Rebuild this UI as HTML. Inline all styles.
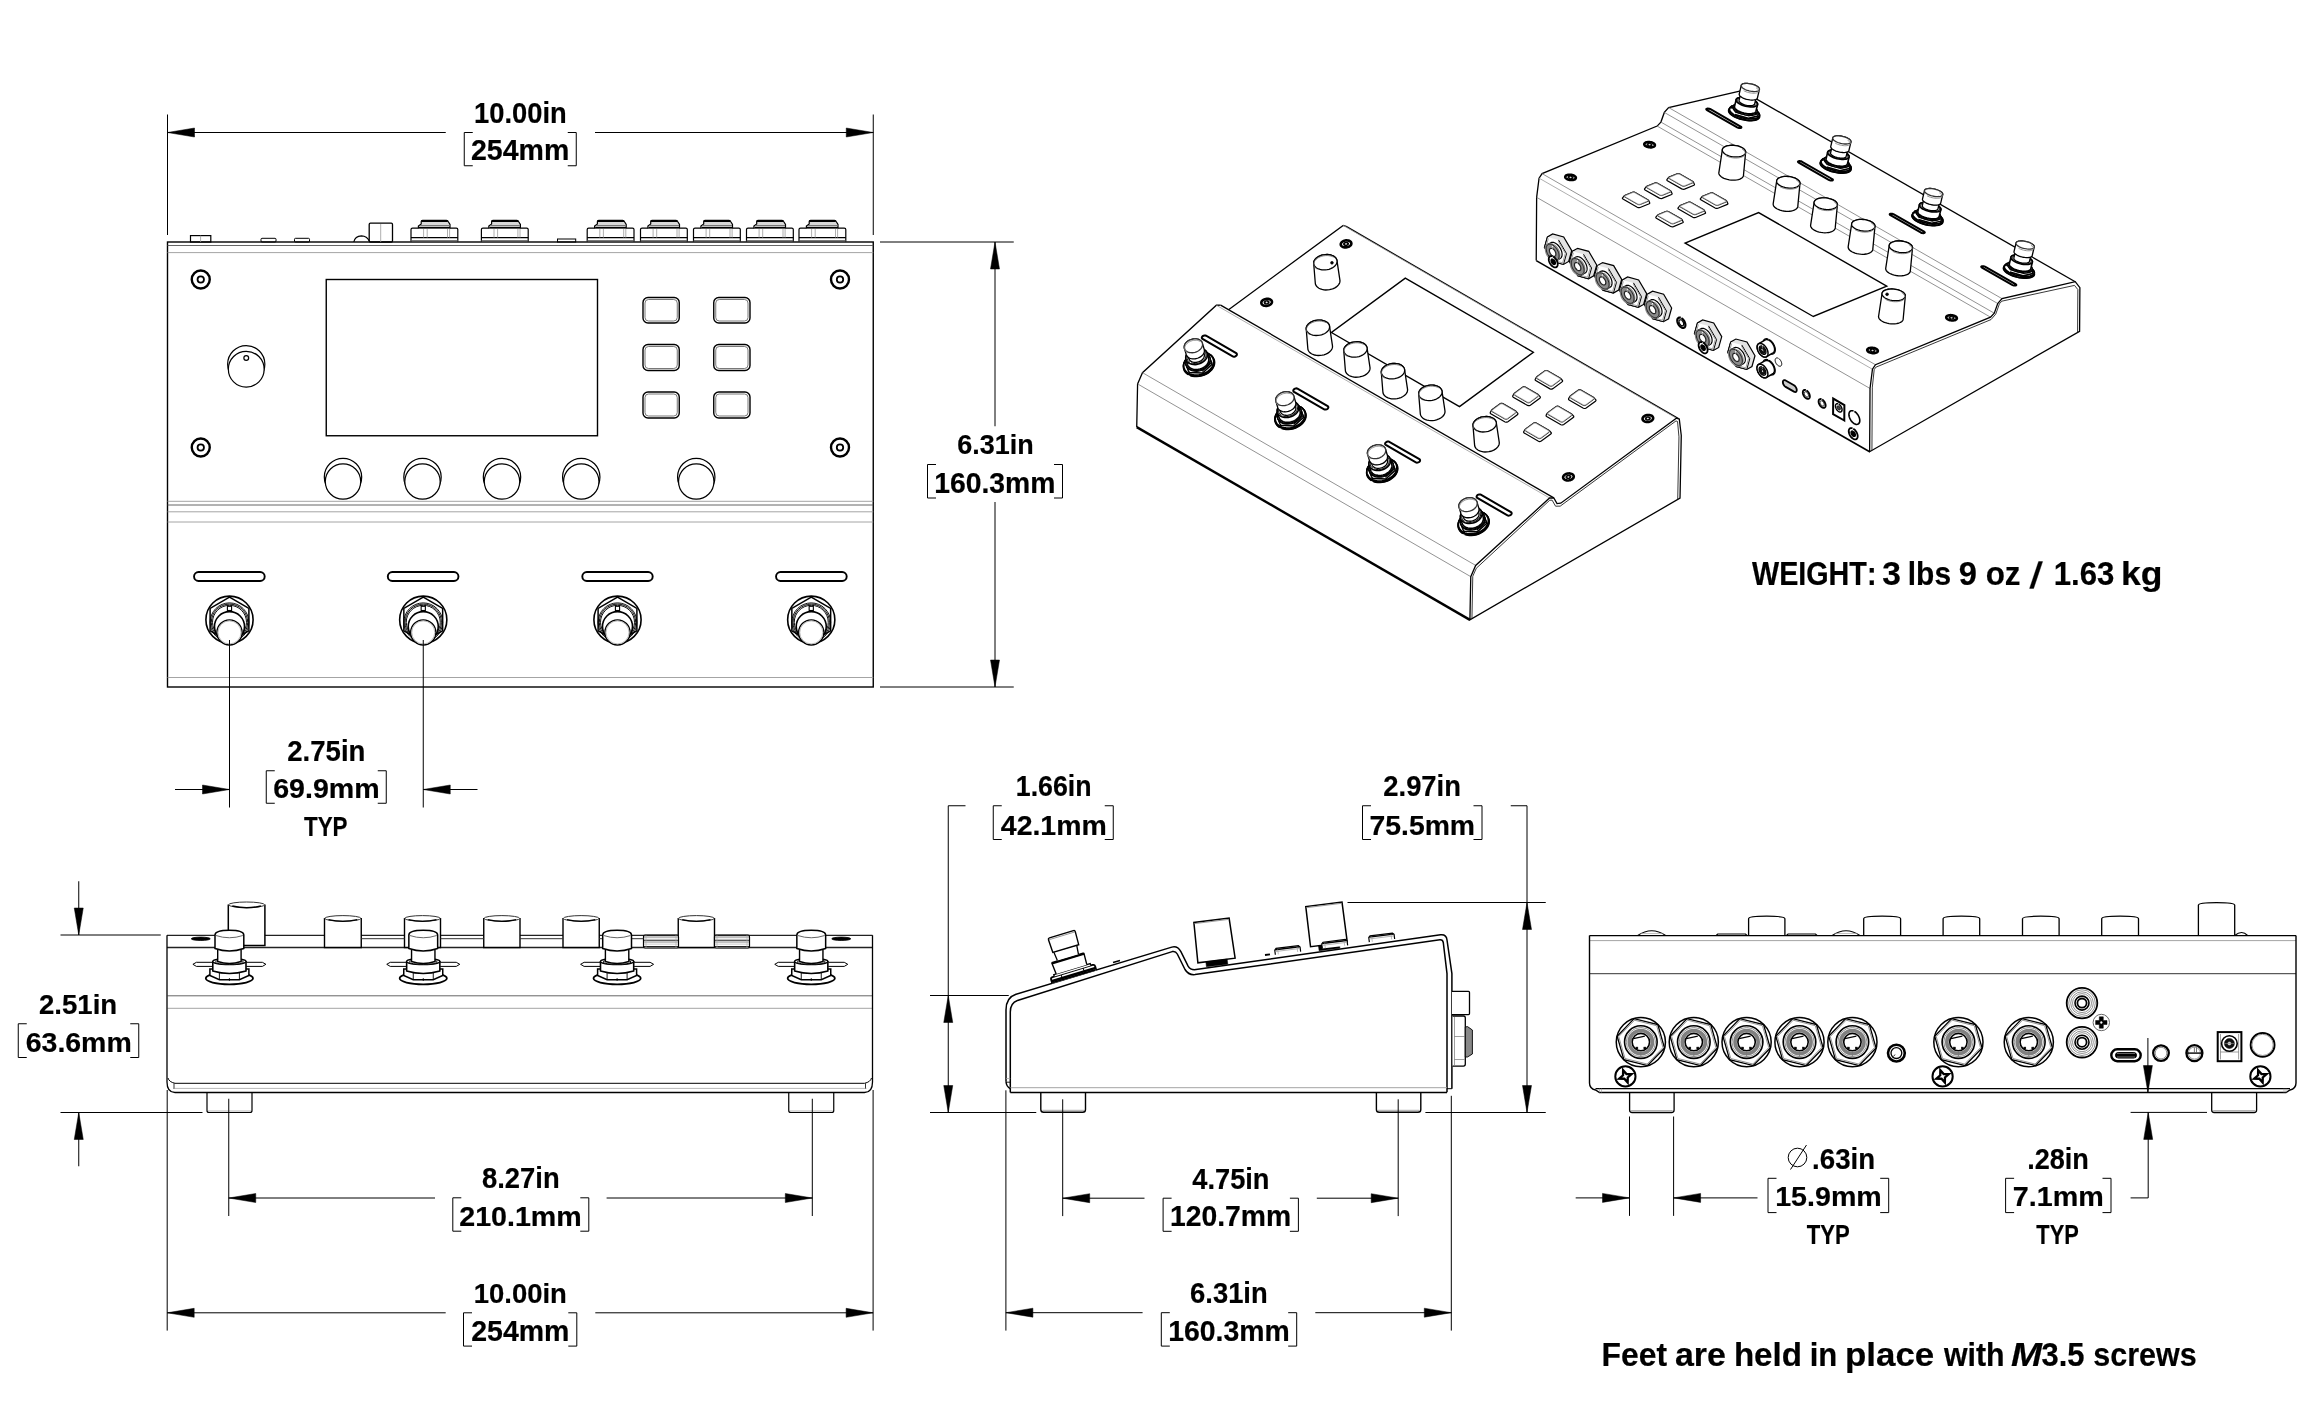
<!DOCTYPE html>
<html><head><meta charset="utf-8"><style>
html,body{margin:0;padding:0;background:#fff;}
svg{display:block;filter:grayscale(1);}
text{font-family:"Liberation Sans",sans-serif;font-kerning:none;}
</style></head><body>
<svg xmlns="http://www.w3.org/2000/svg" width="2316" height="1416" viewBox="0 0 2316 1416">
<rect width="2316" height="1416" fill="#fff"/>
<rect x="167.5" y="242" width="705.75" height="445" stroke="#000" stroke-width="1.4" fill="none"/>
<line x1="167.5" y1="245.5" x2="873.25" y2="245.5" stroke="#555" stroke-width="0.9"/>
<line x1="167.5" y1="252.6" x2="873.25" y2="252.6" stroke="#9a9a9a" stroke-width="0.9"/>
<line x1="167.5" y1="501.3" x2="873.25" y2="501.3" stroke="#9a9a9a" stroke-width="0.9"/>
<line x1="167.5" y1="505" x2="873.25" y2="505" stroke="#555" stroke-width="0.9"/>
<line x1="167.5" y1="511.8" x2="873.25" y2="511.8" stroke="#9a9a9a" stroke-width="0.9"/>
<line x1="167.5" y1="522" x2="873.25" y2="522" stroke="#9a9a9a" stroke-width="0.9"/>
<line x1="167.5" y1="677.5" x2="873.25" y2="677.5" stroke="#9a9a9a" stroke-width="0.9"/>
<circle cx="200.75" cy="279.5" r="9" stroke="#000" stroke-width="2.4" fill="none"/>
<circle cx="200.75" cy="279.5" r="3.2" stroke="#000" stroke-width="1.8" fill="none"/>
<circle cx="840" cy="279.5" r="9" stroke="#000" stroke-width="2.4" fill="none"/>
<circle cx="840" cy="279.5" r="3.2" stroke="#000" stroke-width="1.8" fill="none"/>
<circle cx="200.75" cy="447.5" r="9" stroke="#000" stroke-width="2.4" fill="none"/>
<circle cx="200.75" cy="447.5" r="3.2" stroke="#000" stroke-width="1.8" fill="none"/>
<circle cx="840" cy="447.5" r="9" stroke="#000" stroke-width="2.4" fill="none"/>
<circle cx="840" cy="447.5" r="3.2" stroke="#000" stroke-width="1.8" fill="none"/>
<circle cx="246.25" cy="364.2" r="18.6" stroke="#000" stroke-width="1.2" fill="none"/>
<circle cx="246.25" cy="369.2" r="17.9" stroke="#000" stroke-width="1.2" fill="#fff"/>
<circle cx="246.25" cy="358" r="2.4" stroke="#000" stroke-width="1.2" fill="none"/>
<rect x="326.25" y="279.5" width="271.25" height="156.25" stroke="#000" stroke-width="1.4" fill="none"/>
<rect x="643" y="297.5" width="36.25" height="25.5" rx="5" stroke="#000" stroke-width="1.4" fill="none"/>
<rect x="645" y="299.5" width="32.25" height="21.5" rx="3.5" stroke="#555" stroke-width="0.8" fill="none"/>
<rect x="643" y="344.5" width="36.25" height="26" rx="5" stroke="#000" stroke-width="1.4" fill="none"/>
<rect x="645" y="346.5" width="32.25" height="22" rx="3.5" stroke="#555" stroke-width="0.8" fill="none"/>
<rect x="643" y="392" width="36.25" height="26" rx="5" stroke="#000" stroke-width="1.4" fill="none"/>
<rect x="645" y="394" width="32.25" height="22" rx="3.5" stroke="#555" stroke-width="0.8" fill="none"/>
<rect x="713.75" y="297.5" width="36.25" height="25.5" rx="5" stroke="#000" stroke-width="1.4" fill="none"/>
<rect x="715.75" y="299.5" width="32.25" height="21.5" rx="3.5" stroke="#555" stroke-width="0.8" fill="none"/>
<rect x="713.75" y="344.5" width="36.25" height="26" rx="5" stroke="#000" stroke-width="1.4" fill="none"/>
<rect x="715.75" y="346.5" width="32.25" height="22" rx="3.5" stroke="#555" stroke-width="0.8" fill="none"/>
<rect x="713.75" y="392" width="36.25" height="26" rx="5" stroke="#000" stroke-width="1.4" fill="none"/>
<rect x="715.75" y="394" width="32.25" height="22" rx="3.5" stroke="#555" stroke-width="0.8" fill="none"/>
<circle cx="343" cy="477" r="18.7" stroke="#000" stroke-width="1.2" fill="none"/>
<circle cx="343" cy="481.5" r="17.7" stroke="#000" stroke-width="1.2" fill="#fff"/>
<circle cx="422.5" cy="477" r="18.7" stroke="#000" stroke-width="1.2" fill="none"/>
<circle cx="422.5" cy="481.5" r="17.7" stroke="#000" stroke-width="1.2" fill="#fff"/>
<circle cx="502" cy="477" r="18.7" stroke="#000" stroke-width="1.2" fill="none"/>
<circle cx="502" cy="481.5" r="17.7" stroke="#000" stroke-width="1.2" fill="#fff"/>
<circle cx="581.25" cy="477" r="18.7" stroke="#000" stroke-width="1.2" fill="none"/>
<circle cx="581.25" cy="481.5" r="17.7" stroke="#000" stroke-width="1.2" fill="#fff"/>
<circle cx="696.25" cy="477" r="18.7" stroke="#000" stroke-width="1.2" fill="none"/>
<circle cx="696.25" cy="481.5" r="17.7" stroke="#000" stroke-width="1.2" fill="#fff"/>
<rect x="194.05" y="572" width="70.65" height="9" rx="4.5" stroke="#000" stroke-width="1.9" fill="none"/>
<rect x="387.8" y="572" width="70.65" height="9" rx="4.5" stroke="#000" stroke-width="1.9" fill="none"/>
<rect x="582.3" y="572" width="70.4" height="9" rx="4.5" stroke="#000" stroke-width="1.9" fill="none"/>
<rect x="776.05" y="572" width="70.65" height="9" rx="4.5" stroke="#000" stroke-width="1.9" fill="none"/>
<circle cx="229.5" cy="619.7" r="23.6" stroke="#000" stroke-width="1.6" fill="none"/>
<polygon points="229.5,597.2 210.1,608.4 210.1,630.8 229.5,642 248.9,630.8 248.9,608.4" stroke="#000" stroke-width="1.5" fill="none"/>
<circle cx="229.5" cy="622.3" r="19.4" stroke="#000" stroke-width="0.95" fill="none"/>
<circle cx="229.5" cy="622.3" r="18.2" stroke="#000" stroke-width="0.95" fill="none"/>
<circle cx="229.5" cy="622.3" r="17" stroke="#000" stroke-width="0.95" fill="none"/>
<circle cx="229.5" cy="626.6" r="15" stroke="#000" stroke-width="1.6" fill="#fff"/>
<rect x="227.4" y="606.3" width="4.2" height="4.2" stroke="#000" stroke-width="1.1" fill="#fff"/>
<circle cx="229.5" cy="632.4" r="12.6" stroke="#000" stroke-width="1.3" fill="#fff"/>
<circle cx="229.5" cy="632.4" r="11.5" stroke="#aaa" stroke-width="0.8" fill="none"/>
<circle cx="423.25" cy="619.7" r="23.6" stroke="#000" stroke-width="1.6" fill="none"/>
<polygon points="423.25,597.2 403.85,608.4 403.85,630.8 423.25,642 442.65,630.8 442.65,608.4" stroke="#000" stroke-width="1.5" fill="none"/>
<circle cx="423.25" cy="622.3" r="19.4" stroke="#000" stroke-width="0.95" fill="none"/>
<circle cx="423.25" cy="622.3" r="18.2" stroke="#000" stroke-width="0.95" fill="none"/>
<circle cx="423.25" cy="622.3" r="17" stroke="#000" stroke-width="0.95" fill="none"/>
<circle cx="423.25" cy="626.6" r="15" stroke="#000" stroke-width="1.6" fill="#fff"/>
<rect x="421.15" y="606.3" width="4.2" height="4.2" stroke="#000" stroke-width="1.1" fill="#fff"/>
<circle cx="423.25" cy="632.4" r="12.6" stroke="#000" stroke-width="1.3" fill="#fff"/>
<circle cx="423.25" cy="632.4" r="11.5" stroke="#aaa" stroke-width="0.8" fill="none"/>
<circle cx="617.5" cy="619.7" r="23.6" stroke="#000" stroke-width="1.6" fill="none"/>
<polygon points="617.5,597.2 598.1,608.4 598.1,630.8 617.5,642 636.9,630.8 636.9,608.4" stroke="#000" stroke-width="1.5" fill="none"/>
<circle cx="617.5" cy="622.3" r="19.4" stroke="#000" stroke-width="0.95" fill="none"/>
<circle cx="617.5" cy="622.3" r="18.2" stroke="#000" stroke-width="0.95" fill="none"/>
<circle cx="617.5" cy="622.3" r="17" stroke="#000" stroke-width="0.95" fill="none"/>
<circle cx="617.5" cy="626.6" r="15" stroke="#000" stroke-width="1.6" fill="#fff"/>
<rect x="615.4" y="606.3" width="4.2" height="4.2" stroke="#000" stroke-width="1.1" fill="#fff"/>
<circle cx="617.5" cy="632.4" r="12.6" stroke="#000" stroke-width="1.3" fill="#fff"/>
<circle cx="617.5" cy="632.4" r="11.5" stroke="#aaa" stroke-width="0.8" fill="none"/>
<circle cx="811.25" cy="619.7" r="23.6" stroke="#000" stroke-width="1.6" fill="none"/>
<polygon points="811.25,597.2 791.85,608.4 791.85,630.8 811.25,642 830.65,630.8 830.65,608.4" stroke="#000" stroke-width="1.5" fill="none"/>
<circle cx="811.25" cy="622.3" r="19.4" stroke="#000" stroke-width="0.95" fill="none"/>
<circle cx="811.25" cy="622.3" r="18.2" stroke="#000" stroke-width="0.95" fill="none"/>
<circle cx="811.25" cy="622.3" r="17" stroke="#000" stroke-width="0.95" fill="none"/>
<circle cx="811.25" cy="626.6" r="15" stroke="#000" stroke-width="1.6" fill="#fff"/>
<rect x="809.15" y="606.3" width="4.2" height="4.2" stroke="#000" stroke-width="1.1" fill="#fff"/>
<circle cx="811.25" cy="632.4" r="12.6" stroke="#000" stroke-width="1.3" fill="#fff"/>
<circle cx="811.25" cy="632.4" r="11.5" stroke="#aaa" stroke-width="0.8" fill="none"/>
<rect x="190.5" y="235.6" width="20.3" height="6.4" stroke="#000" stroke-width="1.2" fill="none"/>
<line x1="200.6" y1="235.6" x2="200.6" y2="242" stroke="#9a9a9a" stroke-width="0.8"/>
<rect x="261" y="238.3" width="15" height="3.7" rx="1" stroke="#000" stroke-width="1" fill="none"/>
<rect x="294.5" y="238.3" width="15" height="3.7" rx="1" stroke="#000" stroke-width="1" fill="none"/>
<path d="M353.8,242 Q355,236 361.5,235.8 Q367,236 369.3,241" stroke="#000" stroke-width="1.2" fill="none"/>
<rect x="369.2" y="223.2" width="23.3" height="18.8" rx="1.2" stroke="#000" stroke-width="1.3" fill="none"/>
<line x1="380.7" y1="224" x2="380.7" y2="242" stroke="#9a9a9a" stroke-width="0.8"/>
<path d="M411,241.4 L411,229.5 Q411,228.2 412.5,228.2 L456.3,228.2 Q457.8,228.2 457.8,229.5 L457.8,241.4" stroke="#000" stroke-width="1.2" fill="none"/>
<line x1="411" y1="237.6" x2="457.8" y2="237.6" stroke="#000" stroke-width="1.4"/>
<line x1="411" y1="240.5" x2="457.8" y2="240.5" stroke="#555" stroke-width="0.8"/>
<line x1="423.6" y1="229" x2="423.6" y2="237.6" stroke="#9a9a9a" stroke-width="0.8"/>
<line x1="427.2" y1="229" x2="427.2" y2="237.6" stroke="#9a9a9a" stroke-width="0.8"/>
<line x1="447.5" y1="229" x2="447.5" y2="237.6" stroke="#9a9a9a" stroke-width="0.8"/>
<line x1="449.6" y1="229" x2="449.6" y2="237.6" stroke="#9a9a9a" stroke-width="0.8"/>
<path d="M418.4,228.2 L418.4,226 L421.2,224 L421.2,221.5 Q421.2,220.3 422.5,220.3 L446.5,220.3 Q447.8,220.3 448.5,222 L450,224.5 L450,228.2" stroke="#000" stroke-width="1.2" fill="#d8d8d8"/>
<line x1="421.2" y1="221.2" x2="447.8" y2="221.2" stroke="#000" stroke-width="1.6"/>
<line x1="420" y1="225.5" x2="449.5" y2="225.5" stroke="#777" stroke-width="1"/>
<line x1="419" y1="227.5" x2="450" y2="227.5" stroke="#000" stroke-width="1.2"/>
<path d="M481.4,241.4 L481.4,229.5 Q481.4,228.2 482.9,228.2 L526.7,228.2 Q528.2,228.2 528.2,229.5 L528.2,241.4" stroke="#000" stroke-width="1.2" fill="none"/>
<line x1="481.4" y1="237.6" x2="528.2" y2="237.6" stroke="#000" stroke-width="1.4"/>
<line x1="481.4" y1="240.5" x2="528.2" y2="240.5" stroke="#555" stroke-width="0.8"/>
<line x1="494" y1="229" x2="494" y2="237.6" stroke="#9a9a9a" stroke-width="0.8"/>
<line x1="497.6" y1="229" x2="497.6" y2="237.6" stroke="#9a9a9a" stroke-width="0.8"/>
<line x1="517.9" y1="229" x2="517.9" y2="237.6" stroke="#9a9a9a" stroke-width="0.8"/>
<line x1="520" y1="229" x2="520" y2="237.6" stroke="#9a9a9a" stroke-width="0.8"/>
<path d="M488.8,228.2 L488.8,226 L491.6,224 L491.6,221.5 Q491.6,220.3 492.9,220.3 L516.9,220.3 Q518.2,220.3 518.9,222 L520.4,224.5 L520.4,228.2" stroke="#000" stroke-width="1.2" fill="#d8d8d8"/>
<line x1="491.6" y1="221.2" x2="518.2" y2="221.2" stroke="#000" stroke-width="1.6"/>
<line x1="490.4" y1="225.5" x2="519.9" y2="225.5" stroke="#777" stroke-width="1"/>
<line x1="489.4" y1="227.5" x2="520.4" y2="227.5" stroke="#000" stroke-width="1.2"/>
<path d="M587.2,241.4 L587.2,229.5 Q587.2,228.2 588.7,228.2 L632.5,228.2 Q634,228.2 634,229.5 L634,241.4" stroke="#000" stroke-width="1.2" fill="none"/>
<line x1="587.2" y1="237.6" x2="634" y2="237.6" stroke="#000" stroke-width="1.4"/>
<line x1="587.2" y1="240.5" x2="634" y2="240.5" stroke="#555" stroke-width="0.8"/>
<line x1="599.8" y1="229" x2="599.8" y2="237.6" stroke="#9a9a9a" stroke-width="0.8"/>
<line x1="603.4" y1="229" x2="603.4" y2="237.6" stroke="#9a9a9a" stroke-width="0.8"/>
<line x1="623.7" y1="229" x2="623.7" y2="237.6" stroke="#9a9a9a" stroke-width="0.8"/>
<line x1="625.8" y1="229" x2="625.8" y2="237.6" stroke="#9a9a9a" stroke-width="0.8"/>
<path d="M594.6,228.2 L594.6,226 L597.4,224 L597.4,221.5 Q597.4,220.3 598.7,220.3 L622.7,220.3 Q624,220.3 624.7,222 L626.2,224.5 L626.2,228.2" stroke="#000" stroke-width="1.2" fill="#d8d8d8"/>
<line x1="597.4" y1="221.2" x2="624" y2="221.2" stroke="#000" stroke-width="1.6"/>
<line x1="596.2" y1="225.5" x2="625.7" y2="225.5" stroke="#777" stroke-width="1"/>
<line x1="595.2" y1="227.5" x2="626.2" y2="227.5" stroke="#000" stroke-width="1.2"/>
<path d="M640.5,241.4 L640.5,229.5 Q640.5,228.2 642,228.2 L685.8,228.2 Q687.3,228.2 687.3,229.5 L687.3,241.4" stroke="#000" stroke-width="1.2" fill="none"/>
<line x1="640.5" y1="237.6" x2="687.3" y2="237.6" stroke="#000" stroke-width="1.4"/>
<line x1="640.5" y1="240.5" x2="687.3" y2="240.5" stroke="#555" stroke-width="0.8"/>
<line x1="653.1" y1="229" x2="653.1" y2="237.6" stroke="#9a9a9a" stroke-width="0.8"/>
<line x1="656.7" y1="229" x2="656.7" y2="237.6" stroke="#9a9a9a" stroke-width="0.8"/>
<line x1="677" y1="229" x2="677" y2="237.6" stroke="#9a9a9a" stroke-width="0.8"/>
<line x1="679.1" y1="229" x2="679.1" y2="237.6" stroke="#9a9a9a" stroke-width="0.8"/>
<path d="M647.9,228.2 L647.9,226 L650.7,224 L650.7,221.5 Q650.7,220.3 652,220.3 L676,220.3 Q677.3,220.3 678,222 L679.5,224.5 L679.5,228.2" stroke="#000" stroke-width="1.2" fill="#d8d8d8"/>
<line x1="650.7" y1="221.2" x2="677.3" y2="221.2" stroke="#000" stroke-width="1.6"/>
<line x1="649.5" y1="225.5" x2="679" y2="225.5" stroke="#777" stroke-width="1"/>
<line x1="648.5" y1="227.5" x2="679.5" y2="227.5" stroke="#000" stroke-width="1.2"/>
<path d="M693.5,241.4 L693.5,229.5 Q693.5,228.2 695,228.2 L738.8,228.2 Q740.3,228.2 740.3,229.5 L740.3,241.4" stroke="#000" stroke-width="1.2" fill="none"/>
<line x1="693.5" y1="237.6" x2="740.3" y2="237.6" stroke="#000" stroke-width="1.4"/>
<line x1="693.5" y1="240.5" x2="740.3" y2="240.5" stroke="#555" stroke-width="0.8"/>
<line x1="706.1" y1="229" x2="706.1" y2="237.6" stroke="#9a9a9a" stroke-width="0.8"/>
<line x1="709.7" y1="229" x2="709.7" y2="237.6" stroke="#9a9a9a" stroke-width="0.8"/>
<line x1="730" y1="229" x2="730" y2="237.6" stroke="#9a9a9a" stroke-width="0.8"/>
<line x1="732.1" y1="229" x2="732.1" y2="237.6" stroke="#9a9a9a" stroke-width="0.8"/>
<path d="M700.9,228.2 L700.9,226 L703.7,224 L703.7,221.5 Q703.7,220.3 705,220.3 L729,220.3 Q730.3,220.3 731,222 L732.5,224.5 L732.5,228.2" stroke="#000" stroke-width="1.2" fill="#d8d8d8"/>
<line x1="703.7" y1="221.2" x2="730.3" y2="221.2" stroke="#000" stroke-width="1.6"/>
<line x1="702.5" y1="225.5" x2="732" y2="225.5" stroke="#777" stroke-width="1"/>
<line x1="701.5" y1="227.5" x2="732.5" y2="227.5" stroke="#000" stroke-width="1.2"/>
<path d="M746.5,241.4 L746.5,229.5 Q746.5,228.2 748,228.2 L791.8,228.2 Q793.3,228.2 793.3,229.5 L793.3,241.4" stroke="#000" stroke-width="1.2" fill="none"/>
<line x1="746.5" y1="237.6" x2="793.3" y2="237.6" stroke="#000" stroke-width="1.4"/>
<line x1="746.5" y1="240.5" x2="793.3" y2="240.5" stroke="#555" stroke-width="0.8"/>
<line x1="759.1" y1="229" x2="759.1" y2="237.6" stroke="#9a9a9a" stroke-width="0.8"/>
<line x1="762.7" y1="229" x2="762.7" y2="237.6" stroke="#9a9a9a" stroke-width="0.8"/>
<line x1="783" y1="229" x2="783" y2="237.6" stroke="#9a9a9a" stroke-width="0.8"/>
<line x1="785.1" y1="229" x2="785.1" y2="237.6" stroke="#9a9a9a" stroke-width="0.8"/>
<path d="M753.9,228.2 L753.9,226 L756.7,224 L756.7,221.5 Q756.7,220.3 758,220.3 L782,220.3 Q783.3,220.3 784,222 L785.5,224.5 L785.5,228.2" stroke="#000" stroke-width="1.2" fill="#d8d8d8"/>
<line x1="756.7" y1="221.2" x2="783.3" y2="221.2" stroke="#000" stroke-width="1.6"/>
<line x1="755.5" y1="225.5" x2="785" y2="225.5" stroke="#777" stroke-width="1"/>
<line x1="754.5" y1="227.5" x2="785.5" y2="227.5" stroke="#000" stroke-width="1.2"/>
<path d="M799,241.4 L799,229.5 Q799,228.2 800.5,228.2 L844.3,228.2 Q845.8,228.2 845.8,229.5 L845.8,241.4" stroke="#000" stroke-width="1.2" fill="none"/>
<line x1="799" y1="237.6" x2="845.8" y2="237.6" stroke="#000" stroke-width="1.4"/>
<line x1="799" y1="240.5" x2="845.8" y2="240.5" stroke="#555" stroke-width="0.8"/>
<line x1="811.6" y1="229" x2="811.6" y2="237.6" stroke="#9a9a9a" stroke-width="0.8"/>
<line x1="815.2" y1="229" x2="815.2" y2="237.6" stroke="#9a9a9a" stroke-width="0.8"/>
<line x1="835.5" y1="229" x2="835.5" y2="237.6" stroke="#9a9a9a" stroke-width="0.8"/>
<line x1="837.6" y1="229" x2="837.6" y2="237.6" stroke="#9a9a9a" stroke-width="0.8"/>
<path d="M806.4,228.2 L806.4,226 L809.2,224 L809.2,221.5 Q809.2,220.3 810.5,220.3 L834.5,220.3 Q835.8,220.3 836.5,222 L838,224.5 L838,228.2" stroke="#000" stroke-width="1.2" fill="#d8d8d8"/>
<line x1="809.2" y1="221.2" x2="835.8" y2="221.2" stroke="#000" stroke-width="1.6"/>
<line x1="808" y1="225.5" x2="837.5" y2="225.5" stroke="#777" stroke-width="1"/>
<line x1="807" y1="227.5" x2="838" y2="227.5" stroke="#000" stroke-width="1.2"/>
<rect x="557.5" y="239" width="18.2" height="3" stroke="#000" stroke-width="1" fill="none"/>
<line x1="167" y1="935.3" x2="872.5" y2="935.3" stroke="#222" stroke-width="1.3"/>
<line x1="167" y1="947.5" x2="872.5" y2="947.5" stroke="#222" stroke-width="1.3"/>
<line x1="167.5" y1="995.8" x2="872" y2="995.8" stroke="#555" stroke-width="0.9"/>
<line x1="167.5" y1="1008.3" x2="872" y2="1008.3" stroke="#9a9a9a" stroke-width="0.9"/>
<path d="M167,935.3 L167,1082 Q167,1092.5 175,1092.5 L864.5,1092.5 Q872.5,1092.5 872.5,1082 L872.5,935.3" stroke="#000" stroke-width="1.3" fill="none"/>
<path d="M168,1078 Q169,1082 175,1083.3 L864.5,1083.3 Q870.5,1082 871.5,1078" stroke="#000" stroke-width="1" fill="none"/>
<line x1="174" y1="1083.3" x2="174" y2="1089" stroke="#000" stroke-width="0.8"/>
<line x1="865.5" y1="1083.3" x2="865.5" y2="1089" stroke="#000" stroke-width="0.8"/>
<line x1="173" y1="1088.4" x2="866.5" y2="1088.4" stroke="#9a9a9a" stroke-width="0.7"/>
<path d="M207,1092.5 L207,1110.5 Q207,1112.5 209,1112.5 L250,1112.5 Q252,1112.5 252,1110.5 L252,1092.5" stroke="#000" stroke-width="1.2" fill="none"/>
<line x1="208" y1="1111" x2="251" y2="1111" stroke="#9a9a9a" stroke-width="0.7"/>
<path d="M788.75,1092.5 L788.75,1110.5 Q788.75,1112.5 790.75,1112.5 L831.75,1112.5 Q833.75,1112.5 833.75,1110.5 L833.75,1092.5" stroke="#000" stroke-width="1.2" fill="none"/>
<line x1="789.75" y1="1111" x2="832.75" y2="1111" stroke="#9a9a9a" stroke-width="0.7"/>
<ellipse cx="200.75" cy="938.8" rx="9.5" ry="1.7" stroke="#000" stroke-width="0.8" fill="#000"/>
<ellipse cx="841.25" cy="938.8" rx="9.5" ry="1.7" stroke="#000" stroke-width="0.8" fill="#000"/>
<path d="M228.3,904.5 L228.3,945.5 L264.9,945.5 L264.9,904.5" stroke="#000" stroke-width="1.5" fill="#fff"/>
<ellipse cx="246.6" cy="904.8" rx="18" ry="2.8" stroke="#333" stroke-width="1" fill="#fff"/>
<path d="M232.3,906 Q246.6,909.5 260.9,906" stroke="#000" stroke-width="1.3" fill="none"/>
<path d="M324.5,918.1 L324.5,947.5 L361.25,947.5 L361.25,918.1" stroke="#000" stroke-width="1.4" fill="#fff"/>
<ellipse cx="342.88" cy="918.4" rx="18.07" ry="2.8" stroke="#333" stroke-width="1" fill="#fff"/>
<path d="M328.5,919.6 Q342.88,923.1 357.25,919.6" stroke="#000" stroke-width="1.3" fill="none"/>
<path d="M404.5,918.1 L404.5,947.5 L440.5,947.5 L440.5,918.1" stroke="#000" stroke-width="1.4" fill="#fff"/>
<ellipse cx="422.5" cy="918.4" rx="17.7" ry="2.8" stroke="#333" stroke-width="1" fill="#fff"/>
<path d="M408.5,919.6 Q422.5,923.1 436.5,919.6" stroke="#000" stroke-width="1.3" fill="none"/>
<path d="M483.75,918.1 L483.75,947.5 L520,947.5 L520,918.1" stroke="#000" stroke-width="1.4" fill="#fff"/>
<ellipse cx="501.88" cy="918.4" rx="17.82" ry="2.8" stroke="#333" stroke-width="1" fill="#fff"/>
<path d="M487.75,919.6 Q501.88,923.1 516,919.6" stroke="#000" stroke-width="1.3" fill="none"/>
<path d="M563,918.1 L563,947.5 L599.25,947.5 L599.25,918.1" stroke="#000" stroke-width="1.4" fill="#fff"/>
<ellipse cx="581.12" cy="918.4" rx="17.82" ry="2.8" stroke="#333" stroke-width="1" fill="#fff"/>
<path d="M567,919.6 Q581.12,923.1 595.25,919.6" stroke="#000" stroke-width="1.3" fill="none"/>
<path d="M678.25,918.1 L678.25,947.5 L714.5,947.5 L714.5,918.1" stroke="#000" stroke-width="1.4" fill="#fff"/>
<ellipse cx="696.38" cy="918.4" rx="17.82" ry="2.8" stroke="#333" stroke-width="1" fill="#fff"/>
<path d="M682.25,919.6 Q696.38,923.1 710.5,919.6" stroke="#000" stroke-width="1.3" fill="none"/>
<rect x="643.5" y="935.2" width="35" height="12.8" rx="1.5" stroke="#000" stroke-width="1.2" fill="#fff"/>
<line x1="644" y1="935.6" x2="678" y2="935.6" stroke="#222" stroke-width="1.2"/>
<line x1="644" y1="937.6" x2="678" y2="937.6" stroke="#999" stroke-width="0.7"/>
<line x1="644" y1="939.4" x2="678" y2="939.4" stroke="#999" stroke-width="0.7"/>
<line x1="644" y1="940.8" x2="678" y2="940.8" stroke="#222" stroke-width="1.1"/>
<line x1="644" y1="942.6" x2="678" y2="942.6" stroke="#aaa" stroke-width="0.8"/>
<line x1="644" y1="944.2" x2="678" y2="944.2" stroke="#bbb" stroke-width="0.7"/>
<line x1="644" y1="946.6" x2="678" y2="946.6" stroke="#222" stroke-width="1.2"/>
<line x1="646" y1="935.2" x2="646" y2="948" stroke="#aaa" stroke-width="0.6"/>
<line x1="676" y1="935.2" x2="676" y2="948" stroke="#aaa" stroke-width="0.6"/>
<rect x="714.5" y="935.2" width="35" height="12.8" rx="1.5" stroke="#000" stroke-width="1.2" fill="#fff"/>
<line x1="715" y1="935.6" x2="749" y2="935.6" stroke="#222" stroke-width="1.2"/>
<line x1="715" y1="937.6" x2="749" y2="937.6" stroke="#999" stroke-width="0.7"/>
<line x1="715" y1="939.4" x2="749" y2="939.4" stroke="#999" stroke-width="0.7"/>
<line x1="715" y1="940.8" x2="749" y2="940.8" stroke="#222" stroke-width="1.1"/>
<line x1="715" y1="942.6" x2="749" y2="942.6" stroke="#aaa" stroke-width="0.8"/>
<line x1="715" y1="944.2" x2="749" y2="944.2" stroke="#bbb" stroke-width="0.7"/>
<line x1="715" y1="946.6" x2="749" y2="946.6" stroke="#222" stroke-width="1.2"/>
<line x1="717" y1="935.2" x2="717" y2="948" stroke="#aaa" stroke-width="0.6"/>
<line x1="747" y1="935.2" x2="747" y2="948" stroke="#aaa" stroke-width="0.6"/>
<line x1="361.25" y1="938.7" x2="404.5" y2="938.7" stroke="#333" stroke-width="1"/>
<line x1="440.5" y1="938.7" x2="483.75" y2="938.7" stroke="#333" stroke-width="1"/>
<line x1="520" y1="938.7" x2="563" y2="938.7" stroke="#333" stroke-width="1"/>
<line x1="599.25" y1="938.7" x2="643.5" y2="938.7" stroke="#333" stroke-width="1"/>
<ellipse cx="229.4" cy="978.3" rx="23.6" ry="6" stroke="#000" stroke-width="1.8" fill="none"/>
<path d="M209.9,969 L209.9,975.5 L219.4,979.8 L239.4,979.8 L248.9,975.5 L248.9,969 Z" stroke="#000" stroke-width="1.5" fill="#fff"/>
<line x1="219.4" y1="970.5" x2="219.4" y2="979.8" stroke="#000" stroke-width="0.9"/>
<line x1="239.4" y1="970.5" x2="239.4" y2="979.8" stroke="#000" stroke-width="0.9"/>
<line x1="229.4" y1="978" x2="229.4" y2="981" stroke="#000" stroke-width="0.8"/>
<path d="M212.8,961 L212.8,971 Q229.4,976 246,971 L246,961" stroke="#000" stroke-width="1.6" fill="#fff"/>
<ellipse cx="229.4" cy="961.5" rx="16.6" ry="3" stroke="#000" stroke-width="1.4" fill="#fff"/>
<ellipse cx="229.4" cy="962" rx="14" ry="2.4" stroke="#000" stroke-width="1" fill="#fff"/>
<polyline points="192.9,964.3 196.4,962.3 212.4,962.3" stroke="#000" stroke-width="1" fill="none"/>
<polyline points="192.9,964.3 196.4,966.4 212.4,966.4" stroke="#000" stroke-width="1" fill="none"/>
<polyline points="265.9,964.3 262.4,962.3 246.4,962.3" stroke="#000" stroke-width="1" fill="none"/>
<polyline points="265.9,964.3 262.4,966.4 246.4,966.4" stroke="#000" stroke-width="1" fill="none"/>
<path d="M217.7,950 L217.7,961.5 Q229.4,965.5 241.1,961.5 L241.1,950" stroke="#000" stroke-width="1.4" fill="#fff"/>
<path d="M215,935 Q215,930.2 229.4,930.2 Q243.8,930.2 243.8,935 L243.8,948.5 Q229.4,953.5 215,948.5 Z" stroke="#000" stroke-width="1.5" fill="#fff"/>
<path d="M215.9,935.5 Q229.4,940 242.9,935.5" stroke="#666" stroke-width="1" fill="none"/>
<ellipse cx="423.25" cy="978.3" rx="23.6" ry="6" stroke="#000" stroke-width="1.8" fill="none"/>
<path d="M403.75,969 L403.75,975.5 L413.25,979.8 L433.25,979.8 L442.75,975.5 L442.75,969 Z" stroke="#000" stroke-width="1.5" fill="#fff"/>
<line x1="413.25" y1="970.5" x2="413.25" y2="979.8" stroke="#000" stroke-width="0.9"/>
<line x1="433.25" y1="970.5" x2="433.25" y2="979.8" stroke="#000" stroke-width="0.9"/>
<line x1="423.25" y1="978" x2="423.25" y2="981" stroke="#000" stroke-width="0.8"/>
<path d="M406.65,961 L406.65,971 Q423.25,976 439.85,971 L439.85,961" stroke="#000" stroke-width="1.6" fill="#fff"/>
<ellipse cx="423.25" cy="961.5" rx="16.6" ry="3" stroke="#000" stroke-width="1.4" fill="#fff"/>
<ellipse cx="423.25" cy="962" rx="14" ry="2.4" stroke="#000" stroke-width="1" fill="#fff"/>
<polyline points="386.75,964.3 390.25,962.3 406.25,962.3" stroke="#000" stroke-width="1" fill="none"/>
<polyline points="386.75,964.3 390.25,966.4 406.25,966.4" stroke="#000" stroke-width="1" fill="none"/>
<polyline points="459.75,964.3 456.25,962.3 440.25,962.3" stroke="#000" stroke-width="1" fill="none"/>
<polyline points="459.75,964.3 456.25,966.4 440.25,966.4" stroke="#000" stroke-width="1" fill="none"/>
<path d="M411.55,950 L411.55,961.5 Q423.25,965.5 434.95,961.5 L434.95,950" stroke="#000" stroke-width="1.4" fill="#fff"/>
<path d="M408.85,935 Q408.85,930.2 423.25,930.2 Q437.65,930.2 437.65,935 L437.65,948.5 Q423.25,953.5 408.85,948.5 Z" stroke="#000" stroke-width="1.5" fill="#fff"/>
<path d="M409.75,935.5 Q423.25,940 436.75,935.5" stroke="#666" stroke-width="1" fill="none"/>
<ellipse cx="617.1" cy="978.3" rx="23.6" ry="6" stroke="#000" stroke-width="1.8" fill="none"/>
<path d="M597.6,969 L597.6,975.5 L607.1,979.8 L627.1,979.8 L636.6,975.5 L636.6,969 Z" stroke="#000" stroke-width="1.5" fill="#fff"/>
<line x1="607.1" y1="970.5" x2="607.1" y2="979.8" stroke="#000" stroke-width="0.9"/>
<line x1="627.1" y1="970.5" x2="627.1" y2="979.8" stroke="#000" stroke-width="0.9"/>
<line x1="617.1" y1="978" x2="617.1" y2="981" stroke="#000" stroke-width="0.8"/>
<path d="M600.5,961 L600.5,971 Q617.1,976 633.7,971 L633.7,961" stroke="#000" stroke-width="1.6" fill="#fff"/>
<ellipse cx="617.1" cy="961.5" rx="16.6" ry="3" stroke="#000" stroke-width="1.4" fill="#fff"/>
<ellipse cx="617.1" cy="962" rx="14" ry="2.4" stroke="#000" stroke-width="1" fill="#fff"/>
<polyline points="580.6,964.3 584.1,962.3 600.1,962.3" stroke="#000" stroke-width="1" fill="none"/>
<polyline points="580.6,964.3 584.1,966.4 600.1,966.4" stroke="#000" stroke-width="1" fill="none"/>
<polyline points="653.6,964.3 650.1,962.3 634.1,962.3" stroke="#000" stroke-width="1" fill="none"/>
<polyline points="653.6,964.3 650.1,966.4 634.1,966.4" stroke="#000" stroke-width="1" fill="none"/>
<path d="M605.4,950 L605.4,961.5 Q617.1,965.5 628.8,961.5 L628.8,950" stroke="#000" stroke-width="1.4" fill="#fff"/>
<path d="M602.7,935 Q602.7,930.2 617.1,930.2 Q631.5,930.2 631.5,935 L631.5,948.5 Q617.1,953.5 602.7,948.5 Z" stroke="#000" stroke-width="1.5" fill="#fff"/>
<path d="M603.6,935.5 Q617.1,940 630.6,935.5" stroke="#666" stroke-width="1" fill="none"/>
<ellipse cx="811.25" cy="978.3" rx="23.6" ry="6" stroke="#000" stroke-width="1.8" fill="none"/>
<path d="M791.75,969 L791.75,975.5 L801.25,979.8 L821.25,979.8 L830.75,975.5 L830.75,969 Z" stroke="#000" stroke-width="1.5" fill="#fff"/>
<line x1="801.25" y1="970.5" x2="801.25" y2="979.8" stroke="#000" stroke-width="0.9"/>
<line x1="821.25" y1="970.5" x2="821.25" y2="979.8" stroke="#000" stroke-width="0.9"/>
<line x1="811.25" y1="978" x2="811.25" y2="981" stroke="#000" stroke-width="0.8"/>
<path d="M794.65,961 L794.65,971 Q811.25,976 827.85,971 L827.85,961" stroke="#000" stroke-width="1.6" fill="#fff"/>
<ellipse cx="811.25" cy="961.5" rx="16.6" ry="3" stroke="#000" stroke-width="1.4" fill="#fff"/>
<ellipse cx="811.25" cy="962" rx="14" ry="2.4" stroke="#000" stroke-width="1" fill="#fff"/>
<polyline points="774.75,964.3 778.25,962.3 794.25,962.3" stroke="#000" stroke-width="1" fill="none"/>
<polyline points="774.75,964.3 778.25,966.4 794.25,966.4" stroke="#000" stroke-width="1" fill="none"/>
<polyline points="847.75,964.3 844.25,962.3 828.25,962.3" stroke="#000" stroke-width="1" fill="none"/>
<polyline points="847.75,964.3 844.25,966.4 828.25,966.4" stroke="#000" stroke-width="1" fill="none"/>
<path d="M799.55,950 L799.55,961.5 Q811.25,965.5 822.95,961.5 L822.95,950" stroke="#000" stroke-width="1.4" fill="#fff"/>
<path d="M796.85,935 Q796.85,930.2 811.25,930.2 Q825.65,930.2 825.65,935 L825.65,948.5 Q811.25,953.5 796.85,948.5 Z" stroke="#000" stroke-width="1.5" fill="#fff"/>
<path d="M797.75,935.5 Q811.25,940 824.75,935.5" stroke="#666" stroke-width="1" fill="none"/>
<path d="M1006,1081.8 L1006,1010 Q1006,997.5 1016,994.3 L1171.8,947.1 Q1177.5,945.5 1180.9,951.6 L1188.1,966.1 Q1190.5,970.3 1196,969.6 L1440.6,934.8 Q1446.4,934.2 1447,940 L1451.9,973.6 L1451.9,1088.7" stroke="#000" stroke-width="1.5" fill="none"/>
<path d="M1010.3,1092.5 L1010.3,1012 Q1010.3,1003 1017.5,1000.5 L1172.2,951.6 Q1175.5,950.8 1177.3,954 L1185,969.5 Q1188.5,975.3 1195,974.6 L1439.9,939.8 Q1442.8,939.6 1443.3,942.6 L1447,973.6 L1447,1092.2" stroke="#000" stroke-width="1.5" fill="none"/>
<path d="M1006,1081.8 Q1006.5,1087 1010.3,1088.6" stroke="#000" stroke-width="1.5" fill="none"/>
<line x1="1006" y1="1078.5" x2="1010.3" y2="1078.5" stroke="#9a9a9a" stroke-width="0.7"/>
<line x1="1006" y1="1082.2" x2="1010.3" y2="1082.2" stroke="#000" stroke-width="0.9"/>
<line x1="1010.3" y1="1092.5" x2="1447" y2="1092.5" stroke="#000" stroke-width="1.6"/>
<line x1="1010.3" y1="1087.7" x2="1447" y2="1087.7" stroke="#9a9a9a" stroke-width="0.9"/>
<line x1="1447" y1="1088.7" x2="1451.9" y2="1088.7" stroke="#000" stroke-width="1"/>
<path d="M1040.8,1092.5 L1040.8,1109.5 Q1040.8,1112.3 1043.6,1112.3 L1082.7,1112.3 Q1085.5,1112.3 1085.5,1109.5 L1085.5,1092.5" stroke="#000" stroke-width="1.4" fill="none"/>
<line x1="1042.3" y1="1110.3" x2="1084" y2="1110.3" stroke="#aaa" stroke-width="1"/>
<path d="M1376.4,1092.5 L1376.4,1109.5 Q1376.4,1112.3 1379.2,1112.3 L1418,1112.3 Q1420.8,1112.3 1420.8,1109.5 L1420.8,1092.5" stroke="#000" stroke-width="1.4" fill="none"/>
<line x1="1377.9" y1="1110.3" x2="1419.3" y2="1110.3" stroke="#aaa" stroke-width="1"/>
<path d="M1451.9,991.3 L1468.5,991.3 Q1469.5,991.3 1469.5,992.5 L1469.5,1013.5 Q1469.5,1014.6 1468.5,1014.6 L1451.9,1014.6" stroke="#000" stroke-width="1.3" fill="#fff"/>
<path d="M1452.6,1016 L1463.5,1016 Q1465.3,1016 1465.3,1018 L1465.3,1064 Q1465.3,1066.1 1463.5,1066.1 L1452.6,1066.1" stroke="#000" stroke-width="1.3" fill="#fff"/>
<line x1="1454.5" y1="1017" x2="1454.5" y2="1065" stroke="#888" stroke-width="0.8"/>
<line x1="1454" y1="1036.5" x2="1465" y2="1036.5" stroke="#888" stroke-width="0.8"/>
<line x1="1454" y1="1059.5" x2="1465" y2="1059.5" stroke="#888" stroke-width="0.8"/>
<path d="M1465.3,1027 L1467.5,1026.6 L1472.4,1030 L1472.4,1054 L1467.5,1057 L1465.3,1057 Z" stroke="#000" stroke-width="0.9" fill="#888"/>
<g transform="translate(1074.3,976.8) rotate(-16.8)">
<path d="M-23,0 L-23,-4 Q-23,-6 -21,-6 L21,-6 Q23,-6 23,-4 L23,0" stroke="#000" stroke-width="1.8" fill="#fff"/>
<line x1="-23" y1="-2.3" x2="23" y2="-2.3" stroke="#000" stroke-width="2.4"/>
<line x1="-22" y1="-0.6" x2="22" y2="-0.6" stroke="#000" stroke-width="1.6"/>
<line x1="-12" y1="-6" x2="-12" y2="0" stroke="#000" stroke-width="0.9"/>
<line x1="11" y1="-6" x2="11" y2="0" stroke="#000" stroke-width="0.9"/>
<path d="M-19,-6 L-19,-8 L19,-8 L19,-6" stroke="#000" stroke-width="1.4" fill="#fff"/>
<path d="M-16.5,-8 L-17.5,-19.5 L16,-19.5 L15.5,-8" stroke="#000" stroke-width="1.4" fill="#fff"/>
<line x1="-17.5" y1="-19.5" x2="16" y2="-19.5" stroke="#000" stroke-width="2.6"/>
<path d="M-11.5,-20.5 L-12.5,-30 L11.5,-30 L10.5,-20.5" stroke="#000" stroke-width="1.3" fill="#fff"/>
<path d="M-13.5,-29.5 L-14,-43 Q-14,-44.5 -12.5,-44.5 L12.5,-44.5 Q14,-44.5 14,-43 L13.5,-29.5 Z" stroke="#000" stroke-width="1.4" fill="#fff"/>
<line x1="-13.5" y1="-42.8" x2="13.5" y2="-42.8" stroke="#777" stroke-width="0.7"/>
</g>
<g transform="translate(1216.5,960.5) rotate(-7.1)">
<path d="M-18.75,0 L-17.75,-40.5 L17.75,-40.5 L18.75,0 Z" stroke="#000" stroke-width="1.5" fill="#fff"/>
<line x1="-17.25" y1="-39.3" x2="17.25" y2="-39.3" stroke="#888" stroke-width="0.8"/>
<rect x="-10.75" y="0" width="21.5" height="5" stroke="#000" stroke-width="0.5" fill="#000"/>
</g>
<g transform="translate(1328.9,944.5) rotate(-7.1)">
<path d="M-18.5,0 L-18.25,-40.5 L18.25,-40.5 L18.5,0 Z" stroke="#000" stroke-width="1.5" fill="#fff"/>
<line x1="-17.75" y1="-39.3" x2="17.75" y2="-39.3" stroke="#888" stroke-width="0.8"/>
<rect x="-10.5" y="0" width="21" height="5" stroke="#000" stroke-width="0.5" fill="#000"/>
</g>
<g transform="translate(1288,953.2) rotate(-7.1)">
<path d="M-12.75,0 L-12.75,-4.7 L-11.25,-6.2 L11.25,-6.2 L12.75,-4.7 L12.75,0" stroke="#000" stroke-width="1.2" fill="#fff"/>
<line x1="-12.25" y1="-5" x2="12.25" y2="-5" stroke="#000" stroke-width="1.4"/>
<line x1="-12.25" y1="-3.2" x2="12.25" y2="-3.2" stroke="#999" stroke-width="0.7"/>
<line x1="-9.75" y1="-5.2" x2="-9.75" y2="0" stroke="#999" stroke-width="0.6"/>
<line x1="9.75" y1="-5.2" x2="9.75" y2="0" stroke="#999" stroke-width="0.6"/>
</g>
<g transform="translate(1335,947) rotate(-7.1)">
<path d="M-12.75,0 L-12.75,-4.7 L-11.25,-6.2 L11.25,-6.2 L12.75,-4.7 L12.75,0" stroke="#000" stroke-width="1.2" fill="#fff"/>
<line x1="-12.25" y1="-5" x2="12.25" y2="-5" stroke="#000" stroke-width="1.4"/>
<line x1="-12.25" y1="-3.2" x2="12.25" y2="-3.2" stroke="#999" stroke-width="0.7"/>
<line x1="-9.75" y1="-5.2" x2="-9.75" y2="0" stroke="#999" stroke-width="0.6"/>
<line x1="9.75" y1="-5.2" x2="9.75" y2="0" stroke="#999" stroke-width="0.6"/>
</g>
<g transform="translate(1382,940.6) rotate(-7.1)">
<path d="M-12.75,0 L-12.75,-4.7 L-11.25,-6.2 L11.25,-6.2 L12.75,-4.7 L12.75,0" stroke="#000" stroke-width="1.2" fill="#fff"/>
<line x1="-12.25" y1="-5" x2="12.25" y2="-5" stroke="#000" stroke-width="1.4"/>
<line x1="-12.25" y1="-3.2" x2="12.25" y2="-3.2" stroke="#999" stroke-width="0.7"/>
<line x1="-9.75" y1="-5.2" x2="-9.75" y2="0" stroke="#999" stroke-width="0.6"/>
<line x1="9.75" y1="-5.2" x2="9.75" y2="0" stroke="#999" stroke-width="0.6"/>
</g>
<line x1="1265" y1="955" x2="1270" y2="954.3" stroke="#000" stroke-width="1.8"/>
<line x1="1113" y1="962.5" x2="1120" y2="960.5" stroke="#000" stroke-width="1.5"/>
<path d="M1637.7,935.5 Q1651.7,926 1665.7,935.5" stroke="#000" stroke-width="1.1" fill="none"/>
<line x1="1640.7" y1="933.5" x2="1662.7" y2="933.5" stroke="#999" stroke-width="0.6"/>
<path d="M1832.2,935.5 Q1846.05,926 1859.9,935.5" stroke="#000" stroke-width="1.1" fill="none"/>
<line x1="1835.2" y1="933.5" x2="1856.9" y2="933.5" stroke="#999" stroke-width="0.6"/>
<path d="M1716.2,935.5 L1717.7,934 L1745.5,934 L1747,935.5" stroke="#000" stroke-width="1.2" fill="none"/>
<path d="M1786.5,935.5 L1788,934 L1815.5,934 L1817,935.5" stroke="#000" stroke-width="1.2" fill="none"/>
<path d="M1748.6,935.5 L1748.6,918.7 Q1748.6,916.2 1766.75,916.2 Q1784.9,916.2 1784.9,918.7 L1784.9,935.5" stroke="#000" stroke-width="1.3" fill="#fff"/>
<path d="M1863.7,935.5 L1863.7,918.7 Q1863.7,916.2 1882.15,916.2 Q1900.6,916.2 1900.6,918.7 L1900.6,935.5" stroke="#000" stroke-width="1.3" fill="#fff"/>
<path d="M1943.1,935.5 L1943.1,918.7 Q1943.1,916.2 1961.4,916.2 Q1979.7,916.2 1979.7,918.7 L1979.7,935.5" stroke="#000" stroke-width="1.3" fill="#fff"/>
<path d="M2022.5,935.5 L2022.5,918.7 Q2022.5,916.2 2040.8,916.2 Q2059.1,916.2 2059.1,918.7 L2059.1,935.5" stroke="#000" stroke-width="1.3" fill="#fff"/>
<path d="M2101.7,935.5 L2101.7,918.7 Q2101.7,916.2 2120.1,916.2 Q2138.5,916.2 2138.5,918.7 L2138.5,935.5" stroke="#000" stroke-width="1.3" fill="#fff"/>
<path d="M2198.4,935.5 L2198.4,905.1 Q2198.4,902.6 2216.55,902.6 Q2234.7,902.6 2234.7,905.1 L2234.7,935.5" stroke="#000" stroke-width="1.3" fill="#fff"/>
<path d="M2234.7,935.5 Q2242,929.5 2247.6,935.5" stroke="#000" stroke-width="1.1" fill="none"/>
<line x1="1589.5" y1="935.6" x2="2296" y2="935.6" stroke="#000" stroke-width="1.4"/>
<line x1="1589.5" y1="940.6" x2="2296" y2="940.6" stroke="#9a9a9a" stroke-width="0.9"/>
<line x1="1589.5" y1="973.7" x2="2296" y2="973.7" stroke="#333" stroke-width="1"/>
<path d="M1589.5,935.6 L1589.5,1083 Q1589.5,1088.6 1595.5,1090 L1599.5,1092.5 L2286,1092.5 L2290,1090 Q2296,1088.6 2296,1083 L2296,935.6" stroke="#000" stroke-width="1.4" fill="none"/>
<line x1="1595.5" y1="1088.6" x2="2290" y2="1088.6" stroke="#000" stroke-width="1.4"/>
<line x1="1599.5" y1="1088.6" x2="1599.5" y2="1092.5" stroke="#9a9a9a" stroke-width="0.6"/>
<line x1="1601.5" y1="1088.6" x2="1601.5" y2="1092.5" stroke="#9a9a9a" stroke-width="0.6"/>
<line x1="2286" y1="1088.6" x2="2286" y2="1092.5" stroke="#9a9a9a" stroke-width="0.6"/>
<line x1="2284" y1="1088.6" x2="2284" y2="1092.5" stroke="#9a9a9a" stroke-width="0.6"/>
<path d="M1629.6,1092.5 L1629.6,1110 Q1629.6,1112.5 1632.1,1112.5 L1671.6,1112.5 Q1674.1,1112.5 1674.1,1110 L1674.1,1092.5" stroke="#000" stroke-width="1.3" fill="none"/>
<line x1="1631.1" y1="1110.6" x2="1672.6" y2="1110.6" stroke="#aaa" stroke-width="1"/>
<path d="M2211.7,1092.5 L2211.7,1110 Q2211.7,1112.5 2214.2,1112.5 L2254.1,1112.5 Q2256.6,1112.5 2256.6,1110 L2256.6,1092.5" stroke="#000" stroke-width="1.3" fill="none"/>
<line x1="2213.2" y1="1110.6" x2="2255.1" y2="1110.6" stroke="#aaa" stroke-width="1"/>
<circle cx="1640.85" cy="1042.1" r="24.6" stroke="#000" stroke-width="1.5" fill="#fff"/>
<polygon points="1634.12,1018.65 1617.17,1036.2 1623.9,1059.65 1647.58,1065.55 1664.53,1048 1657.8,1024.55" stroke="#000" stroke-width="1.3" fill="none"/>
<polygon points="1634.57,1020.18 1618.73,1036.58 1625.01,1058.5 1647.13,1064.02 1662.97,1047.62 1656.69,1025.7" stroke="#777" stroke-width="0.8" fill="none"/>
<circle cx="1640.85" cy="1042.1" r="16.3" stroke="#000" stroke-width="1.6" fill="none"/>
<circle cx="1640.85" cy="1042.1" r="14.6" stroke="#777" stroke-width="0.8" fill="none"/>
<circle cx="1640.85" cy="1042.1" r="11.6" stroke="#808080" stroke-width="3.6" fill="none"/>
<circle cx="1640.85" cy="1042.1" r="8.7" stroke="#000" stroke-width="1.6" fill="none"/>
<path d="M1633.35,1038.6 L1644.85,1036.1" stroke="#000" stroke-width="1.2" fill="none"/>
<rect x="1635.85" y="1047.1" width="2" height="2" stroke="#000" stroke-width="0.5" fill="#000"/>
<rect x="1643.85" y="1047.1" width="2" height="2" stroke="#000" stroke-width="0.5" fill="#000"/>
<line x1="1640.85" y1="1051.1" x2="1640.85" y2="1057.1" stroke="#777" stroke-width="0.8"/>
<circle cx="1693.8" cy="1042.1" r="24.6" stroke="#000" stroke-width="1.5" fill="#fff"/>
<polygon points="1687.07,1018.65 1670.12,1036.2 1676.85,1059.65 1700.53,1065.55 1717.48,1048 1710.75,1024.55" stroke="#000" stroke-width="1.3" fill="none"/>
<polygon points="1687.52,1020.18 1671.68,1036.58 1677.96,1058.5 1700.08,1064.02 1715.92,1047.62 1709.64,1025.7" stroke="#777" stroke-width="0.8" fill="none"/>
<circle cx="1693.8" cy="1042.1" r="16.3" stroke="#000" stroke-width="1.6" fill="none"/>
<circle cx="1693.8" cy="1042.1" r="14.6" stroke="#777" stroke-width="0.8" fill="none"/>
<circle cx="1693.8" cy="1042.1" r="11.6" stroke="#808080" stroke-width="3.6" fill="none"/>
<circle cx="1693.8" cy="1042.1" r="8.7" stroke="#000" stroke-width="1.6" fill="none"/>
<path d="M1686.3,1038.6 L1697.8,1036.1" stroke="#000" stroke-width="1.2" fill="none"/>
<rect x="1688.8" y="1047.1" width="2" height="2" stroke="#000" stroke-width="0.5" fill="#000"/>
<rect x="1696.8" y="1047.1" width="2" height="2" stroke="#000" stroke-width="0.5" fill="#000"/>
<line x1="1693.8" y1="1051.1" x2="1693.8" y2="1057.1" stroke="#777" stroke-width="0.8"/>
<circle cx="1746.6" cy="1042.1" r="24.6" stroke="#000" stroke-width="1.5" fill="#fff"/>
<polygon points="1739.87,1018.65 1722.92,1036.2 1729.65,1059.65 1753.33,1065.55 1770.28,1048 1763.55,1024.55" stroke="#000" stroke-width="1.3" fill="none"/>
<polygon points="1740.32,1020.18 1724.48,1036.58 1730.76,1058.5 1752.88,1064.02 1768.72,1047.62 1762.44,1025.7" stroke="#777" stroke-width="0.8" fill="none"/>
<circle cx="1746.6" cy="1042.1" r="16.3" stroke="#000" stroke-width="1.6" fill="none"/>
<circle cx="1746.6" cy="1042.1" r="14.6" stroke="#777" stroke-width="0.8" fill="none"/>
<circle cx="1746.6" cy="1042.1" r="11.6" stroke="#808080" stroke-width="3.6" fill="none"/>
<circle cx="1746.6" cy="1042.1" r="8.7" stroke="#000" stroke-width="1.6" fill="none"/>
<path d="M1739.1,1038.6 L1750.6,1036.1" stroke="#000" stroke-width="1.2" fill="none"/>
<rect x="1741.6" y="1047.1" width="2" height="2" stroke="#000" stroke-width="0.5" fill="#000"/>
<rect x="1749.6" y="1047.1" width="2" height="2" stroke="#000" stroke-width="0.5" fill="#000"/>
<line x1="1746.6" y1="1051.1" x2="1746.6" y2="1057.1" stroke="#777" stroke-width="0.8"/>
<circle cx="1799.5" cy="1042.1" r="24.6" stroke="#000" stroke-width="1.5" fill="#fff"/>
<polygon points="1792.77,1018.65 1775.82,1036.2 1782.55,1059.65 1806.23,1065.55 1823.18,1048 1816.45,1024.55" stroke="#000" stroke-width="1.3" fill="none"/>
<polygon points="1793.22,1020.18 1777.38,1036.58 1783.66,1058.5 1805.78,1064.02 1821.62,1047.62 1815.34,1025.7" stroke="#777" stroke-width="0.8" fill="none"/>
<circle cx="1799.5" cy="1042.1" r="16.3" stroke="#000" stroke-width="1.6" fill="none"/>
<circle cx="1799.5" cy="1042.1" r="14.6" stroke="#777" stroke-width="0.8" fill="none"/>
<circle cx="1799.5" cy="1042.1" r="11.6" stroke="#808080" stroke-width="3.6" fill="none"/>
<circle cx="1799.5" cy="1042.1" r="8.7" stroke="#000" stroke-width="1.6" fill="none"/>
<path d="M1792,1038.6 L1803.5,1036.1" stroke="#000" stroke-width="1.2" fill="none"/>
<rect x="1794.5" y="1047.1" width="2" height="2" stroke="#000" stroke-width="0.5" fill="#000"/>
<rect x="1802.5" y="1047.1" width="2" height="2" stroke="#000" stroke-width="0.5" fill="#000"/>
<line x1="1799.5" y1="1051.1" x2="1799.5" y2="1057.1" stroke="#777" stroke-width="0.8"/>
<circle cx="1852.4" cy="1042.1" r="24.6" stroke="#000" stroke-width="1.5" fill="#fff"/>
<polygon points="1845.67,1018.65 1828.72,1036.2 1835.45,1059.65 1859.13,1065.55 1876.08,1048 1869.35,1024.55" stroke="#000" stroke-width="1.3" fill="none"/>
<polygon points="1846.12,1020.18 1830.28,1036.58 1836.56,1058.5 1858.68,1064.02 1874.52,1047.62 1868.24,1025.7" stroke="#777" stroke-width="0.8" fill="none"/>
<circle cx="1852.4" cy="1042.1" r="16.3" stroke="#000" stroke-width="1.6" fill="none"/>
<circle cx="1852.4" cy="1042.1" r="14.6" stroke="#777" stroke-width="0.8" fill="none"/>
<circle cx="1852.4" cy="1042.1" r="11.6" stroke="#808080" stroke-width="3.6" fill="none"/>
<circle cx="1852.4" cy="1042.1" r="8.7" stroke="#000" stroke-width="1.6" fill="none"/>
<path d="M1844.9,1038.6 L1856.4,1036.1" stroke="#000" stroke-width="1.2" fill="none"/>
<rect x="1847.4" y="1047.1" width="2" height="2" stroke="#000" stroke-width="0.5" fill="#000"/>
<rect x="1855.4" y="1047.1" width="2" height="2" stroke="#000" stroke-width="0.5" fill="#000"/>
<line x1="1852.4" y1="1051.1" x2="1852.4" y2="1057.1" stroke="#777" stroke-width="0.8"/>
<circle cx="1958.4" cy="1042.1" r="24.6" stroke="#000" stroke-width="1.5" fill="#fff"/>
<polygon points="1951.67,1018.65 1934.72,1036.2 1941.45,1059.65 1965.13,1065.55 1982.08,1048 1975.35,1024.55" stroke="#000" stroke-width="1.3" fill="none"/>
<polygon points="1952.12,1020.18 1936.28,1036.58 1942.56,1058.5 1964.68,1064.02 1980.52,1047.62 1974.24,1025.7" stroke="#777" stroke-width="0.8" fill="none"/>
<circle cx="1958.4" cy="1042.1" r="16.3" stroke="#000" stroke-width="1.6" fill="none"/>
<circle cx="1958.4" cy="1042.1" r="14.6" stroke="#777" stroke-width="0.8" fill="none"/>
<circle cx="1958.4" cy="1042.1" r="11.6" stroke="#808080" stroke-width="3.6" fill="none"/>
<circle cx="1958.4" cy="1042.1" r="8.7" stroke="#000" stroke-width="1.6" fill="none"/>
<path d="M1950.9,1038.6 L1962.4,1036.1" stroke="#000" stroke-width="1.2" fill="none"/>
<rect x="1953.4" y="1047.1" width="2" height="2" stroke="#000" stroke-width="0.5" fill="#000"/>
<rect x="1961.4" y="1047.1" width="2" height="2" stroke="#000" stroke-width="0.5" fill="#000"/>
<line x1="1958.4" y1="1051.1" x2="1958.4" y2="1057.1" stroke="#777" stroke-width="0.8"/>
<circle cx="2028.8" cy="1042.1" r="24.6" stroke="#000" stroke-width="1.5" fill="#fff"/>
<polygon points="2022.07,1018.65 2005.12,1036.2 2011.85,1059.65 2035.53,1065.55 2052.48,1048 2045.75,1024.55" stroke="#000" stroke-width="1.3" fill="none"/>
<polygon points="2022.52,1020.18 2006.68,1036.58 2012.96,1058.5 2035.08,1064.02 2050.92,1047.62 2044.64,1025.7" stroke="#777" stroke-width="0.8" fill="none"/>
<circle cx="2028.8" cy="1042.1" r="16.3" stroke="#000" stroke-width="1.6" fill="none"/>
<circle cx="2028.8" cy="1042.1" r="14.6" stroke="#777" stroke-width="0.8" fill="none"/>
<circle cx="2028.8" cy="1042.1" r="11.6" stroke="#808080" stroke-width="3.6" fill="none"/>
<circle cx="2028.8" cy="1042.1" r="8.7" stroke="#000" stroke-width="1.6" fill="none"/>
<path d="M2021.3,1038.6 L2032.8,1036.1" stroke="#000" stroke-width="1.2" fill="none"/>
<rect x="2023.8" y="1047.1" width="2" height="2" stroke="#000" stroke-width="0.5" fill="#000"/>
<rect x="2031.8" y="1047.1" width="2" height="2" stroke="#000" stroke-width="0.5" fill="#000"/>
<line x1="2028.8" y1="1051.1" x2="2028.8" y2="1057.1" stroke="#777" stroke-width="0.8"/>
<circle cx="1896.4" cy="1053.1" r="8.4" stroke="#000" stroke-width="2.6" fill="none"/>
<circle cx="1896.4" cy="1053.1" r="5.4" stroke="#000" stroke-width="1.3" fill="none"/>
<path d="M1893.5,1056.5 L1895,1054.5" stroke="#000" stroke-width="0.8" fill="none"/>
<circle cx="2082" cy="1003.1" r="15.3" stroke="#000" stroke-width="1.8" fill="#fff"/>
<circle cx="2082" cy="1003.1" r="13.3" stroke="#777" stroke-width="0.8" fill="none"/>
<circle cx="2082" cy="1003.1" r="11.3" stroke="#777" stroke-width="0.8" fill="none"/>
<circle cx="2082" cy="1003.1" r="9.5" stroke="#777" stroke-width="0.8" fill="none"/>
<circle cx="2082" cy="1003.1" r="7" stroke="#000" stroke-width="1.6" fill="none"/>
<circle cx="2082" cy="1003.1" r="4.6" stroke="#000" stroke-width="1.8" fill="none"/>
<circle cx="2082" cy="1042.2" r="15.3" stroke="#000" stroke-width="1.8" fill="#fff"/>
<circle cx="2082" cy="1042.2" r="13.3" stroke="#777" stroke-width="0.8" fill="none"/>
<circle cx="2082" cy="1042.2" r="11.3" stroke="#777" stroke-width="0.8" fill="none"/>
<circle cx="2082" cy="1042.2" r="9.5" stroke="#777" stroke-width="0.8" fill="none"/>
<circle cx="2082" cy="1042.2" r="7" stroke="#000" stroke-width="1.6" fill="none"/>
<circle cx="2082" cy="1042.2" r="4.6" stroke="#000" stroke-width="1.8" fill="none"/>
<circle cx="2101.3" cy="1022.5" r="8.2" stroke="#555" stroke-width="0.9" fill="#fff"/>
<path d="M2099.3,1016.8 L2103.3,1016.8 L2103.3,1020.5 L2107,1020.5 L2107,1024.5 L2103.3,1024.5 L2103.3,1028.2 L2099.3,1028.2 L2099.3,1024.5 L2095.6,1024.5 L2095.6,1020.5 L2099.3,1020.5 Z" stroke="#000" stroke-width="0.5" fill="#000"/>
<circle cx="2101.3" cy="1022.5" r="1" stroke="#fff" stroke-width="0.4" fill="#fff"/>
<rect x="2111.3" y="1049.3" width="29.4" height="11.9" rx="5.9" stroke="#000" stroke-width="2.4" fill="#fff"/>
<rect x="2115.5" y="1052.5" width="21" height="5.5" rx="2.7" stroke="#000" stroke-width="1" fill="#000"/>
<line x1="2117" y1="1053.4" x2="2135" y2="1053.4" stroke="#bbb" stroke-width="0.6"/>
<line x1="2117" y1="1057" x2="2135" y2="1057" stroke="#bbb" stroke-width="0.6"/>
<circle cx="2161" cy="1053.1" r="7.8" stroke="#000" stroke-width="2.3" fill="none"/>
<circle cx="2161" cy="1053.1" r="5.8" stroke="#777" stroke-width="0.8" fill="none"/>
<circle cx="2194.4" cy="1053.1" r="8" stroke="#000" stroke-width="2.3" fill="none"/>
<circle cx="2194.4" cy="1053.1" r="6" stroke="#777" stroke-width="0.8" fill="none"/>
<line x1="2187" y1="1053.1" x2="2201.8" y2="1053.1" stroke="#000" stroke-width="1.4"/>
<line x1="2194.4" y1="1047.5" x2="2194.4" y2="1053" stroke="#555" stroke-width="0.8"/>
<line x1="2196.5" y1="1047.5" x2="2196.5" y2="1053" stroke="#555" stroke-width="0.8"/>
<rect x="2217.7" y="1032.1" width="23.7" height="29.1" stroke="#000" stroke-width="2" fill="none"/>
<line x1="2220.5" y1="1034" x2="2220.5" y2="1059.5" stroke="#777" stroke-width="0.7"/>
<line x1="2238.6" y1="1034" x2="2238.6" y2="1059.5" stroke="#777" stroke-width="0.7"/>
<line x1="2220.5" y1="1052" x2="2238.6" y2="1052" stroke="#777" stroke-width="0.7"/>
<circle cx="2229.4" cy="1043.5" r="7.8" stroke="#000" stroke-width="1.6" fill="#fff"/>
<circle cx="2229.4" cy="1043.5" r="5" stroke="#000" stroke-width="0.5" fill="#111"/>
<circle cx="2229.4" cy="1043.5" r="1.6" stroke="#fff" stroke-width="0.4" fill="#ddd"/>
<line x1="2224.4" y1="1043.5" x2="2234.4" y2="1043.5" stroke="#888" stroke-width="0.6"/>
<circle cx="2262.6" cy="1044.9" r="11.9" stroke="#000" stroke-width="2" fill="none"/>
<circle cx="2262.6" cy="1044.9" r="10.6" stroke="#999" stroke-width="1" fill="none"/>
<circle cx="1625.4" cy="1076.4" r="10.1" stroke="#000" stroke-width="2" fill="#fff"/>
<polygon points="1631.6,1074.14 1626.5,1074.04 1623.14,1070.2 1623.04,1075.3 1619.2,1078.66 1624.3,1078.76 1627.66,1082.6 1627.76,1077.5" stroke="#000" stroke-width="2.3" fill="#fff"/>
<circle cx="1942.6" cy="1076.4" r="10.1" stroke="#000" stroke-width="2" fill="#fff"/>
<polygon points="1948.8,1074.14 1943.7,1074.04 1940.34,1070.2 1940.24,1075.3 1936.4,1078.66 1941.5,1078.76 1944.86,1082.6 1944.96,1077.5" stroke="#000" stroke-width="2.3" fill="#fff"/>
<circle cx="2260.4" cy="1076.4" r="10.1" stroke="#000" stroke-width="2" fill="#fff"/>
<polygon points="2266.6,1074.14 2261.5,1074.04 2258.14,1070.2 2258.04,1075.3 2254.2,1078.66 2259.3,1078.76 2262.66,1082.6 2262.76,1077.5" stroke="#000" stroke-width="2.3" fill="#fff"/>
<polygon points="2079.59,331.26 1746.19,140.14 1746.48,96.5 2079.88,287.61" stroke="none" stroke-width="0" fill="#fff"/>
<polygon points="2079.88,287.61 1746.48,96.5 1741.83,90.58 2075.23,281.7" stroke="none" stroke-width="0" fill="#fff"/>
<polygon points="2075.23,281.7 1741.83,90.58 1668.63,107.56 2002.02,298.67" stroke="none" stroke-width="0" fill="#fff"/>
<polygon points="2002.02,298.67 1668.63,107.56 1664.33,112.41 1997.72,303.53" stroke="none" stroke-width="0" fill="#fff"/>
<polygon points="1997.72,303.53 1664.33,112.41 1660.89,122.07 1994.28,313.19" stroke="none" stroke-width="0" fill="#fff"/>
<polygon points="1994.28,313.19 1660.89,122.07 1657.15,126.07 1990.55,317.19" stroke="none" stroke-width="0" fill="#fff"/>
<polygon points="1990.55,317.19 1657.15,126.07 1542.09,173.64 1875.49,364.76" stroke="none" stroke-width="0" fill="#fff"/>
<polygon points="1875.49,364.76 1542.09,173.64 1539.06,178.14 1872.46,369.25" stroke="none" stroke-width="0" fill="#fff"/>
<polygon points="1872.46,369.25 1539.06,178.14 1536.64,197.34 1870.03,388.46" stroke="none" stroke-width="0" fill="#fff"/>
<polygon points="1870.03,388.46 1536.64,197.34 1536.22,260.62 1869.62,451.74" stroke="none" stroke-width="0" fill="#fff"/>
<polyline points="1741.83,90.58 1668.63,107.56 1664.33,112.41 1660.89,122.07 1657.15,126.07 1542.09,173.64 1539.06,178.14 1536.64,197.34 1536.22,260.62" stroke="#000" stroke-width="1.3" fill="none"/>
<line x1="2075.23" y1="281.7" x2="1741.83" y2="90.58" stroke="#000" stroke-width="1.3"/>
<line x1="2002.02" y1="298.67" x2="1668.63" y2="107.56" stroke="#777" stroke-width="0.8"/>
<line x1="1997.72" y1="303.53" x2="1664.33" y2="112.41" stroke="#777" stroke-width="0.8"/>
<line x1="1994.28" y1="313.19" x2="1660.89" y2="122.07" stroke="#777" stroke-width="0.8"/>
<line x1="1990.55" y1="317.19" x2="1657.15" y2="126.07" stroke="#777" stroke-width="0.8"/>
<line x1="1875.49" y1="364.76" x2="1542.09" y2="173.64" stroke="#777" stroke-width="0.8"/>
<line x1="1872.46" y1="369.25" x2="1539.06" y2="178.14" stroke="#9a9a9a" stroke-width="0.8"/>
<line x1="1870.03" y1="388.46" x2="1536.64" y2="197.34" stroke="#777" stroke-width="0.8"/>
<line x1="1869.62" y1="451.74" x2="1536.22" y2="260.62" stroke="#000" stroke-width="1.6"/>
<polygon points="2079.59,331.26 2079.88,287.61 2075.23,281.7 2002.02,298.67 1997.72,303.53 1994.28,313.19 1990.55,317.19 1875.49,364.76 1872.46,369.25 1870.03,388.46 1869.62,451.74" stroke="#000" stroke-width="1.3" fill="#fff"/>
<polyline points="2077.57,332.26 2077.85,289.57 2074.5,285.4 2001.82,301.18 1999.41,303.83 1995.73,314.16 1991,319.58 1875.8,367.23 1874.19,369.64 1872.34,387.13 1871.93,450.25" stroke="#222" stroke-width="0.9" fill="none"/>
<polyline points="1754.67,111.18 1756.28,112.21 1757.58,113.27 1758.56,114.34 1759.18,115.39 1759.42,116.4 1759.29,117.34 1758.79,118.19 1757.93,118.93 1756.72,119.53 1755.2,120 1753.41,120.3 1751.4,120.44 1749.2,120.41 1746.87,120.22 1744.48,119.86 1742.08,119.35 1739.73,118.7 1737.48,117.93 1735.4,117.05 1733.54,116.08 1731.93,115.06 1730.62,114 1729.65,112.93 1729.03,111.87 1728.78,110.86 1728.91,109.92 1729.41,109.07 1730.28,108.34 1731.48,107.73 1733,107.27 1734.79,106.96 1736.81,106.82 1739.01,106.85 1741.33,107.04 1743.72,107.4 1746.13,107.91 1748.48,108.56 1750.72,109.34 1752.8,110.22" stroke="#000" stroke-width="2" fill="#fff"/>
<polygon points="1729.11,110.92 1729.23,110 1729.56,108.65 1730.05,107.82 1730.89,107.1 1732.08,106.5 1733.56,106.05 1735.31,105.75 1737.29,105.62 1739.44,105.64 1741.71,105.83 1744.05,106.18 1746.4,106.68 1748.71,107.32 1750.9,108.08 1752.94,108.94 1754.77,109.88 1756.34,110.89 1757.62,111.92 1758.57,112.97 1759.18,114 1759.42,114.99 1759.29,115.91 1758.97,117.26 1758.48,118.09 1757.63,118.81 1756.45,119.41 1754.97,119.86 1753.22,120.16 1751.24,120.3 1749.09,120.27 1746.81,120.08 1744.47,119.73 1742.12,119.23 1739.82,118.6 1737.62,117.84 1735.59,116.97 1733.76,116.03 1732.19,115.03 1730.91,113.99 1729.95,112.94 1729.35,111.91" stroke="#000" stroke-width="1.8" fill="#fff"/>
<polygon points="1754.77,109.88 1756.34,110.89 1757.62,111.92 1758.57,112.97 1759.18,114 1759.42,114.99 1759.29,115.91 1758.8,116.74 1757.95,117.46 1756.77,118.06 1755.29,118.51 1753.54,118.81 1751.56,118.94 1749.41,118.92 1747.14,118.73 1744.79,118.38 1742.44,117.88 1740.14,117.24 1737.95,116.49 1735.91,115.62 1734.08,114.68 1732.51,113.67 1731.23,112.64 1730.28,111.59 1729.67,110.56 1729.43,109.57 1729.56,108.65 1730.05,107.82 1730.89,107.1 1732.07,106.5 1733.56,106.05 1735.31,105.75 1737.29,105.62 1739.44,105.64 1741.71,105.83 1744.05,106.18 1746.4,106.68 1748.71,107.32 1750.9,108.08 1752.94,108.94" stroke="#000" stroke-width="1.8" fill="#fff"/>
<polyline points="1731.11,108.45 1731.67,106.1 1741.11,103.91 1754.43,107.74 1758.3,113.76 1757.74,116.11 1748.29,118.3 1734.98,114.47" stroke="#000" stroke-width="1.6" fill="#fff"/>
<polyline points="1754.43,107.74 1758.3,113.76 1748.85,115.95 1735.54,112.12 1731.67,106.1 1741.11,103.91" stroke="#000" stroke-width="1.2" fill="#fff"/>
<polygon points="1732.92,107.75 1733.02,107.01 1733.26,106.01 1733.66,105.34 1734.34,104.76 1735.29,104.28 1736.48,103.92 1737.89,103.68 1739.48,103.57 1741.21,103.59 1743.04,103.74 1744.92,104.02 1746.82,104.42 1748.67,104.94 1750.43,105.55 1752.07,106.24 1753.54,107 1754.81,107.81 1755.83,108.64 1756.6,109.49 1757.09,110.31 1757.28,111.11 1757.18,111.85 1756.94,112.85 1756.55,113.52 1755.87,114.1 1754.92,114.58 1753.72,114.94 1752.31,115.18 1750.72,115.29 1748.99,115.27 1747.16,115.12 1745.28,114.84 1743.39,114.43 1741.54,113.92 1739.77,113.31 1738.13,112.62 1736.66,111.86 1735.4,111.05 1734.37,110.22 1733.6,109.37 1733.12,108.55" stroke="#000" stroke-width="1.4" fill="#fff"/>
<polygon points="1753.54,107 1754.8,107.81 1755.83,108.64 1756.6,109.49 1757.09,110.31 1757.28,111.11 1757.18,111.85 1756.79,112.52 1756.1,113.1 1755.15,113.58 1753.96,113.94 1752.55,114.18 1750.96,114.29 1749.23,114.27 1747.4,114.12 1745.52,113.84 1743.63,113.44 1741.78,112.92 1740.01,112.31 1738.37,111.62 1736.9,110.86 1735.64,110.05 1734.61,109.22 1733.84,108.37 1733.35,107.55 1733.16,106.75 1733.26,106.01 1733.66,105.34 1734.34,104.76 1735.29,104.28 1736.48,103.92 1737.89,103.68 1739.48,103.57 1741.21,103.59 1743.04,103.74 1744.92,104.02 1746.81,104.43 1748.67,104.94 1750.43,105.55 1752.07,106.24" stroke="#000" stroke-width="1.4" fill="#fff"/>
<polygon points="1734.46,106.99 1734.56,106.33 1736.16,99.57 1736.52,98.97 1737.12,98.45 1737.97,98.03 1739.04,97.7 1740.29,97.49 1741.71,97.39 1743.25,97.41 1744.89,97.55 1746.57,97.8 1748.25,98.15 1749.9,98.61 1751.48,99.16 1752.94,99.77 1754.25,100.45 1755.38,101.17 1756.3,101.92 1756.98,102.67 1757.41,103.41 1757.59,104.11 1757.5,104.78 1755.89,111.53 1755.54,112.13 1754.93,112.65 1754.08,113.08 1753.02,113.4 1751.76,113.61 1750.34,113.71 1748.8,113.69 1747.17,113.56 1745.49,113.31 1743.8,112.95 1742.15,112.49 1740.57,111.95 1739.11,111.33 1737.8,110.65 1736.67,109.93 1735.76,109.19 1735.07,108.43 1734.64,107.7" stroke="#000" stroke-width="1.6" fill="#fff"/>
<polygon points="1754.25,100.45 1755.38,101.17 1756.3,101.92 1756.98,102.67 1757.41,103.41 1757.59,104.12 1757.5,104.78 1757.14,105.37 1756.54,105.89 1755.69,106.32 1754.63,106.64 1753.37,106.85 1751.95,106.95 1750.41,106.93 1748.78,106.8 1747.1,106.55 1745.41,106.19 1743.76,105.73 1742.18,105.19 1740.72,104.57 1739.41,103.89 1738.28,103.17 1737.37,102.43 1736.68,101.68 1736.25,100.94 1736.07,100.23 1736.16,99.57 1736.52,98.97 1737.12,98.45 1737.97,98.03 1739.04,97.7 1740.29,97.49 1741.71,97.39 1743.25,97.41 1744.89,97.55 1746.57,97.8 1748.25,98.15 1749.9,98.61 1751.48,99.16 1752.94,99.77" stroke="#000" stroke-width="1.6" fill="#fff"/>
<polyline points="1753.35,100.66 1754.34,101.29 1755.15,101.95 1755.75,102.61 1756.13,103.26 1756.28,103.88 1756.2,104.46 1755.89,104.98 1755.36,105.44 1754.62,105.81 1753.68,106.1 1752.58,106.29 1751.33,106.37 1749.97,106.36 1748.54,106.24 1747.06,106.02 1745.58,105.7 1744.13,105.3 1742.75,104.82 1741.46,104.28 1740.31,103.68 1739.32,103.05 1738.51,102.4 1737.91,101.74 1737.53,101.09 1737.38,100.46 1737.46,99.88 1737.77,99.36 1738.3,98.9 1739.05,98.53 1739.98,98.25 1741.09,98.06 1742.33,97.97 1743.69,97.99 1745.12,98.11 1746.6,98.33 1748.08,98.64 1749.53,99.04 1750.91,99.52 1752.2,100.06" stroke="#000" stroke-width="1" fill="none"/>
<polygon points="1739.01,100.76 1739.07,100.28 1740.54,94.11 1740.8,93.67 1741.24,93.3 1741.86,92.99 1742.63,92.75 1743.55,92.6 1744.58,92.52 1745.7,92.54 1746.88,92.64 1748.11,92.82 1749.33,93.08 1750.53,93.41 1751.68,93.81 1752.74,94.26 1753.7,94.75 1754.52,95.27 1755.18,95.82 1755.68,96.36 1756,96.9 1756.12,97.42 1756.06,97.89 1754.59,104.07 1754.33,104.5 1753.89,104.88 1753.27,105.19 1752.5,105.42 1751.59,105.58 1750.56,105.65 1749.43,105.64 1748.24,105.54 1747.02,105.35 1745.8,105.09 1744.6,104.76 1743.45,104.37 1742.39,103.92 1741.43,103.42 1740.62,102.9 1739.95,102.36 1739.45,101.81 1739.13,101.27" stroke="#000" stroke-width="1.3" fill="#fff"/>
<polygon points="1753.7,94.75 1754.52,95.27 1755.18,95.82 1755.68,96.36 1756,96.9 1756.12,97.41 1756.06,97.89 1755.8,98.33 1755.36,98.71 1754.74,99.02 1753.97,99.25 1753.05,99.41 1752.02,99.48 1750.9,99.46 1749.71,99.37 1748.49,99.18 1747.27,98.92 1746.07,98.59 1744.92,98.2 1743.86,97.75 1742.9,97.25 1742.08,96.73 1741.42,96.19 1740.92,95.64 1740.6,95.1 1740.48,94.59 1740.54,94.11 1740.8,93.67 1741.24,93.3 1741.86,92.99 1742.63,92.75 1743.54,92.6 1744.58,92.52 1745.7,92.54 1746.89,92.64 1748.11,92.82 1749.33,93.08 1750.53,93.41 1751.68,93.81 1752.74,94.26" stroke="#000" stroke-width="1.3" fill="#fff"/>
<polygon points="1739.17,94.35 1739.25,93.79 1741.28,85.27 1741.58,84.76 1742.09,84.33 1742.81,83.96 1743.71,83.69 1744.78,83.51 1745.98,83.42 1747.29,83.44 1748.68,83.56 1750.1,83.77 1751.53,84.07 1752.93,84.46 1754.27,84.92 1755.51,85.44 1756.62,86.02 1757.58,86.63 1758.36,87.26 1758.94,87.9 1759.31,88.53 1759.46,89.13 1759.38,89.69 1757.35,98.21 1757.05,98.72 1756.54,99.16 1755.82,99.52 1754.91,99.79 1753.85,99.97 1752.64,100.06 1751.34,100.04 1749.95,99.93 1748.53,99.71 1747.09,99.41 1745.69,99.02 1744.36,98.56 1743.12,98.04 1742.01,97.46 1741.05,96.85 1740.27,96.22 1739.69,95.58 1739.32,94.95" stroke="#000" stroke-width="1.3" fill="#fff"/>
<polygon points="1756.62,86.02 1757.58,86.63 1758.36,87.26 1758.94,87.9 1759.31,88.53 1759.46,89.13 1759.38,89.69 1759.08,90.2 1758.56,90.63 1757.85,91 1756.94,91.27 1755.88,91.45 1754.67,91.54 1753.36,91.52 1751.98,91.4 1750.55,91.19 1749.12,90.89 1747.72,90.5 1746.39,90.04 1745.15,89.51 1744.03,88.94 1743.08,88.33 1742.3,87.7 1741.72,87.06 1741.35,86.43 1741.2,85.83 1741.28,85.27 1741.58,84.76 1742.09,84.33 1742.81,83.96 1743.71,83.69 1744.78,83.51 1745.98,83.42 1747.29,83.44 1748.68,83.55 1750.1,83.77 1751.53,84.07 1752.93,84.46 1754.27,84.92 1755.51,85.45" stroke="#333" stroke-width="1.3" fill="#fff"/>
<polyline points="1756.11,87.8 1757.06,88.41 1757.82,89.03 1758.4,89.66 1758.76,90.28 1758.91,90.87 1758.83,91.42 1758.53,91.92 1758.03,92.35 1757.32,92.71 1756.43,92.98 1755.38,93.16 1754.19,93.24 1752.9,93.23 1751.54,93.11 1750.13,92.9 1748.72,92.6 1747.34,92.22 1746.02,91.77 1744.8,91.25 1743.7,90.68" stroke="#888" stroke-width="0.9" fill="none"/>
<polygon points="1740.66,126.52 1741.05,126.8 1741.3,127.08 1741.39,127.35 1741.3,127.59 1741.06,127.79 1740.67,127.93 1740.16,128 1739.57,128 1738.93,127.92 1738.29,127.78 1737.69,127.58 1737.18,127.33 1707.02,110.04 1706.63,109.77 1706.38,109.49 1706.29,109.21 1706.38,108.97 1706.62,108.77 1707.01,108.64 1707.52,108.57 1708.11,108.57 1708.75,108.64 1709.39,108.79 1709.99,108.99 1710.5,109.23" stroke="#000" stroke-width="2" fill="#fff"/>
<polygon points="1653.3,143.16 1653.85,143.52 1654.29,143.9 1654.61,144.31 1654.81,144.73 1654.88,145.14 1654.82,145.55 1654.63,145.93 1654.32,146.28 1653.89,146.6 1653.36,146.87 1652.73,147.08 1652.02,147.24 1651.25,147.33 1650.44,147.36 1649.61,147.32 1648.78,147.22 1647.97,147.05 1647.2,146.83 1646.49,146.56 1645.85,146.24 1645.31,145.88 1644.86,145.49 1644.54,145.09 1644.34,144.67 1644.27,144.26 1644.33,143.85 1644.52,143.47 1644.83,143.11 1645.26,142.8 1645.8,142.53 1646.43,142.32 1647.13,142.16 1647.9,142.07 1648.71,142.04 1649.54,142.08 1650.37,142.18 1651.18,142.34 1651.95,142.56 1652.66,142.84" stroke="#000" stroke-width="2.6" fill="#fff"/>
<polygon points="1651.25,144.01 1651.5,144.17 1651.7,144.34 1651.84,144.52 1651.93,144.71 1651.96,144.9 1651.94,145.08 1651.85,145.25 1651.71,145.41 1651.52,145.55 1651.28,145.67 1650.99,145.77 1650.68,145.84 1650.33,145.88 1649.97,145.9 1649.59,145.88 1649.22,145.83 1648.85,145.76 1648.51,145.66 1648.19,145.54 1647.9,145.39 1647.65,145.23 1647.46,145.06 1647.31,144.87 1647.22,144.69 1647.19,144.5 1647.21,144.32 1647.3,144.14 1647.44,143.99 1647.63,143.84 1647.88,143.72 1648.16,143.63 1648.48,143.56 1648.82,143.52 1649.19,143.5 1649.56,143.52 1649.93,143.57 1650.3,143.64 1650.65,143.74 1650.97,143.86" stroke="#000" stroke-width="1.2" fill="#000"/>
<polygon points="1650.14,144.47 1650.22,144.52 1650.28,144.58 1650.33,144.64 1650.36,144.7 1650.37,144.77 1650.36,144.83 1650.33,144.88 1650.29,144.94 1650.22,144.98 1650.14,145.02 1650.05,145.06 1649.94,145.08 1649.83,145.09 1649.71,145.1 1649.58,145.09 1649.46,145.08 1649.34,145.05 1649.22,145.02 1649.11,144.98 1649.02,144.93 1648.94,144.88 1648.87,144.82 1648.82,144.76 1648.79,144.69 1648.78,144.63 1648.79,144.57 1648.82,144.51 1648.86,144.46 1648.93,144.41 1649.01,144.37 1649.1,144.34 1649.21,144.32 1649.32,144.3 1649.45,144.3 1649.57,144.31 1649.7,144.32 1649.82,144.35 1649.93,144.38 1650.04,144.42" stroke="#fff" stroke-width="0.5" fill="#fff"/>
<polyline points="1846.2,163.65 1847.8,164.68 1849.11,165.74 1850.08,166.81 1850.7,167.86 1850.95,168.87 1850.82,169.81 1850.32,170.66 1849.45,171.39 1848.25,172 1846.73,172.46 1844.94,172.77 1842.92,172.91 1840.72,172.88 1838.4,172.69 1836.01,172.33 1833.61,171.82 1831.25,171.17 1829.01,170.4 1826.93,169.51 1825.06,168.55 1823.46,167.52 1822.15,166.46 1821.17,165.39 1820.56,164.34 1820.31,163.33 1820.44,162.39 1820.94,161.54 1821.81,160.8 1823.01,160.2 1824.53,159.74 1826.32,159.43 1828.34,159.29 1830.54,159.32 1832.86,159.51 1835.25,159.87 1837.65,160.38 1840,161.03 1842.25,161.8 1844.33,162.68" stroke="#000" stroke-width="2" fill="#fff"/>
<polygon points="1820.63,163.39 1820.76,162.47 1821.08,161.12 1821.58,160.29 1822.42,159.56 1823.6,158.97 1825.09,158.52 1826.84,158.22 1828.81,158.08 1830.97,158.11 1833.24,158.3 1835.58,158.65 1837.93,159.15 1840.23,159.78 1842.43,160.54 1844.47,161.41 1846.29,162.35 1847.87,163.35 1849.14,164.39 1850.1,165.44 1850.7,166.47 1850.95,167.46 1850.82,168.38 1850.5,169.73 1850.01,170.56 1849.16,171.28 1847.98,171.88 1846.49,172.33 1844.74,172.63 1842.77,172.76 1840.62,172.74 1838.34,172.55 1836,172.2 1833.65,171.7 1831.35,171.06 1829.15,170.3 1827.12,169.44 1825.29,168.5 1823.72,167.49 1822.44,166.46 1821.48,165.41 1820.88,164.38" stroke="#000" stroke-width="1.8" fill="#fff"/>
<polygon points="1846.29,162.35 1847.87,163.35 1849.14,164.39 1850.1,165.44 1850.7,166.47 1850.95,167.46 1850.82,168.38 1850.33,169.21 1849.48,169.93 1848.3,170.52 1846.82,170.98 1845.07,171.27 1843.09,171.41 1840.94,171.39 1838.66,171.2 1836.32,170.85 1833.97,170.35 1831.67,169.71 1829.47,168.95 1827.44,168.09 1825.61,167.15 1824.04,166.14 1822.76,165.1 1821.8,164.06 1821.2,163.03 1820.96,162.04 1821.08,161.12 1821.58,160.29 1822.42,159.57 1823.6,158.97 1825.09,158.52 1826.84,158.22 1828.81,158.08 1830.97,158.11 1833.24,158.3 1835.58,158.65 1837.93,159.15 1840.23,159.78 1842.43,160.54 1844.47,161.41" stroke="#000" stroke-width="1.8" fill="#fff"/>
<polyline points="1822.64,160.92 1823.2,158.57 1832.64,156.38 1845.95,160.21 1849.82,166.23 1849.26,168.58 1839.82,170.77 1826.51,166.94" stroke="#000" stroke-width="1.6" fill="#fff"/>
<polyline points="1845.95,160.21 1849.82,166.23 1840.38,168.42 1827.07,164.59 1823.2,158.57 1832.64,156.38" stroke="#000" stroke-width="1.2" fill="#fff"/>
<polygon points="1824.45,160.22 1824.55,159.48 1824.79,158.48 1825.19,157.81 1825.87,157.23 1826.82,156.75 1828.01,156.39 1829.42,156.15 1831.01,156.04 1832.74,156.06 1834.57,156.21 1836.45,156.49 1838.34,156.89 1840.19,157.41 1841.96,158.02 1843.6,158.71 1845.07,159.47 1846.33,160.28 1847.36,161.11 1848.13,161.95 1848.62,162.78 1848.81,163.58 1848.71,164.32 1848.47,165.32 1848.08,165.99 1847.39,166.57 1846.44,167.04 1845.25,167.41 1843.84,167.65 1842.25,167.76 1840.52,167.74 1838.69,167.58 1836.81,167.3 1834.92,166.9 1833.07,166.39 1831.3,165.78 1829.66,165.09 1828.19,164.33 1826.93,163.52 1825.9,162.68 1825.13,161.84 1824.64,161.01" stroke="#000" stroke-width="1.4" fill="#fff"/>
<polygon points="1845.07,159.47 1846.33,160.28 1847.36,161.11 1848.13,161.95 1848.62,162.78 1848.81,163.58 1848.71,164.32 1848.31,164.99 1847.63,165.57 1846.68,166.04 1845.49,166.41 1844.08,166.65 1842.49,166.76 1840.76,166.74 1838.93,166.58 1837.05,166.3 1835.16,165.9 1833.3,165.39 1831.54,164.78 1829.9,164.09 1828.43,163.33 1827.17,162.52 1826.14,161.68 1825.37,160.84 1824.88,160.01 1824.69,159.22 1824.79,158.48 1825.19,157.81 1825.87,157.23 1826.82,156.75 1828.01,156.39 1829.42,156.15 1831.01,156.04 1832.74,156.06 1834.57,156.21 1836.45,156.49 1838.34,156.89 1840.19,157.41 1841.96,158.02 1843.6,158.71" stroke="#000" stroke-width="1.4" fill="#fff"/>
<polygon points="1825.99,159.46 1826.08,158.79 1827.69,152.04 1828.05,151.44 1828.65,150.92 1829.5,150.5 1830.56,150.17 1831.82,149.96 1833.24,149.86 1834.78,149.88 1836.41,150.01 1838.09,150.26 1839.78,150.62 1841.43,151.08 1843.01,151.62 1844.47,152.24 1845.78,152.92 1846.9,153.64 1847.82,154.38 1848.51,155.13 1848.94,155.87 1849.12,156.58 1849.03,157.24 1847.42,164 1847.06,164.6 1846.45,165.12 1845.61,165.54 1844.54,165.87 1843.29,166.08 1841.87,166.18 1840.33,166.16 1838.69,166.02 1837.02,165.77 1835.33,165.42 1833.68,164.96 1832.1,164.41 1830.64,163.8 1829.33,163.12 1828.2,162.4 1827.28,161.65 1826.6,160.9 1826.16,160.16" stroke="#000" stroke-width="1.6" fill="#fff"/>
<polygon points="1845.78,152.92 1846.91,153.64 1847.82,154.38 1848.51,155.14 1848.94,155.87 1849.12,156.58 1849.03,157.24 1848.67,157.84 1848.06,158.36 1847.22,158.78 1846.15,159.11 1844.9,159.32 1843.48,159.42 1841.93,159.4 1840.3,159.27 1838.62,159.02 1836.94,158.66 1835.29,158.2 1833.71,157.66 1832.25,157.04 1830.94,156.36 1829.81,155.64 1828.89,154.89 1828.21,154.14 1827.77,153.4 1827.6,152.7 1827.69,152.04 1828.04,151.44 1828.65,150.92 1829.5,150.5 1830.56,150.17 1831.82,149.96 1833.24,149.86 1834.78,149.88 1836.41,150.01 1838.09,150.26 1839.78,150.62 1841.43,151.08 1843.01,151.62 1844.47,152.24" stroke="#000" stroke-width="1.6" fill="#fff"/>
<polyline points="1844.88,153.13 1845.87,153.76 1846.68,154.42 1847.28,155.08 1847.66,155.72 1847.81,156.35 1847.73,156.93 1847.42,157.45 1846.89,157.91 1846.14,158.28 1845.21,158.57 1844.1,158.75 1842.86,158.84 1841.5,158.82 1840.07,158.7 1838.59,158.48 1837.11,158.17 1835.66,157.77 1834.27,157.29 1832.99,156.75 1831.84,156.15 1830.85,155.52 1830.04,154.86 1829.44,154.2 1829.06,153.55 1828.9,152.93 1828.98,152.35 1829.29,151.83 1829.83,151.37 1830.57,151 1831.51,150.71 1832.61,150.52 1833.86,150.44 1835.21,150.45 1836.65,150.57 1838.12,150.79 1839.61,151.11 1841.06,151.51 1842.44,151.99 1843.73,152.53" stroke="#000" stroke-width="1" fill="none"/>
<polygon points="1830.53,153.23 1830.6,152.75 1832.07,146.57 1832.33,146.14 1832.77,145.76 1833.38,145.46 1834.16,145.22 1835.07,145.06 1836.1,144.99 1837.23,145 1838.41,145.1 1839.63,145.29 1840.86,145.55 1842.06,145.88 1843.21,146.28 1844.27,146.72 1845.22,147.22 1846.04,147.74 1846.71,148.28 1847.21,148.83 1847.53,149.37 1847.65,149.88 1847.59,150.36 1846.12,156.53 1845.86,156.97 1845.42,157.34 1844.8,157.65 1844.03,157.89 1843.11,158.04 1842.08,158.12 1840.96,158.1 1839.77,158 1838.55,157.82 1837.33,157.56 1836.12,157.23 1834.98,156.83 1833.92,156.38 1832.96,155.89 1832.14,155.37 1831.47,154.82 1830.98,154.28 1830.66,153.74" stroke="#000" stroke-width="1.3" fill="#fff"/>
<polygon points="1845.22,147.22 1846.04,147.74 1846.71,148.28 1847.21,148.83 1847.52,149.37 1847.65,149.88 1847.58,150.36 1847.33,150.8 1846.89,151.17 1846.27,151.48 1845.5,151.72 1844.58,151.87 1843.55,151.95 1842.43,151.93 1841.24,151.83 1840.02,151.65 1838.79,151.39 1837.59,151.06 1836.45,150.66 1835.38,150.21 1834.43,149.72 1833.61,149.2 1832.94,148.65 1832.45,148.11 1832.13,147.57 1832,147.06 1832.07,146.58 1832.33,146.14 1832.77,145.76 1833.38,145.45 1834.16,145.22 1835.07,145.06 1836.1,144.99 1837.23,145.01 1838.41,145.1 1839.63,145.29 1840.86,145.55 1842.06,145.88 1843.21,146.27 1844.27,146.72" stroke="#000" stroke-width="1.3" fill="#fff"/>
<polygon points="1830.7,146.82 1830.78,146.26 1832.81,137.74 1833.11,137.23 1833.62,136.79 1834.34,136.43 1835.24,136.16 1836.31,135.97 1837.51,135.89 1838.82,135.91 1840.21,136.02 1841.63,136.24 1843.06,136.54 1844.46,136.93 1845.8,137.39 1847.04,137.91 1848.15,138.49 1849.11,139.1 1849.89,139.73 1850.47,140.37 1850.84,141 1850.98,141.6 1850.91,142.16 1848.88,150.68 1848.58,151.18 1848.06,151.62 1847.34,151.99 1846.44,152.26 1845.38,152.44 1844.17,152.53 1842.86,152.51 1841.48,152.39 1840.05,152.18 1838.62,151.88 1837.22,151.49 1835.88,151.03 1834.64,150.5 1833.53,149.93 1832.58,149.32 1831.8,148.69 1831.22,148.05 1830.85,147.42" stroke="#000" stroke-width="1.3" fill="#fff"/>
<polygon points="1848.15,138.49 1849.11,139.1 1849.89,139.73 1850.47,140.37 1850.84,140.99 1850.98,141.6 1850.91,142.16 1850.61,142.66 1850.09,143.1 1849.37,143.46 1848.47,143.74 1847.4,143.92 1846.2,144 1844.89,143.99 1843.51,143.87 1842.08,143.66 1840.65,143.36 1839.25,142.97 1837.91,142.51 1836.67,141.98 1835.56,141.41 1834.6,140.8 1833.83,140.16 1833.24,139.53 1832.88,138.9 1832.73,138.3 1832.81,137.74 1833.11,137.23 1833.62,136.79 1834.34,136.43 1835.24,136.16 1836.31,135.97 1837.51,135.89 1838.82,135.91 1840.21,136.02 1841.63,136.23 1843.06,136.54 1844.46,136.93 1845.8,137.39 1847.04,137.91" stroke="#333" stroke-width="1.3" fill="#fff"/>
<polyline points="1847.64,140.27 1848.58,140.87 1849.35,141.5 1849.92,142.13 1850.29,142.74 1850.43,143.34 1850.36,143.89 1850.06,144.39 1849.55,144.82 1848.85,145.18 1847.96,145.45 1846.9,145.63 1845.72,145.71 1844.43,145.69 1843.06,145.58 1841.66,145.37 1840.25,145.07 1838.87,144.69 1837.55,144.23 1836.33,143.72 1835.23,143.15" stroke="#888" stroke-width="0.9" fill="none"/>
<polygon points="1832.19,178.99 1832.58,179.27 1832.83,179.55 1832.91,179.82 1832.83,180.06 1832.59,180.26 1832.2,180.4 1831.69,180.47 1831.09,180.46 1830.46,180.39 1829.82,180.25 1829.22,180.04 1828.71,179.8 1798.67,162.58 1798.27,162.3 1798.02,162.02 1797.94,161.75 1798.02,161.51 1798.27,161.31 1798.66,161.17 1799.17,161.1 1799.76,161.1 1800.4,161.18 1801.04,161.32 1801.63,161.52 1802.14,161.77" stroke="#000" stroke-width="2" fill="#fff"/>
<polygon points="1718.81,172.97 1718.95,172.03 1722.43,149.25 1722.85,148.41 1723.54,147.63 1724.48,146.94 1725.66,146.35 1727.05,145.88 1728.61,145.53 1730.29,145.33 1732.07,145.27 1733.9,145.35 1735.72,145.57 1737.51,145.93 1739.2,146.42 1740.77,147.02 1742.18,147.73 1743.38,148.51 1744.34,149.37 1745.06,150.26 1745.5,151.18 1745.65,152.09 1743.49,175.03 1743.35,175.97 1742.91,176.86 1742.18,177.68 1741.18,178.41 1739.94,179.03 1738.47,179.53 1736.83,179.89 1735.05,180.11 1733.17,180.18 1731.24,180.09 1729.31,179.85 1727.42,179.47 1725.63,178.96 1723.97,178.32 1722.49,177.58 1721.22,176.74 1720.2,175.84 1719.44,174.9 1718.98,173.93" stroke="#000" stroke-width="1.3" fill="#fff"/>
<polygon points="1742.18,147.73 1743.38,148.51 1744.34,149.36 1745.06,150.26 1745.5,151.17 1745.65,152.09 1745.52,152.98 1745.11,153.82 1744.42,154.6 1743.47,155.29 1742.29,155.88 1740.91,156.35 1739.35,156.69 1737.67,156.9 1735.89,156.96 1734.06,156.88 1732.24,156.66 1730.45,156.3 1728.75,155.81 1727.18,155.21 1725.78,154.5 1724.58,153.72 1723.61,152.86 1722.9,151.97 1722.46,151.05 1722.3,150.14 1722.43,149.25 1722.85,148.41 1723.54,147.63 1724.49,146.94 1725.66,146.35 1727.05,145.88 1728.6,145.53 1730.29,145.33 1732.07,145.27 1733.9,145.35 1735.72,145.57 1737.51,145.93 1739.21,146.42 1740.77,147.02" stroke="#000" stroke-width="1.3" fill="#fff"/>
<polyline points="1741.94,148.89 1743.13,149.67 1744.09,150.51 1744.79,151.4 1745.23,152.3 1745.38,153.21 1745.25,154.09 1744.84,154.92 1744.16,155.69 1743.23,156.37 1742.06,156.96 1740.69,157.42 1739.15,157.76 1737.48,157.96 1735.73,158.03 1733.92,157.94 1732.12,157.72 1730.35,157.37 1728.67,156.89 1727.12,156.29 1725.74,155.59" stroke="#666" stroke-width="0.8" fill="none"/>
<polygon points="1666.88,179.68 1668.57,177.54 1669.09,177.13 1677.09,173.83 1677.98,173.65 1679.02,173.73 1679.91,174.06 1692.79,181.44 1693.31,181.92 1694.44,184.3 1694.44,184.81 1693.93,185.21 1684.52,189.1 1683.62,189.28 1682.59,189.2 1681.69,188.87 1667.4,180.68 1666.88,180.19" stroke="#000" stroke-width="1.2" fill="#fff"/>
<polygon points="1669.1,178.53 1668.58,178.05 1668.57,177.54 1669.09,177.14 1677.09,173.83 1677.98,173.65 1679.02,173.73 1679.91,174.06 1692.79,181.44 1693.31,181.92 1693.31,182.43 1692.79,182.83 1684.8,186.14 1683.9,186.32 1682.87,186.24 1681.97,185.91" stroke="#333" stroke-width="1" fill="#fff"/>
<polygon points="1670.04,178.61 1669.52,178.12 1669.52,177.61 1670.03,177.21 1677.09,174.29 1677.98,174.11 1679.02,174.2 1679.92,174.52 1691.84,181.36 1692.36,181.85 1692.37,182.36 1691.85,182.76 1684.79,185.67 1683.9,185.86 1682.86,185.77 1681.97,185.45" stroke="#999" stroke-width="0.6" fill="none"/>
<polygon points="1574.27,175.83 1574.82,176.19 1575.26,176.57 1575.58,176.98 1575.78,177.4 1575.86,177.81 1575.8,178.22 1575.61,178.6 1575.29,178.95 1574.86,179.27 1574.33,179.54 1573.7,179.75 1572.99,179.91 1572.22,180 1571.42,180.03 1570.59,179.99 1569.76,179.89 1568.94,179.73 1568.17,179.5 1567.46,179.23 1566.82,178.91 1566.28,178.55 1565.84,178.16 1565.51,177.76 1565.31,177.34 1565.24,176.93 1565.3,176.52 1565.49,176.14 1565.8,175.79 1566.23,175.47 1566.77,175.2 1567.4,174.99 1568.11,174.83 1568.87,174.74 1569.68,174.71 1570.51,174.75 1571.34,174.85 1572.15,175.01 1572.92,175.24 1573.64,175.51" stroke="#000" stroke-width="2.6" fill="#fff"/>
<polygon points="1572.23,176.68 1572.47,176.84 1572.67,177.01 1572.81,177.19 1572.9,177.38 1572.94,177.57 1572.91,177.75 1572.83,177.92 1572.68,178.08 1572.49,178.22 1572.25,178.34 1571.97,178.44 1571.65,178.51 1571.3,178.55 1570.94,178.57 1570.57,178.55 1570.19,178.5 1569.83,178.43 1569.48,178.33 1569.16,178.21 1568.87,178.06 1568.63,177.9 1568.43,177.73 1568.28,177.54 1568.19,177.36 1568.16,177.17 1568.19,176.99 1568.27,176.82 1568.41,176.66 1568.61,176.52 1568.85,176.39 1569.13,176.3 1569.45,176.23 1569.79,176.19 1570.16,176.17 1570.53,176.19 1570.91,176.24 1571.27,176.31 1571.62,176.41 1571.94,176.53" stroke="#000" stroke-width="1.2" fill="#000"/>
<polygon points="1571.11,177.14 1571.19,177.19 1571.26,177.25 1571.3,177.31 1571.33,177.37 1571.34,177.44 1571.34,177.5 1571.31,177.55 1571.26,177.61 1571.2,177.65 1571.12,177.69 1571.02,177.73 1570.92,177.75 1570.8,177.76 1570.68,177.77 1570.55,177.76 1570.43,177.75 1570.31,177.72 1570.19,177.69 1570.09,177.65 1569.99,177.6 1569.91,177.55 1569.84,177.49 1569.79,177.43 1569.76,177.37 1569.75,177.3 1569.76,177.24 1569.79,177.18 1569.84,177.13 1569.9,177.08 1569.98,177.04 1570.08,177.01 1570.18,176.99 1570.3,176.98 1570.42,176.97 1570.54,176.98 1570.67,176.99 1570.79,177.02 1570.9,177.05 1571.01,177.09" stroke="#fff" stroke-width="0.5" fill="#fff"/>
<polygon points="1644.54,188.92 1646.23,186.77 1646.74,186.37 1654.74,183.07 1655.64,182.88 1656.67,182.97 1657.57,183.29 1670.44,190.68 1670.96,191.16 1672.1,193.53 1672.1,194.04 1671.58,194.44 1662.18,198.33 1661.28,198.52 1660.25,198.43 1659.35,198.1 1645.06,189.91 1644.54,189.43" stroke="#000" stroke-width="1.2" fill="#fff"/>
<polygon points="1646.75,187.77 1646.23,187.28 1646.23,186.77 1646.75,186.37 1654.74,183.07 1655.64,182.88 1656.67,182.97 1657.57,183.3 1670.44,190.67 1670.96,191.16 1670.97,191.67 1670.45,192.07 1662.45,195.38 1661.56,195.56 1660.52,195.48 1659.62,195.15" stroke="#333" stroke-width="1" fill="#fff"/>
<polygon points="1647.69,187.84 1647.17,187.36 1647.17,186.85 1647.69,186.45 1654.74,183.53 1655.64,183.35 1656.67,183.43 1657.57,183.76 1669.5,190.6 1670.02,191.08 1670.02,191.59 1669.51,191.99 1662.45,194.91 1661.56,195.09 1660.52,195.01 1659.62,194.68" stroke="#999" stroke-width="0.6" fill="none"/>
<polyline points="1937.96,216.25 1939.57,217.28 1940.87,218.34 1941.85,219.41 1942.47,220.46 1942.72,221.47 1942.59,222.41 1942.08,223.26 1941.22,224 1940.01,224.6 1938.49,225.07 1936.71,225.37 1934.69,225.51 1932.49,225.48 1930.16,225.29 1927.77,224.93 1925.37,224.42 1923.02,223.77 1920.77,223 1918.69,222.12 1916.83,221.15 1915.22,220.13 1913.91,219.07 1912.94,218 1912.32,216.94 1912.07,215.93 1912.2,214.99 1912.7,214.14 1913.57,213.41 1914.78,212.8 1916.29,212.34 1918.08,212.03 1920.1,211.89 1922.3,211.92 1924.62,212.11 1927.02,212.47 1929.42,212.98 1931.77,213.63 1934.01,214.41 1936.09,215.29" stroke="#000" stroke-width="2" fill="#fff"/>
<polygon points="1912.4,215.99 1912.53,215.07 1912.85,213.72 1913.34,212.89 1914.19,212.17 1915.37,211.57 1916.85,211.12 1918.6,210.82 1920.58,210.69 1922.73,210.71 1925,210.9 1927.35,211.25 1929.7,211.75 1932,212.39 1934.19,213.15 1936.23,214.01 1938.06,214.95 1939.63,215.96 1940.91,217 1941.86,218.04 1942.47,219.07 1942.71,220.06 1942.58,220.98 1942.26,222.33 1941.77,223.16 1940.92,223.88 1939.74,224.48 1938.26,224.93 1936.51,225.23 1934.53,225.37 1932.38,225.34 1930.11,225.15 1927.76,224.8 1925.41,224.3 1923.11,223.67 1920.91,222.91 1918.88,222.04 1917.05,221.1 1915.48,220.1 1914.2,219.06 1913.25,218.01 1912.64,216.98" stroke="#000" stroke-width="1.8" fill="#fff"/>
<polygon points="1938.06,214.95 1939.63,215.96 1940.91,216.99 1941.86,218.04 1942.47,219.07 1942.71,220.06 1942.58,220.98 1942.09,221.81 1941.24,222.53 1940.06,223.13 1938.58,223.58 1936.83,223.88 1934.85,224.02 1932.7,223.99 1930.43,223.8 1928.09,223.45 1925.73,222.95 1923.43,222.31 1921.24,221.56 1919.2,220.69 1917.37,219.75 1915.8,218.74 1914.52,217.71 1913.57,216.66 1912.96,215.63 1912.72,214.64 1912.85,213.72 1913.34,212.89 1914.19,212.17 1915.37,211.57 1916.85,211.12 1918.6,210.82 1920.58,210.69 1922.73,210.71 1925,210.9 1927.35,211.25 1929.7,211.75 1932,212.39 1934.19,213.15 1936.23,214.01" stroke="#000" stroke-width="1.8" fill="#fff"/>
<polyline points="1914.4,213.52 1914.96,211.17 1924.4,208.98 1937.72,212.81 1941.59,218.83 1941.03,221.18 1931.59,223.37 1918.27,219.54" stroke="#000" stroke-width="1.6" fill="#fff"/>
<polyline points="1937.72,212.81 1941.59,218.83 1932.15,221.02 1918.83,217.19 1914.96,211.17 1924.4,208.98" stroke="#000" stroke-width="1.2" fill="#fff"/>
<polygon points="1916.21,212.82 1916.32,212.08 1916.55,211.08 1916.95,210.41 1917.63,209.83 1918.58,209.35 1919.77,208.99 1921.18,208.75 1922.77,208.64 1924.5,208.66 1926.33,208.81 1928.21,209.09 1930.11,209.5 1931.96,210.01 1933.72,210.62 1935.36,211.31 1936.83,212.07 1938.1,212.88 1939.12,213.72 1939.89,214.56 1940.38,215.38 1940.58,216.18 1940.47,216.92 1940.23,217.92 1939.84,218.59 1939.16,219.17 1938.21,219.65 1937.01,220.01 1935.61,220.25 1934.02,220.36 1932.29,220.34 1930.46,220.19 1928.57,219.91 1926.68,219.5 1924.83,218.99 1923.06,218.38 1921.43,217.69 1919.96,216.93 1918.69,216.12 1917.66,215.29 1916.9,214.44 1916.41,213.62" stroke="#000" stroke-width="1.4" fill="#fff"/>
<polygon points="1936.83,212.07 1938.1,212.88 1939.12,213.71 1939.89,214.56 1940.38,215.39 1940.57,216.18 1940.47,216.92 1940.08,217.59 1939.4,218.17 1938.45,218.65 1937.25,219.01 1935.84,219.25 1934.25,219.36 1932.52,219.34 1930.69,219.19 1928.81,218.91 1926.92,218.51 1925.07,217.99 1923.3,217.38 1921.66,216.69 1920.19,215.93 1918.93,215.12 1917.9,214.29 1917.13,213.44 1916.65,212.62 1916.45,211.82 1916.55,211.08 1916.95,210.41 1917.63,209.83 1918.58,209.35 1919.77,208.99 1921.18,208.75 1922.77,208.64 1924.5,208.66 1926.33,208.81 1928.22,209.09 1930.11,209.5 1931.96,210.01 1933.72,210.62 1935.36,211.31" stroke="#000" stroke-width="1.4" fill="#fff"/>
<polygon points="1917.76,212.06 1917.85,211.4 1919.45,204.64 1919.81,204.04 1920.42,203.52 1921.26,203.1 1922.33,202.77 1923.58,202.56 1925,202.46 1926.55,202.48 1928.18,202.62 1929.86,202.87 1931.54,203.22 1933.19,203.68 1934.77,204.23 1936.23,204.84 1937.54,205.52 1938.67,206.24 1939.59,206.99 1940.27,207.74 1940.71,208.48 1940.88,209.19 1940.79,209.85 1939.18,216.6 1938.83,217.2 1938.22,217.72 1937.37,218.15 1936.31,218.47 1935.05,218.68 1933.63,218.78 1932.09,218.76 1930.46,218.63 1928.78,218.38 1927.09,218.02 1925.44,217.56 1923.87,217.02 1922.4,216.4 1921.09,215.72 1919.97,215 1919.05,214.26 1918.36,213.5 1917.93,212.77" stroke="#000" stroke-width="1.6" fill="#fff"/>
<polygon points="1937.54,205.52 1938.67,206.24 1939.59,206.99 1940.27,207.74 1940.71,208.48 1940.88,209.19 1940.79,209.85 1940.44,210.44 1939.83,210.96 1938.98,211.39 1937.92,211.71 1936.66,211.92 1935.24,212.02 1933.7,212 1932.07,211.87 1930.39,211.62 1928.7,211.26 1927.05,210.8 1925.47,210.26 1924.01,209.64 1922.7,208.96 1921.57,208.24 1920.66,207.5 1919.97,206.75 1919.54,206.01 1919.36,205.3 1919.45,204.64 1919.81,204.04 1920.42,203.52 1921.26,203.1 1922.33,202.77 1923.58,202.56 1925,202.46 1926.55,202.48 1928.18,202.62 1929.86,202.87 1931.54,203.22 1933.19,203.68 1934.77,204.23 1936.23,204.84" stroke="#000" stroke-width="1.6" fill="#fff"/>
<polyline points="1936.64,205.73 1937.63,206.36 1938.44,207.02 1939.04,207.68 1939.42,208.33 1939.58,208.95 1939.5,209.53 1939.19,210.05 1938.65,210.51 1937.91,210.88 1936.97,211.17 1935.87,211.36 1934.62,211.44 1933.27,211.43 1931.83,211.31 1930.36,211.09 1928.87,210.77 1927.42,210.37 1926.04,209.89 1924.75,209.35 1923.6,208.75 1922.61,208.12 1921.8,207.47 1921.2,206.81 1920.82,206.16 1920.67,205.53 1920.75,204.95 1921.06,204.43 1921.59,203.98 1922.34,203.6 1923.27,203.32 1924.38,203.13 1925.62,203.04 1926.98,203.06 1928.41,203.18 1929.89,203.4 1931.37,203.71 1932.82,204.11 1934.21,204.59 1935.49,205.14" stroke="#000" stroke-width="1" fill="none"/>
<polygon points="1922.3,205.83 1922.36,205.35 1923.83,199.18 1924.09,198.74 1924.53,198.37 1925.15,198.06 1925.92,197.82 1926.84,197.67 1927.87,197.59 1928.99,197.61 1930.18,197.71 1931.4,197.89 1932.62,198.15 1933.83,198.48 1934.97,198.88 1936.03,199.33 1936.99,199.82 1937.81,200.34 1938.47,200.89 1938.97,201.43 1939.29,201.97 1939.41,202.49 1939.35,202.97 1937.88,209.14 1937.62,209.57 1937.18,209.95 1936.57,210.26 1935.79,210.49 1934.88,210.65 1933.85,210.72 1932.72,210.71 1931.54,210.61 1930.32,210.43 1929.09,210.16 1927.89,209.83 1926.74,209.44 1925.68,208.99 1924.73,208.49 1923.91,207.97 1923.24,207.43 1922.74,206.88 1922.42,206.34" stroke="#000" stroke-width="1.3" fill="#fff"/>
<polygon points="1936.99,199.82 1937.81,200.34 1938.47,200.89 1938.97,201.43 1939.29,201.97 1939.41,202.48 1939.35,202.97 1939.09,203.4 1938.65,203.78 1938.03,204.09 1937.26,204.32 1936.35,204.48 1935.31,204.55 1934.19,204.53 1933.01,204.44 1931.78,204.25 1930.56,203.99 1929.36,203.66 1928.21,203.27 1927.15,202.82 1926.2,202.32 1925.37,201.8 1924.71,201.26 1924.21,200.71 1923.89,200.17 1923.77,199.66 1923.83,199.18 1924.09,198.74 1924.53,198.37 1925.15,198.06 1925.92,197.82 1926.84,197.67 1927.87,197.59 1928.99,197.61 1930.18,197.71 1931.4,197.89 1932.62,198.15 1933.83,198.48 1934.97,198.88 1936.03,199.33" stroke="#000" stroke-width="1.3" fill="#fff"/>
<polygon points="1922.46,199.42 1922.54,198.86 1924.57,190.34 1924.87,189.84 1925.38,189.4 1926.1,189.03 1927.01,188.76 1928.07,188.58 1929.28,188.49 1930.59,188.51 1931.97,188.62 1933.39,188.84 1934.83,189.14 1936.23,189.53 1937.56,189.99 1938.8,190.52 1939.91,191.09 1940.87,191.7 1941.65,192.33 1942.23,192.97 1942.6,193.6 1942.75,194.2 1942.67,194.76 1940.64,203.28 1940.34,203.79 1939.83,204.23 1939.11,204.59 1938.2,204.86 1937.14,205.04 1935.94,205.13 1934.63,205.11 1933.24,205 1931.82,204.78 1930.39,204.48 1928.98,204.09 1927.65,203.63 1926.41,203.11 1925.3,202.53 1924.34,201.92 1923.56,201.29 1922.98,200.65 1922.61,200.02" stroke="#000" stroke-width="1.3" fill="#fff"/>
<polygon points="1939.91,191.09 1940.87,191.7 1941.65,192.33 1942.23,192.97 1942.6,193.6 1942.75,194.2 1942.67,194.76 1942.37,195.27 1941.85,195.7 1941.14,196.07 1940.23,196.34 1939.17,196.52 1937.96,196.61 1936.65,196.59 1935.27,196.48 1933.84,196.26 1932.41,195.96 1931.01,195.57 1929.68,195.11 1928.44,194.58 1927.32,194.01 1926.37,193.4 1925.59,192.77 1925.01,192.13 1924.64,191.5 1924.49,190.9 1924.57,190.34 1924.87,189.83 1925.38,189.4 1926.1,189.03 1927.01,188.76 1928.07,188.58 1929.28,188.49 1930.58,188.51 1931.97,188.63 1933.39,188.84 1934.83,189.14 1936.23,189.53 1937.56,189.99 1938.8,190.52" stroke="#333" stroke-width="1.3" fill="#fff"/>
<polyline points="1939.41,192.87 1940.35,193.48 1941.12,194.1 1941.69,194.73 1942.05,195.35 1942.2,195.94 1942.12,196.49 1941.83,196.99 1941.32,197.42 1940.61,197.78 1939.72,198.05 1938.67,198.23 1937.48,198.31 1936.19,198.3 1934.83,198.18 1933.42,197.97 1932.01,197.67 1930.63,197.29 1929.31,196.84 1928.09,196.32 1926.99,195.75" stroke="#888" stroke-width="0.9" fill="none"/>
<polygon points="1700.3,198.84 1702,196.69 1702.51,196.29 1710.51,192.99 1711.4,192.81 1712.44,192.89 1713.34,193.22 1726.21,200.6 1726.73,201.08 1727.86,203.46 1727.87,203.97 1727.35,204.37 1717.94,208.26 1717.05,208.44 1716.01,208.35 1715.11,208.03 1700.82,199.84 1700.31,199.35" stroke="#000" stroke-width="1.2" fill="#fff"/>
<polygon points="1702.52,197.69 1702,197.21 1702,196.69 1702.51,196.29 1710.51,192.99 1711.4,192.81 1712.44,192.89 1713.34,193.22 1726.21,200.6 1726.73,201.08 1726.73,201.59 1726.22,201.99 1718.22,205.3 1717.32,205.48 1716.29,205.4 1715.39,205.07" stroke="#333" stroke-width="1" fill="#fff"/>
<polygon points="1703.46,197.77 1702.94,197.28 1702.94,196.77 1703.45,196.37 1710.51,193.45 1711.41,193.27 1712.44,193.35 1713.34,193.68 1725.27,200.52 1725.79,201 1725.79,201.52 1725.27,201.92 1718.22,204.83 1717.32,205.02 1716.29,204.93 1715.39,204.6" stroke="#999" stroke-width="0.6" fill="none"/>
<polygon points="1773.14,204.11 1773.28,203.17 1776.76,180.39 1777.18,179.55 1777.87,178.77 1778.81,178.08 1779.99,177.49 1781.38,177.02 1782.93,176.68 1784.62,176.47 1786.4,176.41 1788.22,176.49 1790.05,176.71 1791.83,177.07 1793.53,177.56 1795.1,178.16 1796.5,178.87 1797.7,179.66 1798.67,180.51 1799.38,181.4 1799.82,182.32 1799.98,183.23 1797.82,206.17 1797.68,207.11 1797.24,208 1796.51,208.82 1795.51,209.55 1794.26,210.17 1792.8,210.67 1791.16,211.03 1789.37,211.25 1787.49,211.32 1785.57,211.23 1783.63,211 1781.75,210.62 1779.95,210.1 1778.3,209.46 1776.82,208.72 1775.55,207.89 1774.52,206.99 1773.77,206.04 1773.31,205.07" stroke="#000" stroke-width="1.3" fill="#fff"/>
<polygon points="1796.5,178.87 1797.7,179.66 1798.67,180.51 1799.38,181.4 1799.82,182.32 1799.98,183.23 1799.85,184.12 1799.43,184.96 1798.75,185.74 1797.8,186.43 1796.62,187.02 1795.23,187.49 1793.68,187.84 1791.99,188.04 1790.21,188.1 1788.39,188.02 1786.56,187.8 1784.78,187.44 1783.08,186.95 1781.51,186.35 1780.11,185.64 1778.91,184.86 1777.94,184.01 1777.23,183.11 1776.79,182.2 1776.63,181.28 1776.76,180.39 1777.18,179.55 1777.86,178.77 1778.81,178.08 1779.99,177.49 1781.38,177.02 1782.93,176.68 1784.62,176.47 1786.4,176.41 1788.22,176.49 1790.05,176.71 1791.83,177.07 1793.53,177.56 1795.1,178.16" stroke="#000" stroke-width="1.3" fill="#fff"/>
<polyline points="1796.27,180.04 1797.45,180.81 1798.41,181.66 1799.12,182.54 1799.55,183.45 1799.71,184.35 1799.58,185.23 1799.17,186.06 1798.49,186.83 1797.55,187.52 1796.39,188.1 1795.02,188.56 1793.48,188.9 1791.81,189.11 1790.05,189.17 1788.25,189.09 1786.44,188.87 1784.68,188.51 1783,188.03 1781.45,187.43 1780.06,186.74" stroke="#666" stroke-width="0.8" fill="none"/>
<polygon points="1622.43,198.06 1624.12,195.91 1624.64,195.51 1632.4,192.3 1633.29,192.12 1634.33,192.21 1635.23,192.53 1648.1,199.91 1648.62,200.4 1649.75,202.77 1649.76,203.28 1649.24,203.68 1640.07,207.47 1639.17,207.66 1638.14,207.57 1637.24,207.25 1622.95,199.05 1622.43,198.57" stroke="#000" stroke-width="1.2" fill="#fff"/>
<polygon points="1624.64,196.91 1624.12,196.42 1624.12,195.91 1624.64,195.51 1632.4,192.3 1633.29,192.12 1634.33,192.2 1635.23,192.53 1648.1,199.91 1648.62,200.4 1648.62,200.91 1648.11,201.31 1640.34,204.52 1639.45,204.7 1638.41,204.62 1637.52,204.29" stroke="#333" stroke-width="1" fill="#fff"/>
<polygon points="1625.59,196.98 1625.07,196.5 1625.06,195.99 1625.58,195.59 1632.4,192.77 1633.3,192.59 1634.33,192.67 1635.23,193 1647.16,199.84 1647.68,200.32 1647.68,200.83 1647.16,201.23 1640.34,204.05 1639.45,204.23 1638.41,204.15 1637.51,203.82" stroke="#999" stroke-width="0.6" fill="none"/>
<polygon points="1924.07,231.66 1924.46,231.94 1924.71,232.22 1924.8,232.49 1924.71,232.73 1924.47,232.93 1924.08,233.07 1923.57,233.14 1922.98,233.14 1922.34,233.06 1921.7,232.92 1921.1,232.71 1920.59,232.47 1890.43,215.18 1890.04,214.91 1889.79,214.62 1889.7,214.35 1889.79,214.11 1890.03,213.91 1890.42,213.77 1890.93,213.7 1891.52,213.71 1892.16,213.78 1892.8,213.93 1893.39,214.13 1893.91,214.37" stroke="#000" stroke-width="2" fill="#fff"/>
<polygon points="1677.96,208.08 1679.65,205.93 1680.17,205.53 1688.16,202.23 1689.06,202.04 1690.1,202.13 1690.99,202.46 1703.87,209.83 1704.38,210.32 1705.52,212.69 1705.52,213.2 1705.01,213.6 1695.6,217.49 1694.7,217.68 1693.67,217.59 1692.77,217.26 1678.48,209.07 1677.96,208.59" stroke="#000" stroke-width="1.2" fill="#fff"/>
<polygon points="1680.17,206.93 1679.65,206.44 1679.65,205.93 1680.17,205.53 1688.16,202.23 1689.06,202.04 1690.1,202.13 1690.99,202.45 1703.87,209.83 1704.39,210.32 1704.39,210.83 1703.87,211.23 1695.88,214.54 1694.98,214.72 1693.94,214.63 1693.05,214.31" stroke="#333" stroke-width="1" fill="#fff"/>
<polygon points="1681.12,207 1680.6,206.52 1680.59,206.01 1681.11,205.61 1688.17,202.69 1689.06,202.51 1690.1,202.59 1690.99,202.92 1702.92,209.76 1703.44,210.24 1703.44,210.75 1702.93,211.15 1695.87,214.07 1694.98,214.25 1693.94,214.17 1693.04,213.84" stroke="#999" stroke-width="0.6" fill="none"/>
<polygon points="1810.58,225.57 1810.71,224.63 1814.2,201.85 1814.61,201.01 1815.3,200.23 1816.25,199.54 1817.43,198.95 1818.81,198.48 1820.37,198.14 1822.06,197.93 1823.83,197.87 1825.66,197.95 1827.49,198.18 1829.27,198.53 1830.97,199.02 1832.54,199.62 1833.94,200.33 1835.14,201.12 1836.11,201.97 1836.82,202.86 1837.26,203.78 1837.42,204.69 1835.25,227.63 1835.12,228.57 1834.68,229.46 1833.95,230.28 1832.95,231.01 1831.7,231.63 1830.24,232.13 1828.6,232.5 1826.81,232.71 1824.93,232.78 1823,232.69 1821.07,232.46 1819.19,232.08 1817.39,231.56 1815.73,230.92 1814.25,230.18 1812.98,229.35 1811.96,228.45 1811.21,227.5 1810.74,226.53" stroke="#000" stroke-width="1.3" fill="#fff"/>
<polygon points="1833.94,200.33 1835.14,201.12 1836.11,201.97 1836.82,202.86 1837.26,203.78 1837.42,204.69 1837.29,205.58 1836.87,206.43 1836.18,207.2 1835.24,207.89 1834.06,208.48 1832.67,208.95 1831.12,209.3 1829.43,209.5 1827.65,209.56 1825.83,209.48 1824,209.26 1822.21,208.9 1820.52,208.41 1818.95,207.81 1817.55,207.11 1816.35,206.32 1815.38,205.47 1814.67,204.57 1814.22,203.66 1814.07,202.74 1814.2,201.85 1814.61,201.01 1815.3,200.23 1816.25,199.54 1817.43,198.95 1818.81,198.48 1820.37,198.14 1822.06,197.93 1823.83,197.87 1825.66,197.95 1827.49,198.17 1829.27,198.53 1830.97,199.02 1832.54,199.63" stroke="#000" stroke-width="1.3" fill="#fff"/>
<polyline points="1833.71,201.5 1834.89,202.28 1835.85,203.12 1836.56,204 1836.99,204.91 1837.15,205.81 1837.02,206.69 1836.61,207.52 1835.92,208.29 1834.99,208.98 1833.82,209.56 1832.45,210.03 1830.92,210.36 1829.25,210.57 1827.49,210.63 1825.69,210.55 1823.88,210.33 1822.11,209.97 1820.44,209.49 1818.89,208.89 1817.5,208.2" stroke="#666" stroke-width="0.8" fill="none"/>
<polygon points="1655.85,217.22 1657.54,215.07 1658.06,214.67 1665.82,211.46 1666.72,211.28 1667.75,211.36 1668.65,211.69 1681.52,219.07 1682.04,219.56 1683.18,221.93 1683.18,222.44 1682.66,222.84 1673.49,226.63 1672.59,226.82 1671.56,226.73 1670.66,226.4 1656.37,218.21 1655.85,217.73" stroke="#000" stroke-width="1.2" fill="#fff"/>
<polygon points="1658.06,216.07 1657.55,215.58 1657.54,215.07 1658.06,214.67 1665.82,211.46 1666.72,211.28 1667.75,211.36 1668.65,211.69 1681.52,219.07 1682.04,219.56 1682.04,220.07 1681.53,220.47 1673.77,223.68 1672.87,223.86 1671.84,223.77 1670.94,223.45" stroke="#333" stroke-width="1" fill="#fff"/>
<polygon points="1659.01,216.14 1658.49,215.66 1658.49,215.15 1659,214.75 1665.82,211.93 1666.72,211.75 1667.75,211.83 1668.65,212.16 1680.58,218.99 1681.1,219.48 1681.1,219.99 1680.58,220.39 1673.76,223.21 1672.87,223.39 1671.83,223.31 1670.94,222.98" stroke="#999" stroke-width="0.6" fill="none"/>
<polygon points="1848.13,247.1 1848.27,246.16 1851.75,223.38 1852.17,222.54 1852.86,221.76 1853.81,221.07 1854.98,220.48 1856.37,220.01 1857.92,219.67 1859.61,219.46 1861.39,219.4 1863.21,219.48 1865.04,219.7 1866.83,220.06 1868.53,220.55 1870.09,221.15 1871.49,221.86 1872.69,222.65 1873.66,223.5 1874.38,224.39 1874.82,225.31 1874.97,226.22 1872.81,249.16 1872.67,250.1 1872.23,250.99 1871.5,251.81 1870.51,252.54 1869.26,253.16 1867.79,253.66 1866.15,254.02 1864.37,254.24 1862.49,254.31 1860.56,254.22 1858.63,253.98 1856.74,253.6 1854.95,253.09 1853.29,252.45 1851.81,251.71 1850.54,250.88 1849.52,249.98 1848.76,249.03 1848.3,248.06" stroke="#000" stroke-width="1.3" fill="#fff"/>
<polygon points="1871.5,221.86 1872.69,222.64 1873.66,223.5 1874.38,224.39 1874.82,225.31 1874.97,226.22 1874.84,227.11 1874.43,227.95 1873.74,228.73 1872.79,229.42 1871.61,230.01 1870.23,230.48 1868.67,230.83 1866.99,231.03 1865.21,231.09 1863.38,231.01 1861.55,230.79 1859.77,230.43 1858.07,229.94 1856.5,229.34 1855.1,228.63 1853.9,227.85 1852.93,227 1852.22,226.1 1851.78,225.19 1851.62,224.27 1851.75,223.38 1852.17,222.54 1852.86,221.76 1853.8,221.07 1854.98,220.48 1856.37,220.01 1857.92,219.67 1859.61,219.46 1861.39,219.4 1863.22,219.48 1865.04,219.7 1866.83,220.06 1868.52,220.55 1870.09,221.15" stroke="#000" stroke-width="1.3" fill="#fff"/>
<polyline points="1871.26,223.03 1872.45,223.8 1873.41,224.65 1874.11,225.53 1874.55,226.44 1874.7,227.34 1874.57,228.22 1874.16,229.05 1873.48,229.82 1872.55,230.51 1871.38,231.09 1870.01,231.55 1868.47,231.89 1866.8,232.09 1865.05,232.16 1863.24,232.08 1861.43,231.86 1859.67,231.5 1857.99,231.02 1856.44,230.42 1855.06,229.73" stroke="#666" stroke-width="0.8" fill="none"/>
<polyline points="2029.49,268.72 2031.09,269.75 2032.4,270.81 2033.38,271.88 2033.99,272.93 2034.24,273.94 2034.11,274.88 2033.61,275.73 2032.74,276.47 2031.54,277.07 2030.02,277.53 2028.23,277.84 2026.21,277.98 2024.02,277.95 2021.69,277.76 2019.3,277.4 2016.9,276.89 2014.55,276.24 2012.3,275.47 2010.22,274.58 2008.35,273.62 2006.75,272.59 2005.44,271.53 2004.47,270.46 2003.85,269.41 2003.6,268.4 2003.73,267.46 2004.23,266.61 2005.1,265.87 2006.3,265.27 2007.82,264.81 2009.61,264.5 2011.63,264.36 2013.83,264.39 2016.15,264.58 2018.54,264.94 2020.94,265.45 2023.3,266.1 2025.54,266.87 2027.62,267.75" stroke="#000" stroke-width="2" fill="#fff"/>
<polygon points="2003.92,268.46 2004.05,267.54 2004.37,266.19 2004.87,265.36 2005.71,264.63 2006.89,264.04 2008.38,263.59 2010.13,263.29 2012.11,263.15 2014.26,263.18 2016.53,263.37 2018.87,263.72 2021.22,264.22 2023.53,264.85 2025.72,265.61 2027.76,266.48 2029.59,267.42 2031.16,268.42 2032.44,269.46 2033.39,270.51 2034,271.54 2034.24,272.53 2034.11,273.45 2033.79,274.8 2033.3,275.63 2032.45,276.35 2031.27,276.95 2029.79,277.4 2028.04,277.7 2026.06,277.83 2023.91,277.81 2021.63,277.62 2019.29,277.27 2016.94,276.77 2014.64,276.13 2012.44,275.38 2010.41,274.51 2008.58,273.57 2007.01,272.56 2005.73,271.52 2004.77,270.48 2004.17,269.45" stroke="#000" stroke-width="1.8" fill="#fff"/>
<polygon points="2029.58,267.42 2031.16,268.42 2032.44,269.46 2033.39,270.51 2034,271.54 2034.24,272.53 2034.11,273.45 2033.62,274.28 2032.77,275 2031.59,275.59 2030.11,276.05 2028.36,276.34 2026.38,276.48 2024.23,276.46 2021.95,276.27 2019.61,275.92 2017.26,275.42 2014.96,274.78 2012.76,274.02 2010.73,273.16 2008.9,272.22 2007.33,271.21 2006.05,270.17 2005.1,269.13 2004.49,268.1 2004.25,267.11 2004.37,266.19 2004.87,265.36 2005.71,264.64 2006.89,264.04 2008.38,263.59 2010.13,263.29 2012.11,263.15 2014.26,263.18 2016.53,263.37 2018.87,263.72 2021.22,264.22 2023.52,264.85 2025.72,265.61 2027.76,266.48" stroke="#000" stroke-width="1.8" fill="#fff"/>
<polyline points="2005.93,265.99 2006.49,263.64 2015.93,261.45 2029.24,265.28 2033.12,271.3 2032.56,273.65 2023.11,275.84 2009.8,272.01" stroke="#000" stroke-width="1.6" fill="#fff"/>
<polyline points="2029.25,265.28 2033.12,271.3 2023.67,273.49 2010.36,269.66 2006.49,263.64 2015.93,261.45" stroke="#000" stroke-width="1.2" fill="#fff"/>
<polygon points="2007.74,265.29 2007.84,264.55 2008.08,263.55 2008.48,262.88 2009.16,262.3 2010.11,261.82 2011.3,261.46 2012.71,261.22 2014.3,261.11 2016.03,261.13 2017.86,261.28 2019.74,261.56 2021.63,261.96 2023.48,262.48 2025.25,263.09 2026.89,263.78 2028.36,264.54 2029.62,265.35 2030.65,266.18 2031.42,267.02 2031.91,267.85 2032.1,268.65 2032,269.39 2031.76,270.39 2031.37,271.06 2030.68,271.64 2029.74,272.11 2028.54,272.48 2027.13,272.72 2025.54,272.83 2023.81,272.81 2021.98,272.65 2020.1,272.37 2018.21,271.97 2016.36,271.46 2014.59,270.85 2012.95,270.16 2011.48,269.4 2010.22,268.59 2009.19,267.75 2008.42,266.91 2007.94,266.08" stroke="#000" stroke-width="1.4" fill="#fff"/>
<polygon points="2028.36,264.54 2029.62,265.35 2030.65,266.18 2031.42,267.02 2031.91,267.85 2032.1,268.65 2032,269.39 2031.6,270.06 2030.92,270.64 2029.97,271.11 2028.78,271.48 2027.37,271.72 2025.78,271.83 2024.05,271.81 2022.22,271.65 2020.34,271.37 2018.45,270.97 2016.6,270.46 2014.83,269.85 2013.19,269.16 2011.72,268.4 2010.46,267.59 2009.43,266.75 2008.66,265.91 2008.17,265.08 2007.98,264.29 2008.08,263.55 2008.48,262.88 2009.16,262.3 2010.11,261.82 2011.3,261.46 2012.71,261.22 2014.3,261.11 2016.03,261.13 2017.86,261.28 2019.74,261.56 2021.63,261.96 2023.48,262.48 2025.25,263.09 2026.89,263.78" stroke="#000" stroke-width="1.4" fill="#fff"/>
<polygon points="2009.28,264.52 2009.37,263.86 2010.98,257.11 2011.34,256.51 2011.94,255.99 2012.79,255.57 2013.86,255.24 2015.11,255.03 2016.53,254.93 2018.07,254.95 2019.7,255.08 2021.38,255.33 2023.07,255.69 2024.72,256.15 2026.3,256.69 2027.76,257.31 2029.07,257.99 2030.2,258.71 2031.11,259.45 2031.8,260.21 2032.23,260.94 2032.41,261.65 2032.32,262.31 2030.71,269.07 2030.35,269.67 2029.75,270.19 2028.9,270.61 2027.84,270.94 2026.58,271.15 2025.16,271.25 2023.62,271.23 2021.98,271.09 2020.31,270.84 2018.62,270.49 2016.97,270.03 2015.39,269.49 2013.93,268.87 2012.62,268.19 2011.49,267.47 2010.58,266.72 2009.89,265.97 2009.46,265.23" stroke="#000" stroke-width="1.6" fill="#fff"/>
<polygon points="2029.07,257.99 2030.2,258.71 2031.11,259.45 2031.8,260.21 2032.23,260.94 2032.41,261.65 2032.32,262.31 2031.96,262.91 2031.36,263.43 2030.51,263.85 2029.44,264.18 2028.19,264.39 2026.77,264.49 2025.23,264.47 2023.59,264.34 2021.91,264.09 2020.23,263.73 2018.58,263.27 2017,262.73 2015.54,262.11 2014.23,261.43 2013.1,260.71 2012.18,259.97 2011.5,259.21 2011.07,258.48 2010.89,257.77 2010.98,257.11 2011.34,256.51 2011.94,255.99 2012.79,255.57 2013.85,255.24 2015.11,255.03 2016.53,254.93 2018.07,254.95 2019.7,255.08 2021.38,255.33 2023.07,255.69 2024.72,256.15 2026.3,256.69 2027.76,257.31" stroke="#000" stroke-width="1.6" fill="#fff"/>
<polyline points="2028.17,258.2 2029.16,258.83 2029.97,259.49 2030.57,260.15 2030.95,260.79 2031.1,261.42 2031.02,262 2030.71,262.52 2030.18,262.98 2029.43,263.35 2028.5,263.64 2027.39,263.82 2026.15,263.91 2024.79,263.89 2023.36,263.78 2021.88,263.56 2020.4,263.24 2018.95,262.84 2017.57,262.36 2016.28,261.82 2015.13,261.22 2014.14,260.59 2013.33,259.93 2012.73,259.27 2012.35,258.62 2012.2,258 2012.28,257.42 2012.59,256.9 2013.12,256.44 2013.86,256.07 2014.8,255.78 2015.9,255.6 2017.15,255.51 2018.51,255.53 2019.94,255.64 2021.42,255.86 2022.9,256.18 2024.35,256.58 2025.73,257.06 2027.02,257.6" stroke="#000" stroke-width="1" fill="none"/>
<polygon points="2013.83,258.3 2013.89,257.82 2015.36,251.65 2015.62,251.21 2016.06,250.84 2016.67,250.53 2017.45,250.29 2018.36,250.13 2019.39,250.06 2020.52,250.08 2021.7,250.18 2022.92,250.36 2024.15,250.62 2025.35,250.95 2026.5,251.34 2027.56,251.79 2028.51,252.29 2029.34,252.81 2030,253.35 2030.5,253.9 2030.82,254.44 2030.94,254.95 2030.88,255.43 2029.41,261.6 2029.15,262.04 2028.71,262.41 2028.09,262.72 2027.32,262.96 2026.4,263.12 2025.37,263.19 2024.25,263.17 2023.06,263.07 2021.84,262.89 2020.62,262.63 2019.41,262.3 2018.27,261.9 2017.21,261.45 2016.25,260.96 2015.43,260.44 2014.77,259.89 2014.27,259.35 2013.95,258.81" stroke="#000" stroke-width="1.3" fill="#fff"/>
<polygon points="2028.51,252.29 2029.33,252.81 2030,253.35 2030.5,253.9 2030.82,254.44 2030.94,254.95 2030.88,255.43 2030.62,255.87 2030.18,256.24 2029.56,256.55 2028.79,256.79 2027.87,256.94 2026.84,257.02 2025.72,257 2024.53,256.9 2023.31,256.72 2022.09,256.46 2020.88,256.13 2019.74,255.73 2018.68,255.28 2017.72,254.79 2016.9,254.27 2016.24,253.72 2015.74,253.18 2015.42,252.64 2015.29,252.13 2015.36,251.65 2015.62,251.21 2016.06,250.84 2016.68,250.53 2017.45,250.29 2018.36,250.13 2019.39,250.06 2020.52,250.08 2021.7,250.17 2022.93,250.36 2024.15,250.62 2025.35,250.95 2026.5,251.35 2027.56,251.8" stroke="#000" stroke-width="1.3" fill="#fff"/>
<polygon points="2013.99,251.89 2014.07,251.33 2016.1,242.81 2016.4,242.3 2016.91,241.86 2017.63,241.5 2018.53,241.23 2019.6,241.04 2020.8,240.96 2022.11,240.98 2023.5,241.09 2024.92,241.31 2026.35,241.61 2027.75,242 2029.09,242.46 2030.33,242.98 2031.44,243.56 2032.4,244.17 2033.18,244.8 2033.76,245.44 2034.13,246.06 2034.28,246.67 2034.2,247.23 2032.17,255.75 2031.87,256.25 2031.35,256.69 2030.63,257.06 2029.73,257.33 2028.67,257.51 2027.46,257.6 2026.15,257.58 2024.77,257.46 2023.34,257.25 2021.91,256.95 2020.51,256.56 2019.17,256.1 2017.93,255.57 2016.82,255 2015.87,254.39 2015.09,253.76 2014.51,253.12 2014.14,252.49" stroke="#000" stroke-width="1.3" fill="#fff"/>
<polygon points="2031.44,243.56 2032.4,244.17 2033.18,244.8 2033.76,245.44 2034.13,246.07 2034.28,246.67 2034.2,247.23 2033.9,247.73 2033.38,248.17 2032.66,248.53 2031.76,248.81 2030.69,248.99 2029.49,249.07 2028.18,249.06 2026.8,248.94 2025.37,248.73 2023.94,248.43 2022.54,248.04 2021.2,247.58 2019.96,247.05 2018.85,246.48 2017.9,245.87 2017.12,245.23 2016.54,244.6 2016.17,243.97 2016.02,243.37 2016.1,242.81 2016.4,242.3 2016.91,241.86 2017.63,241.5 2018.53,241.23 2019.6,241.04 2020.8,240.96 2022.11,240.98 2023.5,241.09 2024.92,241.3 2026.35,241.61 2027.75,242 2029.09,242.46 2030.33,242.98" stroke="#333" stroke-width="1.3" fill="#fff"/>
<polyline points="2030.93,245.34 2031.88,245.94 2032.64,246.57 2033.22,247.2 2033.58,247.81 2033.72,248.41 2033.65,248.96 2033.35,249.46 2032.85,249.89 2032.14,250.25 2031.25,250.52 2030.2,250.7 2029.01,250.78 2027.72,250.76 2026.35,250.65 2024.95,250.44 2023.54,250.14 2022.16,249.76 2020.84,249.3 2019.62,248.79 2018.52,248.22" stroke="#888" stroke-width="0.9" fill="none"/>
<polygon points="2015.6,284.13 2015.99,284.4 2016.24,284.69 2016.32,284.96 2016.24,285.2 2016,285.4 2015.61,285.54 2015.1,285.61 2014.5,285.6 2013.87,285.53 2013.23,285.38 2012.63,285.18 2012.12,284.94 1981.96,267.65 1981.56,267.37 1981.32,267.09 1981.23,266.82 1981.31,266.58 1981.56,266.38 1981.95,266.24 1982.46,266.17 1983.05,266.17 1983.69,266.25 1984.33,266.39 1984.92,266.59 1985.43,266.84" stroke="#000" stroke-width="2" fill="#fff"/>
<polygon points="1813.24,316.49 1685.11,243.04 1758.61,212.65 1886.74,286.11" stroke="#000" stroke-width="1.4" fill="#fff"/>
<polygon points="1885.69,268.63 1885.83,267.69 1889.31,244.91 1889.72,244.07 1890.41,243.29 1891.36,242.6 1892.54,242.01 1893.92,241.54 1895.48,241.19 1897.17,240.99 1898.95,240.93 1900.77,241.01 1902.6,241.23 1904.38,241.59 1906.08,242.08 1907.65,242.68 1909.05,243.39 1910.25,244.17 1911.22,245.03 1911.93,245.92 1912.37,246.84 1912.53,247.75 1910.37,270.69 1910.23,271.63 1909.79,272.52 1909.06,273.34 1908.06,274.07 1906.81,274.69 1905.35,275.19 1903.71,275.55 1901.92,275.77 1900.04,275.83 1898.12,275.75 1896.18,275.51 1894.3,275.13 1892.5,274.62 1890.85,273.98 1889.37,273.24 1888.1,272.4 1887.07,271.5 1886.32,270.56 1885.85,269.59" stroke="#000" stroke-width="1.3" fill="#fff"/>
<polygon points="1909.05,243.39 1910.25,244.17 1911.22,245.02 1911.93,245.92 1912.37,246.83 1912.53,247.75 1912.4,248.64 1911.98,249.48 1911.29,250.26 1910.35,250.95 1909.17,251.54 1907.78,252.01 1906.23,252.35 1904.54,252.56 1902.76,252.62 1900.94,252.54 1899.11,252.32 1897.33,251.96 1895.63,251.47 1894.06,250.87 1892.66,250.16 1891.46,249.38 1890.49,248.52 1889.78,247.63 1889.34,246.71 1889.18,245.8 1889.31,244.91 1889.73,244.07 1890.41,243.29 1891.36,242.6 1892.54,242.01 1893.92,241.54 1895.48,241.19 1897.17,240.99 1898.95,240.93 1900.77,241.01 1902.6,241.23 1904.38,241.59 1906.08,242.08 1907.65,242.68" stroke="#000" stroke-width="1.3" fill="#fff"/>
<polyline points="1908.82,244.55 1910,245.33 1910.96,246.17 1911.67,247.06 1912.1,247.96 1912.26,248.87 1912.13,249.75 1911.72,250.58 1911.04,251.35 1910.1,252.03 1908.93,252.62 1907.57,253.08 1906.03,253.42 1904.36,253.62 1902.6,253.69 1900.8,253.6 1898.99,253.38 1897.23,253.03 1895.55,252.55 1894,251.95 1892.61,251.25" stroke="#666" stroke-width="0.8" fill="none"/>
<polygon points="1955.28,316.27 1955.83,316.63 1956.27,317.01 1956.59,317.42 1956.79,317.84 1956.86,318.25 1956.81,318.66 1956.62,319.04 1956.3,319.39 1955.87,319.71 1955.34,319.97 1954.71,320.19 1954,320.34 1953.23,320.44 1952.43,320.47 1951.6,320.43 1950.77,320.33 1949.95,320.16 1949.18,319.94 1948.47,319.67 1947.83,319.35 1947.29,318.99 1946.85,318.6 1946.52,318.2 1946.32,317.78 1946.25,317.37 1946.31,316.96 1946.5,316.58 1946.81,316.22 1947.24,315.91 1947.78,315.64 1948.41,315.43 1949.11,315.27 1949.88,315.18 1950.69,315.15 1951.52,315.19 1952.35,315.29 1953.16,315.45 1953.93,315.67 1954.65,315.95" stroke="#000" stroke-width="2.6" fill="#fff"/>
<polygon points="1953.23,317.11 1953.48,317.28 1953.68,317.45 1953.82,317.63 1953.91,317.82 1953.95,318.01 1953.92,318.19 1953.83,318.36 1953.69,318.52 1953.5,318.66 1953.26,318.78 1952.98,318.88 1952.66,318.95 1952.31,318.99 1951.95,319 1951.57,318.99 1951.2,318.94 1950.84,318.87 1950.49,318.77 1950.17,318.64 1949.88,318.5 1949.64,318.34 1949.44,318.17 1949.29,317.98 1949.2,317.8 1949.17,317.61 1949.2,317.43 1949.28,317.25 1949.42,317.09 1949.62,316.95 1949.86,316.83 1950.14,316.74 1950.46,316.67 1950.8,316.62 1951.17,316.61 1951.54,316.63 1951.91,316.67 1952.28,316.75 1952.63,316.85 1952.95,316.97" stroke="#000" stroke-width="1.2" fill="#000"/>
<polygon points="1952.12,317.58 1952.2,317.63 1952.26,317.69 1952.31,317.75 1952.34,317.81 1952.35,317.87 1952.34,317.93 1952.32,317.99 1952.27,318.05 1952.21,318.09 1952.12,318.13 1952.03,318.16 1951.92,318.19 1951.81,318.2 1951.69,318.21 1951.56,318.2 1951.44,318.19 1951.32,318.16 1951.2,318.13 1951.09,318.09 1951,318.04 1950.92,317.99 1950.85,317.93 1950.8,317.87 1950.77,317.8 1950.76,317.74 1950.77,317.68 1950.8,317.62 1950.85,317.57 1950.91,317.52 1950.99,317.48 1951.09,317.45 1951.19,317.43 1951.31,317.41 1951.43,317.41 1951.55,317.41 1951.68,317.43 1951.8,317.45 1951.91,317.49 1952.02,317.53" stroke="#fff" stroke-width="0.5" fill="#fff"/>
<polygon points="1878.52,316.68 1878.66,315.74 1882.14,292.97 1882.56,292.12 1883.25,291.35 1884.19,290.65 1885.37,290.07 1886.76,289.6 1888.31,289.25 1890,289.05 1891.78,288.99 1893.6,289.07 1895.43,289.29 1897.21,289.65 1898.91,290.14 1900.48,290.74 1901.88,291.44 1903.08,292.23 1904.05,293.08 1904.76,293.98 1905.2,294.89 1905.36,295.81 1903.2,318.74 1903.06,319.68 1902.62,320.58 1901.89,321.4 1900.89,322.13 1899.64,322.75 1898.18,323.25 1896.54,323.61 1894.76,323.83 1892.88,323.89 1890.95,323.81 1889.02,323.57 1887.13,323.19 1885.34,322.68 1883.68,322.04 1882.2,321.29 1880.93,320.46 1879.9,319.56 1879.15,318.62 1878.69,317.65" stroke="#000" stroke-width="1.3" fill="#fff"/>
<polygon points="1901.88,291.44 1903.08,292.23 1904.05,293.08 1904.76,293.98 1905.2,294.89 1905.36,295.81 1905.23,296.7 1904.82,297.54 1904.13,298.32 1903.18,299.01 1902,299.6 1900.62,300.07 1899.06,300.41 1897.37,300.62 1895.59,300.68 1893.77,300.6 1891.94,300.38 1890.16,300.02 1888.46,299.53 1886.89,298.92 1885.49,298.22 1884.29,297.43 1883.32,296.58 1882.61,295.69 1882.17,294.77 1882.01,293.86 1882.14,292.97 1882.56,292.12 1883.25,291.35 1884.19,290.66 1885.37,290.07 1886.76,289.6 1888.31,289.25 1890,289.05 1891.78,288.99 1893.6,289.07 1895.43,289.29 1897.21,289.65 1898.91,290.14 1900.48,290.74" stroke="#000" stroke-width="1.3" fill="#fff"/>
<polyline points="1901.65,292.61 1902.84,293.39 1903.79,294.23 1904.5,295.12 1904.93,296.02 1905.09,296.93 1904.96,297.81 1904.55,298.64 1903.87,299.41 1902.93,300.09 1901.77,300.67 1900.4,301.14 1898.86,301.48 1897.19,301.68 1895.43,301.74 1893.63,301.66 1891.82,301.44 1890.06,301.09 1888.38,300.6 1886.83,300.01 1885.44,299.31" stroke="#666" stroke-width="0.8" fill="none"/>
<circle cx="1887.08" cy="294.29" r="1.4" stroke="#000" stroke-width="0.6" fill="#000"/>
<polygon points="1876.26,348.94 1876.8,349.3 1877.24,349.68 1877.57,350.09 1877.77,350.51 1877.84,350.92 1877.78,351.33 1877.59,351.71 1877.28,352.06 1876.85,352.38 1876.31,352.64 1875.68,352.86 1874.97,353.01 1874.21,353.11 1873.4,353.14 1872.57,353.1 1871.74,353 1870.93,352.83 1870.15,352.61 1869.44,352.34 1868.8,352.02 1868.26,351.66 1867.82,351.27 1867.5,350.87 1867.29,350.45 1867.22,350.04 1867.28,349.63 1867.47,349.25 1867.78,348.89 1868.21,348.58 1868.75,348.31 1869.38,348.1 1870.09,347.94 1870.85,347.85 1871.66,347.82 1872.49,347.86 1873.32,347.96 1874.13,348.12 1874.91,348.34 1875.62,348.62" stroke="#000" stroke-width="2.6" fill="#fff"/>
<polygon points="1874.21,349.79 1874.45,349.95 1874.65,350.12 1874.8,350.3 1874.89,350.49 1874.92,350.68 1874.89,350.86 1874.81,351.03 1874.67,351.19 1874.47,351.33 1874.23,351.45 1873.95,351.55 1873.63,351.62 1873.28,351.66 1872.92,351.67 1872.55,351.66 1872.17,351.61 1871.81,351.54 1871.46,351.44 1871.14,351.32 1870.85,351.17 1870.61,351.01 1870.41,350.84 1870.26,350.65 1870.17,350.47 1870.14,350.28 1870.17,350.1 1870.25,349.92 1870.39,349.77 1870.59,349.62 1870.83,349.5 1871.11,349.41 1871.43,349.34 1871.78,349.3 1872.14,349.28 1872.51,349.3 1872.89,349.34 1873.25,349.42 1873.6,349.52 1873.92,349.64" stroke="#000" stroke-width="1.2" fill="#000"/>
<polygon points="1873.09,350.25 1873.17,350.3 1873.24,350.36 1873.29,350.42 1873.32,350.48 1873.33,350.54 1873.32,350.61 1873.29,350.66 1873.24,350.72 1873.18,350.76 1873.1,350.8 1873,350.84 1872.9,350.86 1872.78,350.87 1872.66,350.88 1872.54,350.87 1872.41,350.86 1872.29,350.83 1872.17,350.8 1872.07,350.76 1871.97,350.71 1871.89,350.66 1871.82,350.6 1871.78,350.54 1871.75,350.47 1871.73,350.41 1871.74,350.35 1871.77,350.29 1871.82,350.24 1871.88,350.19 1871.96,350.15 1872.06,350.12 1872.16,350.1 1872.28,350.08 1872.4,350.08 1872.52,350.09 1872.65,350.1 1872.77,350.13 1872.89,350.16 1872.99,350.2" stroke="#fff" stroke-width="0.5" fill="#fff"/>
<polyline points="1544.41,247.68 1547.45,236.93 1552.63,233.96 1563.69,236.96 1571.72,250.7 1568.68,261.44 1563.5,264.42 1552.43,261.42" stroke="#000" stroke-width="1.2" fill="#e4e4e4"/>
<polyline points="1558.52,239.93 1566.54,253.67 1563.5,264.42 1552.43,261.42 1544.41,247.68 1547.45,236.93" stroke="#000" stroke-width="1" fill="#fff"/>
<polyline points="1558.18,241.13 1565.3,253.34 1562.6,262.88 1552.77,260.22 1545.64,248.01 1548.35,238.47" stroke="#888" stroke-width="0.8" fill="none"/>
<polygon points="1546.04,248.5 1546.12,247.39 1546.37,246.39 1546.78,245.54 1547.33,244.85 1548.01,244.35 1550.83,242.73 1551.63,242.42 1552.52,242.31 1553.48,242.42 1554.49,242.72 1555.52,243.22 1556.56,243.91 1557.57,244.76 1558.52,245.76 1559.4,246.88 1560.19,248.09 1560.85,249.36 1561.39,250.67 1561.78,251.98 1562.01,253.25 1562.09,254.47 1562,255.59 1561.75,256.58 1561.35,257.44 1560.8,258.12 1560.12,258.62 1557.29,260.25 1556.5,260.55 1555.61,260.66 1554.65,260.55 1553.63,260.25 1552.6,259.75 1551.57,259.06 1550.56,258.21 1549.6,257.21 1548.72,256.1 1547.94,254.88 1547.27,253.61 1546.73,252.3 1546.34,250.99 1546.11,249.72" stroke="#000" stroke-width="1.2" fill="#fff"/>
<polygon points="1552.7,244.85 1553.73,245.53 1554.74,246.38 1555.7,247.38 1556.58,248.5 1557.36,249.71 1558.03,250.98 1558.56,252.29 1558.95,253.6 1559.19,254.88 1559.26,256.09 1559.17,257.21 1558.92,258.2 1558.52,259.06 1557.97,259.74 1557.29,260.25 1556.5,260.55 1555.61,260.66 1554.65,260.55 1553.64,260.25 1552.6,259.75 1551.57,259.06 1550.56,258.21 1549.6,257.21 1548.72,256.1 1547.94,254.88 1547.27,253.61 1546.73,252.3 1546.34,250.99 1546.11,249.72 1546.04,248.51 1546.12,247.39 1546.37,246.39 1546.78,245.54 1547.33,244.85 1548.01,244.35 1548.8,244.04 1549.69,243.94 1550.65,244.04 1551.66,244.34" stroke="#000" stroke-width="1.2" fill="#fff"/>
<polyline points="1552.68,246.87 1553.44,247.37 1554.17,247.99 1554.87,248.71 1555.51,249.53 1556.08,250.41 1556.57,251.34 1556.96,252.29 1557.24,253.25 1557.41,254.18 1557.47,255.06 1557.4,255.87 1557.22,256.6 1556.93,257.22 1556.53,257.72 1556.03,258.09 1555.45,258.31 1554.8,258.39 1554.1,258.31 1553.37,258.09 1552.61,257.72 1551.86,257.23 1551.13,256.61 1550.43,255.88 1549.79,255.06 1549.22,254.18 1548.73,253.25 1548.34,252.3 1548.06,251.35 1547.88,250.42 1547.83,249.53 1547.9,248.72 1548.08,247.99 1548.37,247.37 1548.77,246.87 1549.27,246.5 1549.85,246.28 1550.49,246.21 1551.19,246.28 1551.93,246.5" stroke="#8a8a8a" stroke-width="6" fill="#fff"/>
<polyline points="1552.7,245.06 1553.7,245.72 1554.68,246.55 1555.61,247.52 1556.46,248.61 1557.23,249.78 1557.87,251.02 1558.4,252.29 1558.77,253.56 1559,254.8 1559.07,255.98 1558.99,257.07 1558.74,258.04 1558.35,258.86 1557.82,259.53 1557.16,260.02 1556.39,260.32 1555.52,260.42 1554.59,260.32 1553.61,260.02 1552.6,259.53 1551.6,258.87 1550.62,258.04 1549.69,257.07 1548.83,255.99 1548.07,254.81 1547.42,253.57 1546.9,252.3 1546.52,251.03 1546.3,249.79 1546.22,248.61 1546.31,247.53 1546.55,246.56 1546.95,245.73 1547.48,245.06 1548.14,244.57 1548.91,244.28 1549.77,244.18 1550.71,244.27 1551.69,244.57" stroke="#222" stroke-width="1" fill="none"/>
<polyline points="1552.67,248.68 1553.18,249.01 1553.66,249.42 1554.13,249.91 1554.56,250.45 1554.94,251.04 1555.26,251.66 1555.52,252.29 1555.71,252.93 1555.83,253.55 1555.86,254.14 1555.82,254.68 1555.7,255.17 1555.5,255.58 1555.23,255.91 1554.9,256.16 1554.52,256.31 1554.09,256.36 1553.62,256.31 1553.13,256.16 1552.63,255.92 1552.12,255.58 1551.63,255.17 1551.17,254.68 1550.74,254.14 1550.36,253.55 1550.04,252.93 1549.78,252.3 1549.59,251.66 1549.47,251.04 1549.44,250.45 1549.48,249.91 1549.6,249.43 1549.8,249.01 1550.06,248.68 1550.39,248.44 1550.78,248.29 1551.21,248.24 1551.68,248.29 1552.17,248.43" stroke="#222" stroke-width="1.2" fill="#fff"/>
<polyline points="1569.42,262.02 1572.46,251.27 1577.64,248.3 1588.71,251.3 1596.73,265.04 1593.69,275.78 1588.51,278.75 1577.45,275.76" stroke="#000" stroke-width="1.2" fill="#e4e4e4"/>
<polyline points="1583.53,254.27 1591.55,268.01 1588.51,278.75 1577.45,275.76 1569.42,262.02 1572.46,251.27" stroke="#000" stroke-width="1" fill="#fff"/>
<polyline points="1583.19,255.47 1590.32,267.68 1587.62,277.22 1577.79,274.56 1570.66,262.35 1573.36,252.81" stroke="#888" stroke-width="0.8" fill="none"/>
<polygon points="1571.05,262.84 1571.14,261.73 1571.39,260.73 1571.79,259.88 1572.34,259.19 1573.02,258.69 1575.85,257.06 1576.64,256.76 1577.53,256.65 1578.49,256.76 1579.5,257.06 1580.54,257.56 1581.57,258.25 1582.58,259.1 1583.53,260.1 1584.41,261.21 1585.2,262.43 1585.87,263.7 1586.4,265.01 1586.79,266.32 1587.03,267.59 1587.1,268.81 1587.01,269.92 1586.76,270.92 1586.36,271.77 1585.81,272.46 1585.13,272.96 1582.31,274.58 1581.51,274.89 1580.62,275 1579.66,274.89 1578.65,274.59 1577.61,274.09 1576.58,273.4 1575.57,272.55 1574.62,271.55 1573.74,270.44 1572.95,269.22 1572.28,267.95 1571.75,266.64 1571.36,265.33 1571.12,264.06" stroke="#000" stroke-width="1.2" fill="#fff"/>
<polygon points="1577.71,259.18 1578.75,259.87 1579.75,260.72 1580.71,261.72 1581.59,262.84 1582.37,264.05 1583.04,265.32 1583.58,266.63 1583.97,267.94 1584.2,269.21 1584.28,270.43 1584.19,271.55 1583.94,272.54 1583.53,273.4 1582.98,274.08 1582.3,274.58 1581.51,274.89 1580.62,275 1579.66,274.89 1578.65,274.59 1577.61,274.09 1576.58,273.4 1575.57,272.55 1574.62,271.55 1573.74,270.43 1572.95,269.22 1572.28,267.95 1571.75,266.64 1571.36,265.33 1571.12,264.06 1571.05,262.84 1571.14,261.73 1571.39,260.73 1571.79,259.87 1572.34,259.19 1573.02,258.69 1573.81,258.38 1574.7,258.28 1575.67,258.38 1576.68,258.68" stroke="#000" stroke-width="1.2" fill="#fff"/>
<polyline points="1577.7,261.21 1578.45,261.71 1579.19,262.33 1579.88,263.05 1580.52,263.87 1581.1,264.75 1581.58,265.68 1581.97,266.63 1582.26,267.58 1582.43,268.51 1582.48,269.4 1582.42,270.21 1582.23,270.94 1581.94,271.56 1581.54,272.06 1581.04,272.43 1580.47,272.65 1579.82,272.73 1579.12,272.65 1578.38,272.43 1577.63,272.06 1576.87,271.56 1576.14,270.94 1575.44,270.22 1574.8,269.4 1574.23,268.52 1573.74,267.59 1573.35,266.64 1573.07,265.69 1572.9,264.76 1572.84,263.87 1572.91,263.06 1573.09,262.33 1573.39,261.71 1573.79,261.21 1574.28,260.84 1574.86,260.62 1575.51,260.54 1576.21,260.62 1576.94,260.84" stroke="#8a8a8a" stroke-width="6" fill="#fff"/>
<polyline points="1577.71,259.4 1578.71,260.06 1579.69,260.89 1580.62,261.86 1581.48,262.94 1582.24,264.12 1582.89,265.36 1583.41,266.63 1583.79,267.9 1584.02,269.14 1584.09,270.32 1584,271.41 1583.76,272.37 1583.37,273.2 1582.83,273.87 1582.17,274.36 1581.4,274.66 1580.54,274.76 1579.6,274.66 1578.62,274.36 1577.62,273.87 1576.61,273.21 1575.63,272.38 1574.7,271.41 1573.85,270.33 1573.09,269.15 1572.44,267.91 1571.92,266.64 1571.54,265.37 1571.31,264.13 1571.24,262.95 1571.32,261.87 1571.57,260.9 1571.96,260.07 1572.49,259.4 1573.15,258.91 1573.92,258.61 1574.79,258.51 1575.72,258.61 1576.7,258.91" stroke="#222" stroke-width="1" fill="none"/>
<polyline points="1577.69,263.02 1578.19,263.35 1578.68,263.76 1579.14,264.25 1579.57,264.79 1579.95,265.38 1580.28,266 1580.54,266.63 1580.73,267.27 1580.84,267.89 1580.88,268.48 1580.83,269.02 1580.71,269.5 1580.51,269.92 1580.25,270.25 1579.92,270.5 1579.53,270.65 1579.1,270.7 1578.63,270.65 1578.14,270.5 1577.64,270.25 1577.14,269.92 1576.65,269.51 1576.18,269.02 1575.76,268.48 1575.37,267.89 1575.05,267.27 1574.79,266.64 1574.6,266 1574.49,265.38 1574.45,264.79 1574.49,264.25 1574.61,263.77 1574.81,263.35 1575.08,263.02 1575.41,262.77 1575.79,262.63 1576.23,262.57 1576.69,262.62 1577.18,262.77" stroke="#222" stroke-width="1.2" fill="#fff"/>
<polyline points="1594.37,276.32 1597.41,265.57 1602.59,262.6 1613.65,265.6 1621.67,279.34 1618.63,290.08 1613.45,293.05 1602.39,290.06" stroke="#000" stroke-width="1.2" fill="#e4e4e4"/>
<polyline points="1608.47,268.57 1616.5,282.31 1613.45,293.05 1602.39,290.06 1594.37,276.32 1597.41,265.57" stroke="#000" stroke-width="1" fill="#fff"/>
<polyline points="1608.13,269.77 1615.26,281.97 1612.56,291.52 1602.73,288.86 1595.6,276.65 1598.3,267.1" stroke="#888" stroke-width="0.8" fill="none"/>
<polygon points="1595.99,277.14 1596.08,276.02 1596.33,275.02 1596.73,274.17 1597.28,273.49 1597.96,272.98 1600.79,271.36 1601.58,271.06 1602.47,270.95 1603.43,271.06 1604.44,271.36 1605.48,271.86 1606.51,272.55 1607.52,273.4 1608.48,274.39 1609.36,275.51 1610.14,276.73 1610.81,278 1611.35,279.31 1611.74,280.62 1611.97,281.89 1612.04,283.1 1611.95,284.22 1611.71,285.22 1611.3,286.07 1610.75,286.76 1610.07,287.26 1607.25,288.88 1606.45,289.19 1605.56,289.29 1604.6,289.19 1603.59,288.89 1602.56,288.38 1601.52,287.7 1600.52,286.85 1599.56,285.85 1598.68,284.73 1597.89,283.52 1597.23,282.25 1596.69,280.94 1596.3,279.63 1596.07,278.36" stroke="#000" stroke-width="1.2" fill="#fff"/>
<polygon points="1602.65,273.48 1603.69,274.17 1604.7,275.02 1605.65,276.02 1606.53,277.13 1607.32,278.35 1607.98,279.62 1608.52,280.93 1608.91,282.24 1609.15,283.51 1609.22,284.72 1609.13,285.84 1608.88,286.84 1608.48,287.69 1607.93,288.38 1607.25,288.88 1606.45,289.19 1605.56,289.29 1604.6,289.19 1603.59,288.89 1602.56,288.38 1601.52,287.7 1600.52,286.85 1599.56,285.85 1598.68,284.73 1597.89,283.52 1597.23,282.25 1596.69,280.94 1596.3,279.63 1596.07,278.35 1595.99,277.14 1596.08,276.02 1596.33,275.03 1596.73,274.17 1597.28,273.49 1597.96,272.98 1598.76,272.68 1599.65,272.57 1600.61,272.68 1601.62,272.98" stroke="#000" stroke-width="1.2" fill="#fff"/>
<polyline points="1602.64,275.51 1603.39,276 1604.13,276.62 1604.82,277.35 1605.47,278.17 1606.04,279.05 1606.52,279.98 1606.91,280.93 1607.2,281.88 1607.37,282.81 1607.42,283.7 1607.36,284.51 1607.18,285.24 1606.88,285.86 1606.48,286.36 1605.99,286.73 1605.41,286.95 1604.76,287.02 1604.06,286.95 1603.32,286.73 1602.57,286.36 1601.82,285.86 1601.08,285.24 1600.39,284.52 1599.74,283.7 1599.17,282.82 1598.69,281.89 1598.3,280.94 1598.01,279.98 1597.84,279.05 1597.79,278.17 1597.85,277.36 1598.03,276.63 1598.33,276.01 1598.73,275.51 1599.22,275.14 1599.8,274.92 1600.45,274.84 1601.15,274.92 1601.89,275.14" stroke="#8a8a8a" stroke-width="6" fill="#fff"/>
<polyline points="1602.65,273.7 1603.66,274.36 1604.64,275.19 1605.56,276.16 1606.42,277.24 1607.18,278.42 1607.83,279.66 1608.35,280.93 1608.73,282.2 1608.96,283.44 1609.03,284.62 1608.94,285.7 1608.7,286.67 1608.31,287.5 1607.78,288.17 1607.11,288.66 1606.34,288.95 1605.48,289.05 1604.55,288.96 1603.56,288.66 1602.56,288.17 1601.55,287.51 1600.57,286.68 1599.65,285.71 1598.79,284.62 1598.03,283.45 1597.38,282.21 1596.86,280.94 1596.48,279.67 1596.25,278.43 1596.18,277.25 1596.27,276.16 1596.51,275.19 1596.9,274.37 1597.44,273.7 1598.1,273.21 1598.87,272.91 1599.73,272.81 1600.67,272.91 1601.65,273.21" stroke="#222" stroke-width="1" fill="none"/>
<polyline points="1602.63,277.31 1603.13,277.65 1603.62,278.06 1604.08,278.54 1604.51,279.09 1604.89,279.68 1605.22,280.3 1605.48,280.93 1605.67,281.57 1605.78,282.19 1605.82,282.77 1605.77,283.32 1605.65,283.8 1605.46,284.22 1605.19,284.55 1604.86,284.79 1604.47,284.94 1604.04,284.99 1603.58,284.94 1603.08,284.8 1602.58,284.55 1602.08,284.22 1601.59,283.81 1601.13,283.32 1600.7,282.78 1600.32,282.19 1599.99,281.57 1599.73,280.94 1599.54,280.3 1599.43,279.68 1599.39,279.09 1599.44,278.55 1599.56,278.06 1599.75,277.65 1600.02,277.32 1600.35,277.07 1600.74,276.92 1601.17,276.87 1601.64,276.92 1602.13,277.07" stroke="#222" stroke-width="1.2" fill="#fff"/>
<polyline points="1619.36,290.64 1622.4,279.9 1627.58,276.92 1638.64,279.92 1646.66,293.66 1643.62,304.41 1638.44,307.38 1627.38,304.38" stroke="#000" stroke-width="1.2" fill="#e4e4e4"/>
<polyline points="1633.46,282.89 1641.49,296.63 1638.44,307.38 1627.38,304.38 1619.36,290.64 1622.4,279.9" stroke="#000" stroke-width="1" fill="#fff"/>
<polyline points="1633.12,284.09 1640.25,296.3 1637.55,305.85 1627.72,303.18 1620.59,290.98 1623.29,281.43" stroke="#888" stroke-width="0.8" fill="none"/>
<polygon points="1620.98,291.47 1621.07,290.35 1621.32,289.35 1621.72,288.5 1622.27,287.81 1622.95,287.31 1625.78,285.69 1626.57,285.38 1627.46,285.28 1628.42,285.38 1629.43,285.69 1630.47,286.19 1631.5,286.87 1632.51,287.72 1633.47,288.72 1634.35,289.84 1635.13,291.05 1635.8,292.32 1636.34,293.63 1636.73,294.94 1636.96,296.22 1637.03,297.43 1636.94,298.55 1636.7,299.55 1636.29,300.4 1635.74,301.08 1635.06,301.59 1632.24,303.21 1631.44,303.51 1630.55,303.62 1629.59,303.52 1628.58,303.21 1627.55,302.71 1626.51,302.02 1625.51,301.17 1624.55,300.18 1623.67,299.06 1622.88,297.85 1622.22,296.57 1621.68,295.26 1621.29,293.96 1621.06,292.68" stroke="#000" stroke-width="1.2" fill="#fff"/>
<polygon points="1627.64,287.81 1628.68,288.49 1629.69,289.34 1630.64,290.34 1631.52,291.46 1632.31,292.67 1632.97,293.95 1633.51,295.25 1633.9,296.56 1634.14,297.84 1634.21,299.05 1634.12,300.17 1633.87,301.17 1633.47,302.02 1632.92,302.71 1632.24,303.21 1631.44,303.52 1630.55,303.62 1629.59,303.52 1628.58,303.21 1627.55,302.71 1626.51,302.02 1625.51,301.17 1624.55,300.18 1623.67,299.06 1622.88,297.85 1622.22,296.57 1621.68,295.26 1621.29,293.96 1621.06,292.68 1620.98,291.47 1621.07,290.35 1621.32,289.35 1621.72,288.5 1622.27,287.81 1622.95,287.31 1623.75,287 1624.64,286.9 1625.6,287 1626.61,287.31" stroke="#000" stroke-width="1.2" fill="#fff"/>
<polyline points="1627.63,289.83 1628.38,290.33 1629.12,290.95 1629.81,291.68 1630.46,292.49 1631.03,293.37 1631.51,294.3 1631.9,295.26 1632.19,296.21 1632.36,297.14 1632.41,298.02 1632.35,298.84 1632.17,299.56 1631.87,300.18 1631.47,300.68 1630.98,301.05 1630.4,301.27 1629.75,301.35 1629.05,301.28 1628.31,301.05 1627.56,300.69 1626.81,300.19 1626.07,299.57 1625.38,298.84 1624.73,298.03 1624.16,297.14 1623.68,296.21 1623.29,295.26 1623,294.31 1622.83,293.38 1622.78,292.5 1622.84,291.68 1623.02,290.95 1623.32,290.33 1623.72,289.83 1624.21,289.47 1624.79,289.24 1625.44,289.17 1626.14,289.24 1626.88,289.47" stroke="#8a8a8a" stroke-width="6" fill="#fff"/>
<polyline points="1627.64,288.02 1628.65,288.69 1629.63,289.51 1630.55,290.48 1631.41,291.57 1632.17,292.75 1632.82,293.98 1633.34,295.25 1633.72,296.52 1633.95,297.76 1634.02,298.94 1633.93,300.03 1633.69,301 1633.3,301.83 1632.77,302.49 1632.1,302.98 1631.33,303.28 1630.47,303.38 1629.54,303.28 1628.55,302.98 1627.55,302.5 1626.54,301.83 1625.56,301 1624.64,300.04 1623.78,298.95 1623.02,297.77 1622.37,296.53 1621.85,295.26 1621.47,293.99 1621.24,292.75 1621.17,291.58 1621.26,290.49 1621.5,289.52 1621.89,288.69 1622.43,288.02 1623.09,287.54 1623.86,287.24 1624.72,287.14 1625.66,287.24 1626.64,287.53" stroke="#222" stroke-width="1" fill="none"/>
<polyline points="1627.62,291.64 1628.12,291.97 1628.61,292.39 1629.07,292.87 1629.5,293.41 1629.88,294 1630.21,294.62 1630.47,295.26 1630.66,295.89 1630.77,296.51 1630.81,297.1 1630.76,297.64 1630.64,298.13 1630.45,298.54 1630.18,298.88 1629.85,299.12 1629.46,299.27 1629.03,299.32 1628.57,299.27 1628.07,299.12 1627.57,298.88 1627.07,298.55 1626.58,298.13 1626.12,297.65 1625.69,297.1 1625.31,296.52 1624.98,295.9 1624.72,295.26 1624.53,294.63 1624.42,294.01 1624.38,293.42 1624.43,292.87 1624.55,292.39 1624.74,291.98 1625.01,291.64 1625.34,291.4 1625.73,291.25 1626.16,291.2 1626.63,291.25 1627.12,291.4" stroke="#222" stroke-width="1.2" fill="#fff"/>
<polyline points="1644.35,304.97 1647.39,294.22 1652.57,291.25 1663.63,294.25 1671.65,307.99 1668.61,318.73 1663.43,321.7 1652.37,318.71" stroke="#000" stroke-width="1.2" fill="#e4e4e4"/>
<polyline points="1658.45,297.22 1666.48,310.96 1663.43,321.7 1652.37,318.71 1644.35,304.97 1647.39,294.22" stroke="#000" stroke-width="1" fill="#fff"/>
<polyline points="1658.11,298.42 1665.24,310.63 1662.54,320.17 1652.71,317.51 1645.58,305.3 1648.28,295.76" stroke="#888" stroke-width="0.8" fill="none"/>
<polygon points="1645.97,305.79 1646.06,304.67 1646.31,303.68 1646.71,302.82 1647.26,302.14 1647.94,301.63 1650.77,300.01 1651.56,299.71 1652.45,299.6 1653.41,299.7 1654.42,300.01 1655.46,300.51 1656.49,301.2 1657.5,302.05 1658.46,303.05 1659.34,304.16 1660.12,305.38 1660.79,306.65 1661.33,307.96 1661.72,309.27 1661.95,310.54 1662.02,311.75 1661.93,312.87 1661.69,313.87 1661.28,314.72 1660.73,315.41 1660.05,315.91 1657.23,317.53 1656.43,317.84 1655.54,317.94 1654.58,317.84 1653.57,317.54 1652.54,317.04 1651.5,316.35 1650.49,315.5 1649.54,314.5 1648.66,313.38 1647.87,312.17 1647.21,310.9 1646.67,309.59 1646.28,308.28 1646.05,307" stroke="#000" stroke-width="1.2" fill="#fff"/>
<polygon points="1652.63,302.13 1653.67,302.82 1654.68,303.67 1655.63,304.67 1656.51,305.78 1657.3,307 1657.96,308.27 1658.5,309.58 1658.89,310.89 1659.13,312.16 1659.2,313.38 1659.11,314.49 1658.86,315.49 1658.46,316.34 1657.91,317.03 1657.23,317.53 1656.43,317.84 1655.54,317.94 1654.58,317.84 1653.57,317.54 1652.54,317.03 1651.5,316.35 1650.5,315.5 1649.54,314.5 1648.66,313.38 1647.87,312.17 1647.21,310.9 1646.67,309.59 1646.28,308.28 1646.05,307.01 1645.97,305.79 1646.06,304.67 1646.31,303.68 1646.71,302.82 1647.26,302.14 1647.94,301.63 1648.74,301.33 1649.63,301.22 1650.59,301.33 1651.6,301.63" stroke="#000" stroke-width="1.2" fill="#fff"/>
<polyline points="1652.62,304.16 1653.37,304.65 1654.11,305.27 1654.8,306 1655.45,306.82 1656.02,307.7 1656.5,308.63 1656.89,309.58 1657.18,310.53 1657.35,311.46 1657.4,312.35 1657.34,313.16 1657.16,313.89 1656.86,314.51 1656.46,315.01 1655.97,315.38 1655.39,315.6 1654.74,315.67 1654.04,315.6 1653.3,315.38 1652.55,315.01 1651.8,314.51 1651.06,313.89 1650.37,313.17 1649.72,312.35 1649.15,311.47 1648.67,310.54 1648.28,309.59 1647.99,308.63 1647.82,307.71 1647.77,306.82 1647.83,306.01 1648.01,305.28 1648.31,304.66 1648.71,304.16 1649.2,303.79 1649.78,303.57 1650.43,303.49 1651.13,303.57 1651.87,303.79" stroke="#8a8a8a" stroke-width="6" fill="#fff"/>
<polyline points="1652.63,302.35 1653.64,303.01 1654.62,303.84 1655.54,304.81 1656.4,305.89 1657.16,307.07 1657.81,308.31 1658.33,309.58 1658.71,310.85 1658.94,312.09 1659.01,313.27 1658.92,314.35 1658.68,315.32 1658.29,316.15 1657.76,316.82 1657.09,317.31 1656.32,317.6 1655.46,317.71 1654.53,317.61 1653.54,317.31 1652.54,316.82 1651.53,316.16 1650.55,315.33 1649.63,314.36 1648.77,313.27 1648.01,312.1 1647.36,310.86 1646.84,309.59 1646.46,308.32 1646.23,307.08 1646.16,305.9 1646.25,304.81 1646.49,303.84 1646.88,303.02 1647.42,302.35 1648.08,301.86 1648.85,301.56 1649.71,301.46 1650.65,301.56 1651.63,301.86" stroke="#222" stroke-width="1" fill="none"/>
<polyline points="1652.61,305.97 1653.11,306.3 1653.6,306.71 1654.06,307.2 1654.49,307.74 1654.87,308.33 1655.2,308.95 1655.46,309.58 1655.65,310.22 1655.76,310.84 1655.8,311.43 1655.75,311.97 1655.63,312.45 1655.44,312.87 1655.17,313.2 1654.84,313.45 1654.45,313.59 1654.02,313.64 1653.56,313.59 1653.06,313.45 1652.56,313.2 1652.06,312.87 1651.57,312.46 1651.11,311.97 1650.68,311.43 1650.3,310.84 1649.97,310.22 1649.71,309.59 1649.52,308.95 1649.41,308.33 1649.37,307.74 1649.42,307.2 1649.54,306.71 1649.73,306.3 1650,305.97 1650.33,305.72 1650.72,305.57 1651.15,305.52 1651.62,305.57 1652.11,305.72" stroke="#222" stroke-width="1.2" fill="#fff"/>
<polyline points="1681.37,318.18 1682,318.6 1682.62,319.13 1683.21,319.74 1683.75,320.43 1684.23,321.17 1684.64,321.95 1684.97,322.76 1685.21,323.56 1685.36,324.34 1685.4,325.09 1685.35,325.78 1685.19,326.39 1684.94,326.91 1684.61,327.33 1684.19,327.64 1683.7,327.83 1683.16,327.9 1682.56,327.83 1681.94,327.65 1681.31,327.34 1680.67,326.92 1680.05,326.39 1679.47,325.78 1678.93,325.09 1678.44,324.35 1678.03,323.57 1677.7,322.76 1677.46,321.96 1677.32,321.18 1677.28,320.43 1677.33,319.74 1677.48,319.13 1677.73,318.61 1678.07,318.19 1678.49,317.88 1678.97,317.69 1679.52,317.62 1680.11,317.69 1680.73,317.88" stroke="#000" stroke-width="2.2" fill="#fff"/>
<polyline points="1681.36,320.1 1681.72,320.34 1682.08,320.65 1682.43,321 1682.74,321.4 1683.02,321.84 1683.26,322.29 1683.45,322.76 1683.59,323.23 1683.67,323.68 1683.7,324.11 1683.67,324.51 1683.58,324.87 1683.43,325.17 1683.24,325.42 1683,325.6 1682.71,325.71 1682.39,325.75 1682.05,325.71 1681.69,325.6 1681.32,325.42 1680.95,325.18 1680.59,324.87 1680.25,324.52 1679.94,324.12 1679.66,323.68 1679.42,323.23 1679.23,322.76 1679.09,322.29 1679,321.84 1678.98,321.41 1679.01,321.01 1679.1,320.65 1679.24,320.35 1679.44,320.1 1679.68,319.92 1679.96,319.81 1680.28,319.77 1680.62,319.81 1680.99,319.92" stroke="#000" stroke-width="1.2" fill="#fff"/>
<polyline points="1694.42,333.67 1697.46,322.93 1702.64,319.95 1713.71,322.95 1721.73,336.69 1718.69,347.44 1713.51,350.41 1702.44,347.41" stroke="#000" stroke-width="1.2" fill="#e4e4e4"/>
<polyline points="1708.53,325.92 1716.55,339.66 1713.51,350.41 1702.44,347.41 1694.42,333.67 1697.46,322.93" stroke="#000" stroke-width="1" fill="#fff"/>
<polyline points="1708.19,327.12 1715.32,339.33 1712.61,348.88 1702.78,346.21 1695.66,334.01 1698.36,324.46" stroke="#888" stroke-width="0.8" fill="none"/>
<polygon points="1696.05,334.5 1696.13,333.38 1696.38,332.38 1696.79,331.53 1697.34,330.84 1698.02,330.34 1700.84,328.72 1701.64,328.41 1702.53,328.31 1703.49,328.41 1704.5,328.72 1705.53,329.22 1706.57,329.9 1707.58,330.75 1708.53,331.75 1709.41,332.87 1710.2,334.08 1710.86,335.36 1711.4,336.66 1711.79,337.97 1712.03,339.25 1712.1,340.46 1712.01,341.58 1711.76,342.58 1711.36,343.43 1710.81,344.11 1710.13,344.62 1707.3,346.24 1706.51,346.55 1705.62,346.65 1704.66,346.55 1703.65,346.24 1702.61,345.74 1701.58,345.06 1700.57,344.2 1699.61,343.21 1698.73,342.09 1697.95,340.88 1697.28,339.6 1696.74,338.29 1696.36,336.99 1696.12,335.71" stroke="#000" stroke-width="1.2" fill="#fff"/>
<polygon points="1702.71,330.84 1703.74,331.52 1704.75,332.37 1705.71,333.37 1706.59,334.49 1707.37,335.7 1708.04,336.98 1708.57,338.28 1708.96,339.59 1709.2,340.87 1709.27,342.08 1709.18,343.2 1708.93,344.2 1708.53,345.05 1707.98,345.74 1707.3,346.24 1706.51,346.55 1705.62,346.65 1704.66,346.55 1703.65,346.24 1702.61,345.74 1701.58,345.05 1700.57,344.2 1699.61,343.21 1698.73,342.09 1697.95,340.88 1697.28,339.6 1696.74,338.29 1696.35,336.99 1696.12,335.71 1696.05,334.5 1696.14,333.38 1696.38,332.38 1696.79,331.53 1697.34,330.84 1698.02,330.34 1698.81,330.03 1699.7,329.93 1700.66,330.03 1701.67,330.34" stroke="#000" stroke-width="1.2" fill="#fff"/>
<polyline points="1702.7,332.86 1703.45,333.36 1704.18,333.98 1704.88,334.71 1705.52,335.52 1706.09,336.4 1706.58,337.33 1706.97,338.29 1707.25,339.24 1707.42,340.17 1707.48,341.05 1707.41,341.87 1707.23,342.59 1706.94,343.21 1706.54,343.71 1706.04,344.08 1705.46,344.3 1704.82,344.38 1704.11,344.31 1703.38,344.08 1702.62,343.72 1701.87,343.22 1701.14,342.6 1700.44,341.87 1699.8,341.06 1699.23,340.17 1698.74,339.25 1698.35,338.29 1698.07,337.34 1697.9,336.41 1697.84,335.53 1697.91,334.71 1698.09,333.98 1698.38,333.36 1698.78,332.86 1699.28,332.5 1699.86,332.27 1700.5,332.2 1701.2,332.27 1701.94,332.5" stroke="#8a8a8a" stroke-width="6" fill="#fff"/>
<polyline points="1702.71,331.05 1703.71,331.72 1704.69,332.54 1705.62,333.51 1706.47,334.6 1707.24,335.78 1707.89,337.01 1708.41,338.28 1708.78,339.55 1709.01,340.79 1709.08,341.97 1709,343.06 1708.76,344.03 1708.36,344.86 1707.83,345.52 1707.17,346.01 1706.4,346.31 1705.53,346.41 1704.6,346.31 1703.62,346.01 1702.61,345.53 1701.61,344.86 1700.63,344.03 1699.7,343.07 1698.84,341.98 1698.08,340.8 1697.43,339.56 1696.91,338.29 1696.53,337.02 1696.31,335.78 1696.24,334.61 1696.32,333.52 1696.56,332.55 1696.96,331.72 1697.49,331.06 1698.15,330.57 1698.92,330.27 1699.79,330.17 1700.72,330.27 1701.7,330.56" stroke="#222" stroke-width="1" fill="none"/>
<polyline points="1702.68,334.67 1703.19,335 1703.68,335.42 1704.14,335.9 1704.57,336.44 1704.95,337.03 1705.27,337.65 1705.53,338.29 1705.72,338.92 1705.84,339.54 1705.87,340.13 1705.83,340.67 1705.71,341.16 1705.51,341.57 1705.24,341.91 1704.91,342.15 1704.53,342.3 1704.1,342.35 1703.63,342.3 1703.14,342.15 1702.64,341.91 1702.13,341.58 1701.64,341.16 1701.18,340.68 1700.75,340.13 1700.37,339.55 1700.05,338.93 1699.79,338.29 1699.6,337.66 1699.48,337.04 1699.45,336.45 1699.49,335.9 1699.61,335.42 1699.81,335.01 1700.07,334.67 1700.41,334.43 1700.79,334.28 1701.22,334.23 1701.69,334.28 1702.18,334.43" stroke="#222" stroke-width="1.2" fill="#fff"/>
<polyline points="1727.68,352.74 1730.72,341.99 1735.9,339.02 1746.96,342.02 1754.99,355.76 1751.95,366.5 1746.77,369.47 1735.7,366.48" stroke="#000" stroke-width="1.2" fill="#e4e4e4"/>
<polyline points="1741.78,344.99 1749.81,358.73 1746.77,369.47 1735.7,366.48 1727.68,352.74 1730.72,341.99" stroke="#000" stroke-width="1" fill="#fff"/>
<polyline points="1741.44,346.19 1748.57,358.39 1745.87,367.94 1736.04,365.28 1728.91,353.07 1731.61,343.52" stroke="#888" stroke-width="0.8" fill="none"/>
<polygon points="1729.3,353.56 1729.39,352.44 1729.64,351.44 1730.05,350.59 1730.6,349.91 1731.28,349.4 1734.1,347.78 1734.89,347.48 1735.78,347.37 1736.74,347.47 1737.76,347.78 1738.79,348.28 1739.83,348.97 1740.83,349.82 1741.79,350.81 1742.67,351.93 1743.45,353.14 1744.12,354.42 1744.66,355.73 1745.05,357.04 1745.28,358.31 1745.36,359.52 1745.27,360.64 1745.02,361.64 1744.61,362.49 1744.06,363.18 1743.38,363.68 1740.56,365.3 1739.76,365.61 1738.88,365.71 1737.91,365.61 1736.9,365.31 1735.87,364.8 1734.83,364.12 1733.83,363.27 1732.87,362.27 1731.99,361.15 1731.21,359.94 1730.54,358.67 1730,357.36 1729.61,356.05 1729.38,354.77" stroke="#000" stroke-width="1.2" fill="#fff"/>
<polygon points="1735.97,349.9 1737,350.59 1738.01,351.44 1738.96,352.44 1739.84,353.55 1740.63,354.77 1741.3,356.04 1741.83,357.35 1742.22,358.66 1742.46,359.93 1742.53,361.14 1742.44,362.26 1742.19,363.26 1741.79,364.11 1741.24,364.8 1740.56,365.3 1739.76,365.61 1738.88,365.71 1737.91,365.61 1736.9,365.31 1735.87,364.8 1734.83,364.12 1733.83,363.27 1732.87,362.27 1731.99,361.15 1731.21,359.94 1730.54,358.67 1730,357.36 1729.61,356.05 1729.38,354.77 1729.3,353.56 1729.39,352.44 1729.64,351.45 1730.05,350.59 1730.59,349.91 1731.27,349.4 1732.07,349.1 1732.96,348.99 1733.92,349.1 1734.93,349.4" stroke="#000" stroke-width="1.2" fill="#fff"/>
<polyline points="1735.95,351.92 1736.71,352.42 1737.44,353.04 1738.14,353.77 1738.78,354.59 1739.35,355.47 1739.84,356.4 1740.23,357.35 1740.51,358.3 1740.68,359.23 1740.74,360.12 1740.67,360.93 1740.49,361.66 1740.19,362.28 1739.79,362.78 1739.3,363.14 1738.72,363.37 1738.07,363.44 1737.37,363.37 1736.64,363.15 1735.88,362.78 1735.13,362.28 1734.39,361.66 1733.7,360.94 1733.06,360.12 1732.48,359.24 1732,358.31 1731.61,357.36 1731.32,356.4 1731.15,355.47 1731.1,354.59 1731.16,353.78 1731.35,353.05 1731.64,352.43 1732.04,351.93 1732.53,351.56 1733.11,351.34 1733.76,351.26 1734.46,351.34 1735.2,351.56" stroke="#8a8a8a" stroke-width="6" fill="#fff"/>
<polyline points="1735.96,350.12 1736.97,350.78 1737.95,351.61 1738.88,352.58 1739.73,353.66 1740.49,354.84 1741.14,356.08 1741.66,357.35 1742.04,358.62 1742.27,359.86 1742.34,361.04 1742.25,362.12 1742.01,363.09 1741.62,363.92 1741.09,364.59 1740.43,365.08 1739.65,365.37 1738.79,365.47 1737.86,365.37 1736.87,365.08 1735.87,364.59 1734.86,363.93 1733.89,363.1 1732.96,362.13 1732.1,361.04 1731.34,359.87 1730.69,358.63 1730.17,357.36 1729.79,356.09 1729.56,354.85 1729.49,353.67 1729.58,352.58 1729.82,351.61 1730.21,350.79 1730.75,350.12 1731.41,349.63 1732.18,349.33 1733.04,349.23 1733.98,349.33 1734.96,349.63" stroke="#222" stroke-width="1" fill="none"/>
<polyline points="1735.94,353.73 1736.44,354.07 1736.93,354.48 1737.4,354.96 1737.82,355.51 1738.2,356.1 1738.53,356.72 1738.79,357.35 1738.98,357.99 1739.09,358.61 1739.13,359.19 1739.09,359.74 1738.96,360.22 1738.77,360.64 1738.5,360.97 1738.17,361.21 1737.79,361.36 1737.35,361.41 1736.89,361.36 1736.4,361.22 1735.89,360.97 1735.39,360.64 1734.9,360.23 1734.44,359.74 1734.01,359.2 1733.63,358.61 1733.3,357.99 1733.04,357.36 1732.85,356.72 1732.74,356.1 1732.7,355.51 1732.75,354.97 1732.87,354.48 1733.07,354.07 1733.33,353.74 1733.66,353.49 1734.05,353.34 1734.48,353.29 1734.95,353.34 1735.44,353.49" stroke="#222" stroke-width="1.2" fill="#fff"/>
<polyline points="1769.24,339.49 1770.2,340.13 1771.13,340.92 1772.02,341.84 1772.84,342.88 1773.56,344.01 1774.19,345.19 1774.68,346.41 1775.04,347.62 1775.26,348.81 1775.33,349.93 1775.25,350.97 1775.02,351.9 1774.64,352.69 1774.13,353.33 1773.5,353.79 1772.76,354.08 1771.94,354.17 1771.04,354.08 1770.11,353.79 1769.14,353.33 1768.18,352.69 1767.25,351.9 1766.36,350.98 1765.54,349.94 1764.82,348.81 1764.2,347.63 1763.7,346.41 1763.34,345.2 1763.12,344.02 1763.05,342.89 1763.13,341.85 1763.36,340.92 1763.74,340.13 1764.25,339.5 1764.88,339.03 1765.62,338.74 1766.44,338.65 1767.34,338.74 1768.27,339.03" stroke="#000" stroke-width="1.2" fill="#fff"/>
<polygon points="1757.16,347.08 1757.24,346.16 1757.44,345.34 1757.78,344.64 1758.23,344.08 1758.79,343.66 1765.38,339.88 1766.03,339.63 1766.76,339.54 1767.55,339.63 1768.38,339.88 1769.23,340.29 1770.08,340.85 1770.91,341.55 1771.69,342.37 1772.42,343.29 1773.06,344.29 1773.61,345.33 1774.05,346.41 1774.37,347.48 1774.56,348.53 1774.62,349.52 1774.55,350.44 1774.34,351.26 1774.01,351.96 1773.56,352.53 1773,352.94 1766.41,356.72 1765.76,356.98 1765.03,357.06 1764.24,356.98 1763.41,356.73 1762.56,356.31 1761.71,355.75 1760.88,355.05 1760.1,354.23 1759.37,353.31 1758.73,352.32 1758.18,351.27 1757.74,350.2 1757.42,349.12 1757.23,348.07" stroke="#000" stroke-width="1.5" fill="#fff"/>
<polygon points="1762.64,344.07 1763.49,344.64 1764.31,345.33 1765.1,346.15 1765.82,347.07 1766.47,348.07 1767.02,349.12 1767.46,350.19 1767.78,351.26 1767.97,352.31 1768.03,353.31 1767.96,354.23 1767.75,355.05 1767.42,355.75 1766.97,356.31 1766.41,356.72 1765.76,356.98 1765.03,357.06 1764.24,356.98 1763.41,356.73 1762.56,356.31 1761.71,355.75 1760.88,355.05 1760.1,354.23 1759.37,353.31 1758.73,352.32 1758.18,351.27 1757.74,350.2 1757.42,349.12 1757.23,348.07 1757.16,347.08 1757.24,346.16 1757.44,345.34 1757.78,344.64 1758.23,344.08 1758.78,343.66 1759.44,343.41 1760.17,343.33 1760.96,343.41 1761.79,343.66" stroke="#000" stroke-width="1.5" fill="#fff"/>
<polyline points="1762.62,346.47 1763.14,346.81 1763.64,347.24 1764.12,347.73 1764.56,348.29 1764.95,348.9 1765.29,349.54 1765.56,350.19 1765.75,350.85 1765.87,351.48 1765.9,352.09 1765.86,352.65 1765.73,353.15 1765.53,353.57 1765.26,353.92 1764.92,354.17 1764.52,354.32 1764.08,354.37 1763.6,354.32 1763.09,354.17 1762.57,353.92 1762.06,353.58 1761.55,353.15 1761.07,352.65 1760.63,352.09 1760.24,351.49 1759.91,350.85 1759.64,350.2 1759.45,349.54 1759.33,348.9 1759.29,348.3 1759.34,347.74 1759.46,347.24 1759.66,346.81 1759.94,346.47 1760.28,346.22 1760.67,346.07 1761.12,346.01 1761.6,346.06 1762.1,346.22" stroke="#000" stroke-width="1.4" fill="#fff"/>
<polyline points="1762.61,347.96 1762.92,348.16 1763.22,348.42 1763.51,348.72 1763.78,349.05 1764.01,349.42 1764.21,349.8 1764.37,350.19 1764.49,350.58 1764.56,350.97 1764.58,351.33 1764.55,351.67 1764.48,351.97 1764.36,352.22 1764.19,352.43 1763.99,352.58 1763.75,352.67 1763.49,352.7 1763.2,352.67 1762.89,352.58 1762.58,352.43 1762.27,352.22 1761.97,351.97 1761.68,351.67 1761.42,351.33 1761.18,350.97 1760.98,350.59 1760.82,350.19 1760.71,349.8 1760.64,349.42 1760.61,349.06 1760.64,348.72 1760.72,348.42 1760.84,348.17 1761,347.96 1761.21,347.81 1761.44,347.72 1761.71,347.69 1762,347.72 1762.3,347.81" stroke="#111" stroke-width="2.4" fill="#fff"/>
<polyline points="1769.1,360.3 1770.06,360.94 1770.99,361.73 1771.88,362.65 1772.7,363.69 1773.43,364.82 1774.05,366 1774.55,367.22 1774.91,368.43 1775.13,369.61 1775.19,370.74 1775.11,371.78 1774.88,372.71 1774.5,373.5 1773.99,374.13 1773.36,374.6 1772.63,374.89 1771.8,374.98 1770.91,374.89 1769.97,374.6 1769.01,374.14 1768.05,373.5 1767.11,372.71 1766.22,371.79 1765.41,370.75 1764.68,369.62 1764.06,368.44 1763.56,367.22 1763.2,366.01 1762.98,364.82 1762.91,363.7 1762.99,362.66 1763.23,361.73 1763.6,360.94 1764.11,360.3 1764.74,359.84 1765.48,359.55 1766.31,359.46 1767.2,359.55 1768.14,359.84" stroke="#000" stroke-width="1.2" fill="#fff"/>
<polygon points="1757.03,367.89 1757.1,366.97 1757.31,366.15 1757.64,365.45 1758.09,364.89 1758.65,364.47 1765.24,360.69 1765.89,360.44 1766.62,360.35 1767.41,360.44 1768.24,360.69 1769.09,361.1 1769.94,361.66 1770.77,362.36 1771.56,363.18 1772.28,364.1 1772.92,365.09 1773.47,366.14 1773.91,367.22 1774.23,368.29 1774.42,369.34 1774.49,370.33 1774.41,371.25 1774.21,372.07 1773.88,372.77 1773.42,373.34 1772.87,373.75 1766.27,377.53 1765.62,377.78 1764.89,377.87 1764.1,377.79 1763.27,377.54 1762.42,377.12 1761.57,376.56 1760.74,375.86 1759.96,375.04 1759.23,374.12 1758.59,373.13 1758.04,372.08 1757.6,371.01 1757.28,369.93 1757.09,368.88" stroke="#000" stroke-width="1.5" fill="#fff"/>
<polygon points="1762.5,364.88 1763.35,365.44 1764.18,366.14 1764.96,366.96 1765.69,367.88 1766.33,368.88 1766.88,369.92 1767.32,371 1767.64,372.07 1767.83,373.12 1767.89,374.12 1767.82,375.04 1767.62,375.86 1767.28,376.56 1766.83,377.12 1766.27,377.53 1765.62,377.78 1764.89,377.87 1764.1,377.79 1763.27,377.53 1762.42,377.12 1761.57,376.56 1760.74,375.86 1759.96,375.04 1759.23,374.12 1758.59,373.13 1758.04,372.08 1757.6,371.01 1757.28,369.93 1757.09,368.88 1757.03,367.89 1757.1,366.97 1757.31,366.15 1757.64,365.45 1758.09,364.89 1758.65,364.47 1759.3,364.22 1760.03,364.14 1760.82,364.22 1761.65,364.47" stroke="#000" stroke-width="1.5" fill="#fff"/>
<polyline points="1762.49,367.28 1763,367.62 1763.51,368.05 1763.98,368.54 1764.42,369.1 1764.82,369.71 1765.15,370.35 1765.42,371 1765.61,371.65 1765.73,372.29 1765.77,372.9 1765.72,373.46 1765.6,373.96 1765.4,374.38 1765.12,374.73 1764.78,374.98 1764.38,375.13 1763.94,375.18 1763.46,375.13 1762.95,374.98 1762.44,374.73 1761.92,374.39 1761.42,373.96 1760.94,373.46 1760.5,372.9 1760.11,372.3 1759.77,371.66 1759.5,371 1759.31,370.35 1759.19,369.71 1759.15,369.11 1759.2,368.55 1759.32,368.05 1759.53,367.62 1759.8,367.28 1760.14,367.03 1760.54,366.87 1760.98,366.82 1761.46,366.87 1761.97,367.03" stroke="#000" stroke-width="1.4" fill="#fff"/>
<polyline points="1762.48,368.77 1762.79,368.97 1763.09,369.23 1763.37,369.53 1763.64,369.86 1763.87,370.23 1764.07,370.61 1764.24,371 1764.35,371.39 1764.42,371.78 1764.44,372.14 1764.42,372.48 1764.34,372.77 1764.22,373.03 1764.06,373.24 1763.85,373.39 1763.62,373.48 1763.35,373.51 1763.06,373.48 1762.76,373.39 1762.45,373.24 1762.14,373.03 1761.83,372.78 1761.55,372.48 1761.28,372.14 1761.05,371.78 1760.85,371.4 1760.69,371 1760.57,370.61 1760.5,370.23 1760.48,369.87 1760.5,369.53 1760.58,369.23 1760.7,368.97 1760.86,368.77 1761.07,368.62 1761.31,368.53 1761.57,368.49 1761.86,368.53 1762.16,368.62" stroke="#111" stroke-width="2.4" fill="#fff"/>
<polyline points="1778.48,358.36 1778.99,358.7 1779.5,359.13 1779.98,359.62 1780.42,360.18 1780.81,360.79 1781.14,361.43 1781.41,362.08 1781.6,362.74 1781.72,363.37 1781.76,363.98 1781.71,364.54 1781.59,365.04 1781.39,365.46 1781.11,365.81 1780.77,366.06 1780.38,366.21 1779.93,366.26 1779.45,366.21 1778.95,366.06 1778.43,365.81 1777.91,365.47 1777.41,365.04 1776.93,364.54 1776.49,363.98 1776.1,363.38 1775.76,362.74 1775.49,362.09 1775.3,361.43 1775.18,360.79 1775.15,360.19 1775.19,359.63 1775.31,359.13 1775.52,358.7 1775.79,358.36 1776.13,358.11 1776.53,357.96 1776.97,357.9 1777.45,357.95 1777.96,358.11" stroke="#000" stroke-width="1" fill="#fff"/>
<polygon points="1793.95,385.26 1794.68,385.79 1795.36,386.5 1795.95,387.34 1796.39,388.26 1796.67,389.19 1796.76,390.07 1796.66,390.85 1796.37,391.45 1795.92,391.86 1795.33,392.03 1794.64,391.95 1793.91,391.64 1785.64,386.9 1784.91,386.37 1784.22,385.66 1783.64,384.82 1783.19,383.9 1782.92,382.97 1782.83,382.09 1782.93,381.31 1783.22,380.71 1783.67,380.3 1784.26,380.13 1784.95,380.21 1785.68,380.52" stroke="#000" stroke-width="1.8" fill="#ccc"/>
<polyline points="1806.36,390.42 1806.91,390.79 1807.45,391.25 1807.97,391.78 1808.44,392.38 1808.86,393.03 1809.22,393.71 1809.5,394.41 1809.71,395.11 1809.84,395.8 1809.88,396.44 1809.83,397.04 1809.7,397.58 1809.48,398.04 1809.19,398.4 1808.82,398.67 1808.4,398.84 1807.92,398.89 1807.4,398.84 1806.86,398.67 1806.31,398.41 1805.75,398.04 1805.21,397.58 1804.7,397.05 1804.23,396.45 1803.81,395.8 1803.45,395.12 1803.17,394.42 1802.96,393.72 1802.83,393.03 1802.79,392.38 1802.84,391.78 1802.97,391.25 1803.19,390.79 1803.48,390.42 1803.85,390.16 1804.27,389.99 1804.75,389.94 1805.26,389.99 1805.81,390.15" stroke="#000" stroke-width="1.8" fill="#fff"/>
<polyline points="1806.35,392.02 1806.68,392.24 1807.01,392.51 1807.31,392.83 1807.6,393.19 1807.85,393.58 1808.06,393.99 1808.24,394.41 1808.36,394.83 1808.44,395.24 1808.46,395.63 1808.43,395.99 1808.35,396.31 1808.22,396.59 1808.05,396.81 1807.83,396.97 1807.57,397.07 1807.29,397.1 1806.98,397.07 1806.65,396.97 1806.32,396.81 1805.99,396.59 1805.66,396.31 1805.36,395.99 1805.07,395.64 1804.82,395.25 1804.61,394.84 1804.43,394.42 1804.31,393.99 1804.23,393.58 1804.21,393.2 1804.24,392.84 1804.32,392.51 1804.45,392.24 1804.62,392.02 1804.84,391.86 1805.1,391.76 1805.38,391.73 1805.69,391.76 1806.02,391.86" stroke="#000" stroke-width="1" fill="#fff"/>
<polyline points="1822.14,399.47 1822.69,399.83 1823.23,400.29 1823.74,400.82 1824.22,401.42 1824.64,402.07 1824.99,402.76 1825.28,403.46 1825.49,404.16 1825.62,404.84 1825.66,405.49 1825.61,406.09 1825.47,406.62 1825.26,407.08 1824.96,407.45 1824.6,407.72 1824.17,407.88 1823.7,407.94 1823.18,407.88 1822.64,407.72 1822.09,407.45 1821.53,407.08 1820.99,406.63 1820.48,406.09 1820.01,405.49 1819.59,404.84 1819.23,404.16 1818.94,403.46 1818.74,402.76 1818.61,402.08 1818.57,401.43 1818.62,400.83 1818.75,400.29 1818.97,399.84 1819.26,399.47 1819.63,399.2 1820.05,399.04 1820.53,398.98 1821.04,399.03 1821.58,399.2" stroke="#000" stroke-width="1.8" fill="#fff"/>
<polyline points="1822.13,401.06 1822.46,401.28 1822.78,401.56 1823.09,401.88 1823.38,402.24 1823.63,402.63 1823.84,403.04 1824.01,403.46 1824.14,403.88 1824.22,404.29 1824.24,404.68 1824.21,405.04 1824.13,405.36 1824,405.63 1823.82,405.85 1823.6,406.01 1823.35,406.11 1823.06,406.15 1822.75,406.11 1822.43,406.01 1822.1,405.85 1821.76,405.63 1821.44,405.36 1821.13,405.04 1820.85,404.68 1820.6,404.29 1820.38,403.88 1820.21,403.46 1820.09,403.04 1820.01,402.63 1819.99,402.24 1820.02,401.88 1820.1,401.56 1820.23,401.29 1820.4,401.06 1820.62,400.9 1820.88,400.8 1821.16,400.77 1821.47,400.8 1821.8,400.9" stroke="#000" stroke-width="1" fill="#fff"/>
<polygon points="1844.29,420.5 1833.09,414.08 1833.19,398.59 1844.39,405.01" stroke="#000" stroke-width="2" fill="#fff"/>
<polyline points="1838.78,404.14 1839.29,404.49 1839.8,404.91 1840.27,405.41 1840.71,405.97 1841.11,406.57 1841.44,407.21 1841.71,407.87 1841.9,408.52 1842.02,409.16 1842.06,409.76 1842.01,410.32 1841.89,410.82 1841.69,411.25 1841.41,411.59 1841.07,411.84 1840.68,412 1840.23,412.05 1839.75,412 1839.24,411.84 1838.73,411.59 1838.21,411.25 1837.71,410.83 1837.23,410.33 1836.79,409.77 1836.4,409.16 1836.06,408.52 1835.79,407.87 1835.6,407.22 1835.48,406.58 1835.44,405.97 1835.49,405.41 1835.61,404.91 1835.82,404.49 1836.09,404.14 1836.43,403.89 1836.83,403.74 1837.27,403.69 1837.75,403.74 1838.26,403.89" stroke="#000" stroke-width="1.4" fill="#fff"/>
<polyline points="1838.76,406.01 1839.02,406.18 1839.27,406.39 1839.51,406.64 1839.73,406.92 1839.93,407.22 1840.1,407.54 1840.23,407.87 1840.33,408.19 1840.39,408.51 1840.4,408.82 1840.38,409.1 1840.32,409.35 1840.22,409.56 1840.08,409.73 1839.91,409.86 1839.71,409.93 1839.49,409.96 1839.25,409.93 1839,409.86 1838.74,409.73 1838.48,409.56 1838.23,409.35 1837.99,409.1 1837.77,408.82 1837.57,408.51 1837.41,408.2 1837.27,407.87 1837.18,407.54 1837.12,407.22 1837.1,406.92 1837.12,406.64 1837.18,406.39 1837.28,406.18 1837.42,406.01 1837.59,405.88 1837.79,405.8 1838.01,405.78 1838.25,405.8 1838.5,405.88" stroke="#000" stroke-width="1" fill="#444"/>
<polyline points="1854.4,411.44 1855.25,412.01 1856.08,412.7 1856.86,413.52 1857.59,414.44 1858.23,415.44 1858.78,416.49 1859.22,417.56 1859.54,418.63 1859.73,419.68 1859.79,420.68 1859.72,421.6 1859.51,422.42 1859.18,423.12 1858.73,423.68 1858.17,424.09 1857.52,424.34 1856.79,424.43 1856,424.35 1855.17,424.1 1854.32,423.68 1853.47,423.12 1852.64,422.42 1851.86,421.6 1851.13,420.68 1850.49,419.69 1849.94,418.64 1849.5,417.57 1849.18,416.49 1848.99,415.44 1848.93,414.45 1849,413.53 1849.21,412.71 1849.54,412.01 1849.99,411.45 1850.55,411.03 1851.2,410.78 1851.93,410.7 1852.72,410.78 1853.55,411.03" stroke="#000" stroke-width="1.6" fill="#fff"/>
<polyline points="1553.27,256.72 1553.97,257.18 1554.65,257.76 1555.3,258.44 1555.9,259.2 1556.43,260.02 1556.89,260.88 1557.25,261.77 1557.51,262.66 1557.67,263.52 1557.72,264.35 1557.66,265.11 1557.49,265.78 1557.22,266.36 1556.85,266.83 1556.39,267.17 1555.85,267.38 1555.24,267.45 1554.59,267.38 1553.91,267.17 1553.2,266.83 1552.5,266.36 1551.82,265.79 1551.17,265.11 1550.57,264.35 1550.04,263.53 1549.59,262.66 1549.22,261.78 1548.96,260.89 1548.8,260.02 1548.75,259.2 1548.81,258.44 1548.98,257.76 1549.25,257.19 1549.62,256.72 1550.09,256.38 1550.62,256.17 1551.23,256.1 1551.88,256.17 1552.57,256.38" stroke="#000" stroke-width="1.8" fill="#fff"/>
<polyline points="1553.25,259.38 1553.58,259.6 1553.91,259.87 1554.21,260.19 1554.5,260.55 1554.75,260.94 1554.96,261.35 1555.14,261.77 1555.26,262.19 1555.34,262.6 1555.36,262.99 1555.33,263.35 1555.25,263.67 1555.12,263.95 1554.95,264.17 1554.73,264.33 1554.47,264.43 1554.19,264.46 1553.88,264.43 1553.55,264.33 1553.22,264.17 1552.89,263.95 1552.56,263.67 1552.26,263.35 1551.97,262.99 1551.72,262.61 1551.51,262.2 1551.33,261.78 1551.21,261.35 1551.13,260.94 1551.11,260.55 1551.14,260.2 1551.22,259.87 1551.35,259.6 1551.53,259.38 1551.74,259.22 1552,259.12 1552.28,259.09 1552.59,259.12 1552.92,259.22" stroke="#000" stroke-width="1.4" fill="#000"/>
<polyline points="1703.11,342.62 1703.82,343.08 1704.5,343.66 1705.15,344.33 1705.75,345.09 1706.28,345.92 1706.73,346.78 1707.09,347.67 1707.36,348.56 1707.52,349.42 1707.57,350.24 1707.51,351 1707.34,351.68 1707.06,352.26 1706.69,352.72 1706.23,353.07 1705.69,353.27 1705.09,353.34 1704.44,353.27 1703.75,353.07 1703.05,352.73 1702.35,352.26 1701.66,351.68 1701.01,351.01 1700.42,350.25 1699.88,349.43 1699.43,348.56 1699.07,347.67 1698.8,346.79 1698.64,345.92 1698.59,345.1 1698.65,344.34 1698.82,343.66 1699.1,343.08 1699.47,342.62 1699.93,342.28 1700.47,342.07 1701.07,342 1701.73,342.07 1702.41,342.28" stroke="#000" stroke-width="1.8" fill="#fff"/>
<polyline points="1703.1,345.28 1703.43,345.5 1703.75,345.77 1704.06,346.09 1704.34,346.45 1704.6,346.84 1704.81,347.25 1704.98,347.67 1705.11,348.09 1705.18,348.5 1705.21,348.89 1705.18,349.25 1705.1,349.57 1704.97,349.84 1704.79,350.06 1704.57,350.23 1704.32,350.33 1704.03,350.36 1703.72,350.33 1703.4,350.23 1703.07,350.07 1702.73,349.85 1702.41,349.57 1702.1,349.25 1701.82,348.89 1701.57,348.5 1701.35,348.09 1701.18,347.67 1701.05,347.25 1700.98,346.84 1700.96,346.45 1700.98,346.09 1701.06,345.77 1701.19,345.5 1701.37,345.28 1701.59,345.12 1701.84,345.02 1702.13,344.98 1702.44,345.02 1702.76,345.12" stroke="#000" stroke-width="1.4" fill="#000"/>
<polyline points="1853.24,428.68 1853.94,429.14 1854.63,429.72 1855.28,430.39 1855.87,431.15 1856.41,431.98 1856.86,432.84 1857.22,433.73 1857.49,434.62 1857.65,435.48 1857.7,436.3 1857.64,437.06 1857.47,437.74 1857.19,438.32 1856.82,438.78 1856.36,439.13 1855.82,439.33 1855.22,439.4 1854.56,439.34 1853.88,439.13 1853.18,438.79 1852.47,438.32 1851.79,437.75 1851.14,437.07 1850.55,436.31 1850.01,435.49 1849.56,434.62 1849.2,433.73 1848.93,432.85 1848.77,431.98 1848.72,431.16 1848.78,430.4 1848.95,429.72 1849.23,429.14 1849.6,428.68 1850.06,428.34 1850.6,428.13 1851.2,428.06 1851.85,428.13 1852.54,428.34" stroke="#000" stroke-width="1.8" fill="#fff"/>
<polyline points="1853.23,431.34 1853.56,431.56 1853.88,431.83 1854.19,432.15 1854.47,432.51 1854.72,432.9 1854.94,433.31 1855.11,433.73 1855.24,434.15 1855.31,434.56 1855.34,434.95 1855.31,435.31 1855.23,435.63 1855.1,435.9 1854.92,436.13 1854.7,436.29 1854.45,436.39 1854.16,436.42 1853.85,436.39 1853.53,436.29 1853.19,436.13 1852.86,435.91 1852.54,435.63 1852.23,435.31 1851.95,434.95 1851.7,434.56 1851.48,434.15 1851.31,433.73 1851.18,433.31 1851.11,432.9 1851.08,432.51 1851.11,432.15 1851.19,431.83 1851.32,431.56 1851.5,431.34 1851.72,431.18 1851.97,431.08 1852.26,431.04 1852.57,431.08 1852.89,431.18" stroke="#000" stroke-width="1.4" fill="#000"/>
<polygon points="1227.55,310.5 1560.73,503.24 1676.35,418.13 1343.17,225.39" stroke="none" stroke-width="0" fill="#fff"/>
<polygon points="1343.17,225.39 1676.35,418.13 1679.31,419.12 1346.13,226.38" stroke="none" stroke-width="0" fill="#fff"/>
<polyline points="1227.55,310.5 1343.17,225.39 1346.13,226.38" stroke="#000" stroke-width="1.3" fill="none"/>
<line x1="1346.13" y1="226.38" x2="1679.31" y2="419.12" stroke="#000" stroke-width="1.3"/>
<line x1="1343.17" y1="225.39" x2="1676.35" y2="418.13" stroke="#9a9a9a" stroke-width="0.8"/>
<polygon points="1216.38,305.25 1549.56,497.99 1553.8,497.88 1220.62,305.14" stroke="none" stroke-width="0" fill="#fff"/>
<polygon points="1142.47,372.66 1475.66,565.4 1549.56,497.99 1216.38,305.25" stroke="none" stroke-width="0" fill="#fff"/>
<polygon points="1137.59,383.92 1470.77,576.66 1475.66,565.4 1142.47,372.66" stroke="none" stroke-width="0" fill="#fff"/>
<polygon points="1136.73,427.13 1469.91,619.87 1470.77,576.66 1137.59,383.92" stroke="none" stroke-width="0" fill="#fff"/>
<polyline points="1136.73,427.13 1137.59,383.92 1142.47,372.66 1216.38,305.25 1220.62,305.14" stroke="#000" stroke-width="1.3" fill="none"/>
<line x1="1220.62" y1="305.14" x2="1553.8" y2="497.88" stroke="#000" stroke-width="1.3"/>
<line x1="1216.38" y1="305.25" x2="1549.56" y2="497.99" stroke="#9a9a9a" stroke-width="0.8"/>
<line x1="1142.47" y1="372.66" x2="1475.66" y2="565.4" stroke="#777" stroke-width="0.8"/>
<line x1="1137.59" y1="383.92" x2="1470.77" y2="576.66" stroke="#777" stroke-width="0.8"/>
<polygon points="1469.91,619.87 1470.77,576.66 1475.66,565.4 1549.56,497.99 1553.8,497.88 1557.04,503.55 1560.73,503.24 1676.35,418.13 1679.31,419.12 1681.27,435.49 1680.02,498.14" stroke="#000" stroke-width="1.3" fill="#fff"/>
<polyline points="1471.94,618.54 1472.78,576.28 1476.3,568.25 1549.7,500.25 1552.08,500.13 1555.55,506.19 1560.21,506.15 1675.97,420.95 1677.54,421.5 1678.96,436.83 1677.71,499.32" stroke="#222" stroke-width="0.9" fill="none"/>
<line x1="1136.73" y1="427.13" x2="1469.91" y2="619.87" stroke="#000" stroke-width="2.4"/>
<polygon points="1405.3,278.17 1533.36,352.25 1459.5,406.62 1331.44,332.54" stroke="#000" stroke-width="1.4" fill="#fff"/>
<polygon points="1342.31,246.65 1341.77,246.28 1341.33,245.84 1341,245.36 1340.81,244.84 1340.74,244.3 1340.8,243.75 1340.99,243.2 1341.31,242.67 1341.74,242.17 1342.28,241.71 1342.91,241.31 1343.62,240.97 1344.39,240.7 1345.2,240.51 1346.03,240.4 1346.86,240.38 1347.68,240.45 1348.45,240.6 1349.16,240.83 1349.8,241.14 1350.34,241.52 1350.78,241.95 1351.1,242.43 1351.3,242.95 1351.37,243.49 1351.31,244.04 1351.12,244.59 1350.8,245.12 1350.37,245.62 1349.83,246.08 1349.2,246.49 1348.49,246.83 1347.72,247.09 1346.91,247.28 1346.08,247.39 1345.25,247.41 1344.43,247.34 1343.66,247.19 1342.95,246.96" stroke="#000" stroke-width="2.6" fill="#fff"/>
<polygon points="1344.37,245.14 1344.12,244.97 1343.93,244.77 1343.78,244.55 1343.69,244.32 1343.66,244.08 1343.69,243.83 1343.77,243.58 1343.92,243.34 1344.11,243.12 1344.35,242.91 1344.64,242.73 1344.96,242.58 1345.3,242.46 1345.67,242.37 1346.04,242.32 1346.42,242.31 1346.78,242.34 1347.13,242.41 1347.45,242.52 1347.74,242.66 1347.98,242.83 1348.18,243.02 1348.33,243.24 1348.42,243.47 1348.45,243.71 1348.42,243.96 1348.33,244.21 1348.19,244.45 1348,244.67 1347.75,244.88 1347.47,245.06 1347.15,245.21 1346.8,245.34 1346.44,245.42 1346.06,245.47 1345.69,245.48 1345.32,245.45 1344.98,245.38 1344.66,245.28" stroke="#000" stroke-width="1.2" fill="#000"/>
<polygon points="1345.49,244.31 1345.41,244.25 1345.34,244.19 1345.3,244.12 1345.27,244.04 1345.26,243.96 1345.27,243.87 1345.29,243.79 1345.34,243.71 1345.41,243.64 1345.49,243.57 1345.58,243.51 1345.69,243.46 1345.8,243.42 1345.93,243.39 1346.05,243.37 1346.18,243.37 1346.3,243.38 1346.41,243.4 1346.52,243.44 1346.62,243.48 1346.7,243.54 1346.76,243.6 1346.81,243.68 1346.84,243.75 1346.85,243.84 1346.84,243.92 1346.81,244 1346.77,244.08 1346.7,244.16 1346.62,244.22 1346.53,244.28 1346.42,244.34 1346.3,244.38 1346.18,244.4 1346.06,244.42 1345.93,244.42 1345.81,244.41 1345.7,244.39 1345.59,244.36" stroke="#fff" stroke-width="0.5" fill="#fff"/>
<polygon points="1644.1,421.23 1643.56,420.86 1643.12,420.42 1642.79,419.94 1642.6,419.42 1642.53,418.88 1642.59,418.33 1642.78,417.78 1643.1,417.25 1643.53,416.75 1644.07,416.29 1644.7,415.89 1645.41,415.55 1646.18,415.28 1646.99,415.09 1647.82,414.98 1648.65,414.96 1649.47,415.03 1650.24,415.18 1650.95,415.41 1651.59,415.72 1652.13,416.09 1652.57,416.53 1652.89,417.01 1653.09,417.53 1653.16,418.07 1653.1,418.62 1652.91,419.17 1652.59,419.7 1652.16,420.2 1651.62,420.66 1650.99,421.06 1650.28,421.4 1649.51,421.67 1648.7,421.86 1647.87,421.97 1647.04,421.99 1646.22,421.92 1645.45,421.77 1644.74,421.54" stroke="#000" stroke-width="2.6" fill="#fff"/>
<polygon points="1646.16,419.72 1645.91,419.55 1645.72,419.35 1645.57,419.13 1645.48,418.9 1645.45,418.66 1645.48,418.41 1645.56,418.16 1645.71,417.92 1645.9,417.7 1646.14,417.49 1646.43,417.31 1646.75,417.16 1647.09,417.04 1647.46,416.95 1647.83,416.9 1648.21,416.89 1648.57,416.92 1648.92,416.99 1649.24,417.1 1649.53,417.24 1649.77,417.4 1649.97,417.6 1650.12,417.82 1650.21,418.05 1650.24,418.29 1650.21,418.54 1650.12,418.79 1649.98,419.03 1649.79,419.25 1649.54,419.46 1649.26,419.64 1648.94,419.79 1648.59,419.91 1648.23,420 1647.85,420.05 1647.48,420.06 1647.11,420.03 1646.77,419.96 1646.45,419.85" stroke="#000" stroke-width="1.2" fill="#000"/>
<polygon points="1647.28,418.89 1647.2,418.83 1647.13,418.77 1647.09,418.69 1647.06,418.62 1647.05,418.54 1647.06,418.45 1647.08,418.37 1647.13,418.29 1647.2,418.22 1647.28,418.15 1647.37,418.09 1647.48,418.04 1647.59,418 1647.72,417.97 1647.84,417.95 1647.97,417.95 1648.09,417.96 1648.2,417.98 1648.31,418.02 1648.41,418.06 1648.49,418.12 1648.55,418.18 1648.6,418.26 1648.63,418.33 1648.64,418.41 1648.63,418.5 1648.6,418.58 1648.56,418.66 1648.49,418.73 1648.41,418.8 1648.32,418.86 1648.21,418.91 1648.09,418.96 1647.97,418.98 1647.85,419 1647.72,419 1647.6,418.99 1647.49,418.97 1647.38,418.94" stroke="#fff" stroke-width="0.5" fill="#fff"/>
<polygon points="1262.9,305.11 1262.35,304.74 1261.91,304.3 1261.59,303.82 1261.39,303.3 1261.32,302.76 1261.39,302.21 1261.58,301.66 1261.89,301.13 1262.33,300.63 1262.86,300.17 1263.5,299.77 1264.21,299.43 1264.98,299.16 1265.79,298.97 1266.62,298.86 1267.45,298.84 1268.26,298.91 1269.03,299.06 1269.75,299.29 1270.39,299.6 1270.93,299.98 1271.37,300.41 1271.69,300.89 1271.89,301.41 1271.96,301.95 1271.9,302.5 1271.71,303.05 1271.39,303.58 1270.96,304.08 1270.42,304.54 1269.79,304.95 1269.08,305.29 1268.31,305.55 1267.5,305.74 1266.66,305.85 1265.83,305.87 1265.02,305.8 1264.25,305.65 1263.53,305.42" stroke="#000" stroke-width="2.6" fill="#fff"/>
<polygon points="1264.96,303.6 1264.71,303.43 1264.51,303.23 1264.37,303.02 1264.28,302.78 1264.25,302.54 1264.28,302.29 1264.36,302.04 1264.5,301.8 1264.7,301.58 1264.94,301.37 1265.23,301.19 1265.55,301.04 1265.89,300.92 1266.26,300.83 1266.63,300.78 1267.01,300.78 1267.37,300.81 1267.72,300.87 1268.04,300.98 1268.33,301.12 1268.57,301.29 1268.77,301.48 1268.91,301.7 1269,301.93 1269.03,302.17 1269.01,302.42 1268.92,302.67 1268.78,302.91 1268.58,303.13 1268.34,303.34 1268.06,303.52 1267.74,303.67 1267.39,303.8 1267.03,303.88 1266.65,303.93 1266.28,303.94 1265.91,303.91 1265.56,303.84 1265.24,303.74" stroke="#000" stroke-width="1.2" fill="#000"/>
<polygon points="1266.08,302.77 1266,302.71 1265.93,302.65 1265.88,302.58 1265.85,302.5 1265.84,302.42 1265.85,302.33 1265.88,302.25 1265.93,302.17 1265.99,302.1 1266.07,302.03 1266.17,301.97 1266.28,301.92 1266.39,301.88 1266.51,301.85 1266.64,301.83 1266.76,301.83 1266.88,301.84 1267,301.86 1267.11,301.9 1267.2,301.94 1267.28,302 1267.35,302.06 1267.4,302.14 1267.43,302.21 1267.44,302.3 1267.43,302.38 1267.4,302.46 1267.35,302.54 1267.29,302.62 1267.21,302.68 1267.11,302.74 1267.01,302.8 1266.89,302.84 1266.77,302.86 1266.64,302.88 1266.52,302.88 1266.4,302.87 1266.28,302.85 1266.18,302.82" stroke="#fff" stroke-width="0.5" fill="#fff"/>
<polygon points="1564.69,479.69 1564.14,479.32 1563.7,478.88 1563.38,478.4 1563.18,477.88 1563.11,477.34 1563.18,476.79 1563.37,476.24 1563.68,475.71 1564.12,475.21 1564.65,474.75 1565.29,474.35 1566,474.01 1566.77,473.74 1567.58,473.55 1568.41,473.44 1569.24,473.42 1570.05,473.49 1570.82,473.64 1571.54,473.87 1572.18,474.18 1572.72,474.56 1573.16,474.99 1573.48,475.47 1573.68,475.99 1573.75,476.53 1573.69,477.08 1573.5,477.63 1573.18,478.16 1572.75,478.66 1572.21,479.12 1571.58,479.52 1570.87,479.87 1570.1,480.13 1569.29,480.32 1568.45,480.43 1567.62,480.45 1566.81,480.38 1566.04,480.23 1565.32,480" stroke="#000" stroke-width="2.6" fill="#fff"/>
<polygon points="1566.75,478.18 1566.5,478.01 1566.3,477.81 1566.16,477.59 1566.07,477.36 1566.04,477.12 1566.07,476.87 1566.15,476.62 1566.29,476.38 1566.49,476.16 1566.73,475.95 1567.02,475.77 1567.34,475.62 1567.68,475.5 1568.05,475.41 1568.42,475.36 1568.8,475.35 1569.16,475.38 1569.51,475.45 1569.83,475.56 1570.12,475.7 1570.36,475.86 1570.56,476.06 1570.7,476.28 1570.79,476.51 1570.82,476.75 1570.8,477 1570.71,477.25 1570.57,477.49 1570.37,477.71 1570.13,477.92 1569.85,478.1 1569.53,478.25 1569.18,478.37 1568.82,478.46 1568.44,478.51 1568.07,478.52 1567.7,478.49 1567.35,478.42 1567.03,478.31" stroke="#000" stroke-width="1.2" fill="#000"/>
<polygon points="1567.87,477.35 1567.79,477.29 1567.72,477.23 1567.67,477.16 1567.64,477.08 1567.63,477 1567.64,476.91 1567.67,476.83 1567.72,476.75 1567.78,476.68 1567.86,476.61 1567.96,476.55 1568.07,476.5 1568.18,476.46 1568.3,476.43 1568.43,476.41 1568.55,476.41 1568.67,476.42 1568.79,476.44 1568.9,476.48 1568.99,476.52 1569.07,476.58 1569.14,476.64 1569.19,476.72 1569.22,476.79 1569.23,476.88 1569.22,476.96 1569.19,477.04 1569.14,477.12 1569.08,477.19 1569,477.26 1568.9,477.32 1568.8,477.38 1568.68,477.42 1568.56,477.44 1568.43,477.46 1568.31,477.46 1568.19,477.45 1568.07,477.43 1567.97,477.4" stroke="#fff" stroke-width="0.5" fill="#fff"/>
<polygon points="1535.18,380.08 1535.18,379.4 1536.37,377.36 1536.89,376.72 1544.69,370.98 1545.59,370.57 1546.62,370.49 1547.52,370.76 1560.39,378.2 1560.91,378.75 1562.55,380.57 1562.55,381.25 1562.03,381.88 1552.81,388.67 1551.91,389.08 1550.87,389.16 1549.97,388.89 1535.69,380.63" stroke="#000" stroke-width="1.2" fill="#fff"/>
<polygon points="1560.39,378.2 1560.91,378.75 1560.91,379.43 1560.39,380.06 1552.59,385.8 1551.69,386.22 1550.65,386.3 1549.75,386.03 1536.89,378.59 1536.37,378.04 1536.37,377.35 1536.89,376.72 1544.69,370.98 1545.59,370.57 1546.63,370.49 1547.52,370.76" stroke="#333" stroke-width="1" fill="#fff"/>
<polygon points="1559.44,378.27 1559.96,378.82 1559.96,379.5 1559.44,380.14 1552.59,385.18 1551.69,385.59 1550.65,385.68 1549.75,385.41 1537.83,378.51 1537.31,377.96 1537.31,377.28 1537.83,376.65 1544.69,371.6 1545.59,371.19 1546.62,371.11 1547.52,371.38" stroke="#999" stroke-width="0.6" fill="none"/>
<polygon points="1512.72,396.61 1512.72,395.93 1513.92,393.88 1514.44,393.25 1522.47,387.34 1523.37,386.92 1524.41,386.84 1525.31,387.11 1538.17,394.55 1538.69,395.1 1540.33,396.92 1540.33,397.61 1539.81,398.24 1530.36,405.2 1529.46,405.61 1528.42,405.69 1527.52,405.42 1513.24,397.16" stroke="#000" stroke-width="1.2" fill="#fff"/>
<polygon points="1538.17,394.55 1538.69,395.1 1538.69,395.78 1538.17,396.42 1530.13,402.33 1529.23,402.74 1528.2,402.83 1527.3,402.56 1514.43,395.11 1513.92,394.57 1513.92,393.88 1514.44,393.25 1522.47,387.34 1523.37,386.92 1524.41,386.84 1525.31,387.11" stroke="#333" stroke-width="1" fill="#fff"/>
<polygon points="1537.23,394.63 1537.74,395.18 1537.74,395.86 1537.22,396.49 1530.13,401.71 1529.24,402.12 1528.2,402.21 1527.3,401.94 1515.38,395.04 1514.86,394.49 1514.86,393.81 1515.38,393.18 1522.47,387.96 1523.37,387.54 1524.41,387.46 1525.31,387.73" stroke="#999" stroke-width="0.6" fill="none"/>
<polygon points="1490.27,413.14 1490.27,412.46 1491.46,410.41 1491.98,409.78 1500.02,403.87 1500.92,403.45 1501.96,403.37 1502.85,403.64 1515.72,411.08 1516.24,411.63 1517.88,413.45 1517.88,414.13 1517.36,414.77 1507.9,421.73 1507.01,422.14 1505.97,422.22 1505.07,421.95 1490.79,413.69" stroke="#000" stroke-width="1.2" fill="#fff"/>
<polygon points="1515.72,411.08 1516.24,411.63 1516.24,412.31 1515.72,412.95 1507.68,418.86 1506.78,419.27 1505.74,419.36 1504.85,419.09 1491.98,411.64 1491.46,411.09 1491.46,410.41 1491.98,409.78 1500.02,403.87 1500.92,403.45 1501.96,403.37 1502.85,403.64" stroke="#333" stroke-width="1" fill="#fff"/>
<polygon points="1514.77,411.16 1515.29,411.71 1515.29,412.39 1514.77,413.02 1507.68,418.24 1506.78,418.65 1505.75,418.73 1504.85,418.46 1492.93,411.57 1492.41,411.02 1492.41,410.34 1492.93,409.71 1500.02,404.49 1500.92,404.07 1501.95,403.99 1502.85,404.26" stroke="#999" stroke-width="0.6" fill="none"/>
<polygon points="1568.58,399.4 1568.58,398.72 1569.77,396.68 1570.29,396.05 1578.09,390.3 1578.99,389.89 1580.03,389.81 1580.92,390.08 1593.79,397.52 1594.31,398.07 1595.95,399.89 1595.95,400.57 1595.43,401.2 1586.21,407.99 1585.31,408.4 1584.28,408.48 1583.38,408.21 1569.1,399.95" stroke="#000" stroke-width="1.2" fill="#fff"/>
<polygon points="1593.79,397.52 1594.31,398.07 1594.31,398.75 1593.79,399.38 1585.99,405.13 1585.09,405.54 1584.05,405.62 1583.15,405.35 1570.29,397.91 1569.77,397.36 1569.77,396.68 1570.29,396.04 1578.09,390.3 1578.99,389.89 1580.03,389.81 1580.92,390.08" stroke="#333" stroke-width="1" fill="#fff"/>
<polygon points="1592.84,397.6 1593.36,398.14 1593.36,398.83 1592.84,399.46 1585.99,404.5 1585.09,404.92 1584.05,405 1583.15,404.73 1571.23,397.83 1570.72,397.28 1570.72,396.6 1571.24,395.97 1578.09,390.92 1578.99,390.51 1580.03,390.43 1580.92,390.7" stroke="#999" stroke-width="0.6" fill="none"/>
<polygon points="1546.12,415.93 1546.12,415.25 1547.32,413.2 1547.84,412.57 1555.87,406.66 1556.77,406.25 1557.81,406.16 1558.71,406.43 1571.57,413.88 1572.09,414.43 1573.73,416.25 1573.73,416.93 1573.21,417.56 1563.76,424.52 1562.86,424.93 1561.82,425.01 1560.92,424.74 1546.64,416.48" stroke="#000" stroke-width="1.2" fill="#fff"/>
<polygon points="1571.57,413.88 1572.09,414.42 1572.09,415.11 1571.57,415.74 1563.53,421.65 1562.64,422.07 1561.6,422.15 1560.7,421.88 1547.84,414.44 1547.32,413.89 1547.32,413.21 1547.84,412.57 1555.87,406.66 1556.77,406.25 1557.81,406.16 1558.71,406.43" stroke="#333" stroke-width="1" fill="#fff"/>
<polygon points="1570.63,413.95 1571.15,414.5 1571.15,415.18 1570.63,415.81 1563.54,421.03 1562.64,421.45 1561.6,421.53 1560.7,421.26 1548.78,414.36 1548.26,413.81 1548.26,413.13 1548.78,412.5 1555.87,407.28 1556.77,406.87 1557.81,406.78 1558.71,407.05" stroke="#999" stroke-width="0.6" fill="none"/>
<polygon points="1523.67,432.46 1523.67,431.78 1524.87,429.73 1525.38,429.1 1533.42,423.19 1534.32,422.77 1535.36,422.69 1536.26,422.96 1549.12,430.4 1549.64,430.95 1551.28,432.77 1551.28,433.46 1550.76,434.09 1541.31,441.05 1540.41,441.46 1539.37,441.54 1538.47,441.27 1524.19,433.01" stroke="#000" stroke-width="1.2" fill="#fff"/>
<polygon points="1549.12,430.4 1549.64,430.95 1549.64,431.64 1549.12,432.27 1541.08,438.18 1540.18,438.6 1539.15,438.68 1538.25,438.41 1525.38,430.97 1524.86,430.42 1524.87,429.73 1525.38,429.1 1533.42,423.19 1534.32,422.77 1535.36,422.69 1536.25,422.96" stroke="#333" stroke-width="1" fill="#fff"/>
<polygon points="1548.17,430.48 1548.69,431.03 1548.69,431.71 1548.17,432.34 1541.08,437.56 1540.18,437.97 1539.15,438.06 1538.25,437.79 1526.33,430.89 1525.81,430.34 1525.81,429.66 1526.33,429.03 1533.42,423.81 1534.32,423.4 1535.36,423.31 1536.25,423.58" stroke="#999" stroke-width="0.6" fill="none"/>
<polygon points="1313.66,263.13 1313.79,261.92 1314.21,260.71 1314.91,259.54 1315.86,258.44 1317.05,257.43 1318.44,256.55 1320,255.8 1321.69,255.21 1323.47,254.79 1325.3,254.55 1327.13,254.51 1328.92,254.66 1330.62,254.99 1332.19,255.5 1333.59,256.18 1334.79,257 1335.76,257.96 1336.47,259.02 1336.9,260.16 1339.83,279.61 1339.99,280.87 1339.84,282.15 1339.4,283.43 1338.66,284.66 1337.66,285.82 1336.4,286.89 1334.93,287.83 1333.29,288.62 1331.5,289.25 1329.61,289.69 1327.68,289.93 1325.74,289.98 1323.85,289.82 1322.06,289.47 1320.4,288.93 1318.92,288.22 1317.65,287.34 1316.63,286.33 1315.88,285.21 1315.42,284.01 1315.26,282.75" stroke="#000" stroke-width="1.3" fill="#fff"/>
<polygon points="1317.12,268.3 1315.92,267.48 1314.95,266.52 1314.24,265.46 1313.81,264.32 1313.66,263.13 1313.79,261.92 1314.21,260.71 1314.91,259.54 1315.86,258.44 1317.05,257.43 1318.44,256.54 1320,255.8 1321.69,255.21 1323.47,254.79 1325.3,254.55 1327.14,254.51 1328.92,254.66 1330.62,254.99 1332.19,255.5 1333.59,256.18 1334.79,257 1335.76,257.96 1336.47,259.02 1336.9,260.16 1337.05,261.35 1336.92,262.57 1336.5,263.77 1335.8,264.94 1334.85,266.04 1333.66,267.05 1332.27,267.94 1330.71,268.69 1329.02,269.28 1327.24,269.69 1325.41,269.93 1323.58,269.97 1321.79,269.83 1320.09,269.49 1318.52,268.98" stroke="#000" stroke-width="1.3" fill="#fff"/>
<polyline points="1317.32,269.2 1316.14,268.38 1315.18,267.44 1314.48,266.39 1314.05,265.26 1313.9,264.09 1314.04,262.89 1314.45,261.69 1315.14,260.54 1316.08,259.45 1317.25,258.46 1318.63,257.58 1320.17,256.84 1321.85,256.25 1323.61,255.84 1325.42,255.61 1327.23,255.56 1328.99,255.71 1330.67,256.04 1332.23,256.54 1333.61,257.21" stroke="#666" stroke-width="0.8" fill="none"/>
<circle cx="1331.96" cy="262.79" r="1.4" stroke="#000" stroke-width="0.6" fill="#000"/>
<polygon points="1306.2,328.67 1306.34,327.45 1306.76,326.25 1307.45,325.08 1308.4,323.98 1309.59,322.97 1310.98,322.08 1312.54,321.33 1314.24,320.74 1316.02,320.32 1317.85,320.09 1319.68,320.05 1321.47,320.19 1323.17,320.52 1324.74,321.04 1326.14,321.71 1327.34,322.54 1328.3,323.49 1329.01,324.56 1329.45,325.7 1332.37,345.15 1332.53,346.4 1332.39,347.69 1331.94,348.96 1331.21,350.19 1330.2,351.36 1328.95,352.42 1327.48,353.36 1325.83,354.16 1324.04,354.78 1322.16,355.22 1320.22,355.47 1318.29,355.51 1316.4,355.36 1314.6,355.01 1312.94,354.47 1311.46,353.75 1310.2,352.88 1309.18,351.87 1308.43,350.75 1307.96,349.54 1307.8,348.28" stroke="#000" stroke-width="1.3" fill="#fff"/>
<polygon points="1309.66,333.84 1308.47,333.01 1307.5,332.06 1306.79,331 1306.35,329.86 1306.2,328.66 1306.34,327.45 1306.76,326.25 1307.45,325.08 1308.41,323.98 1309.59,322.97 1310.98,322.08 1312.54,321.33 1314.24,320.74 1316.02,320.32 1317.85,320.09 1319.68,320.05 1321.47,320.19 1323.17,320.52 1324.74,321.04 1326.14,321.71 1327.34,322.54 1328.3,323.49 1329.01,324.56 1329.45,325.7 1329.6,326.89 1329.46,328.1 1329.04,329.31 1328.35,330.47 1327.4,331.57 1326.21,332.58 1324.82,333.47 1323.26,334.22 1321.56,334.81 1319.78,335.23 1317.95,335.46 1316.12,335.51 1314.33,335.36 1312.63,335.03 1311.07,334.52" stroke="#000" stroke-width="1.3" fill="#fff"/>
<polyline points="1309.87,334.74 1308.68,333.92 1307.73,332.98 1307.03,331.93 1306.6,330.8 1306.45,329.62 1306.58,328.42 1307,327.23 1307.68,326.08 1308.63,324.99 1309.8,323.99 1311.17,323.11 1312.72,322.37 1314.39,321.79 1316.15,321.37 1317.96,321.14 1319.77,321.1 1321.54,321.24 1323.22,321.57 1324.77,322.08 1326.16,322.75" stroke="#666" stroke-width="0.8" fill="none"/>
<polygon points="1343.73,350.38 1343.87,349.16 1344.29,347.96 1344.98,346.79 1345.94,345.69 1347.12,344.68 1348.51,343.79 1350.08,343.04 1351.77,342.45 1353.55,342.04 1355.38,341.8 1357.21,341.76 1359,341.9 1360.7,342.24 1362.27,342.75 1363.67,343.42 1364.87,344.25 1365.83,345.21 1366.54,346.27 1366.98,347.41 1369.9,366.86 1370.06,368.12 1369.92,369.4 1369.48,370.67 1368.74,371.91 1367.73,373.07 1366.48,374.14 1365.01,375.08 1363.36,375.87 1361.57,376.49 1359.69,376.93 1357.75,377.18 1355.82,377.23 1353.93,377.07 1352.13,376.72 1350.48,376.18 1349,375.46 1347.73,374.59 1346.71,373.58 1345.96,372.46 1345.5,371.25 1345.34,370" stroke="#000" stroke-width="1.3" fill="#fff"/>
<polygon points="1347.2,355.55 1346,354.72 1345.03,353.77 1344.32,352.71 1343.89,351.57 1343.73,350.38 1343.87,349.16 1344.29,347.96 1344.98,346.79 1345.94,345.69 1347.12,344.68 1348.51,343.79 1350.08,343.04 1351.77,342.45 1353.55,342.03 1355.38,341.8 1357.21,341.76 1359,341.9 1360.7,342.24 1362.27,342.75 1363.67,343.42 1364.87,344.25 1365.83,345.21 1366.54,346.27 1366.98,347.41 1367.13,348.6 1367,349.81 1366.57,351.02 1365.88,352.18 1364.93,353.29 1363.74,354.29 1362.35,355.18 1360.79,355.93 1359.1,356.52 1357.31,356.94 1355.48,357.17 1353.65,357.22 1351.87,357.07 1350.17,356.74 1348.6,356.23" stroke="#000" stroke-width="1.3" fill="#fff"/>
<polyline points="1347.4,356.45 1346.22,355.63 1345.26,354.69 1344.56,353.64 1344.13,352.51 1343.98,351.33 1344.11,350.13 1344.53,348.94 1345.22,347.79 1346.16,346.7 1347.33,345.7 1348.7,344.82 1350.25,344.08 1351.92,343.5 1353.68,343.09 1355.49,342.85 1357.3,342.81 1359.07,342.96 1360.75,343.28 1362.3,343.79 1363.69,344.46" stroke="#666" stroke-width="0.8" fill="none"/>
<polygon points="1381.27,372.09 1381.4,370.87 1381.82,369.67 1382.52,368.5 1383.47,367.4 1384.65,366.39 1386.05,365.5 1387.61,364.75 1389.3,364.16 1391.08,363.75 1392.91,363.51 1394.74,363.47 1396.53,363.61 1398.23,363.95 1399.8,364.46 1401.2,365.13 1402.4,365.96 1403.37,366.92 1404.08,367.98 1404.51,369.12 1407.44,388.57 1407.6,389.83 1407.45,391.11 1407.01,392.38 1406.27,393.62 1405.27,394.78 1404.01,395.85 1402.54,396.79 1400.89,397.58 1399.1,398.2 1397.22,398.64 1395.29,398.89 1393.35,398.94 1391.46,398.78 1389.67,398.43 1388.01,397.89 1386.53,397.18 1385.26,396.3 1384.24,395.29 1383.49,394.17 1383.03,392.97 1382.87,391.71" stroke="#000" stroke-width="1.3" fill="#fff"/>
<polygon points="1384.73,377.26 1383.53,376.44 1382.56,375.48 1381.85,374.42 1381.42,373.28 1381.26,372.09 1381.4,370.87 1381.82,369.67 1382.52,368.5 1383.47,367.4 1384.66,366.39 1386.05,365.5 1387.61,364.75 1389.3,364.16 1391.08,363.75 1392.91,363.51 1394.74,363.47 1396.53,363.61 1398.23,363.95 1399.8,364.46 1401.2,365.14 1402.4,365.96 1403.37,366.92 1404.08,367.98 1404.51,369.12 1404.66,370.31 1404.53,371.52 1404.11,372.73 1403.41,373.9 1402.46,375 1401.27,376.01 1399.88,376.89 1398.32,377.64 1396.63,378.23 1394.85,378.65 1393.02,378.89 1391.18,378.93 1389.4,378.78 1387.7,378.45 1386.13,377.94" stroke="#000" stroke-width="1.3" fill="#fff"/>
<polyline points="1384.93,378.16 1383.75,377.34 1382.79,376.4 1382.09,375.35 1381.66,374.22 1381.51,373.04 1381.64,371.84 1382.06,370.65 1382.75,369.5 1383.69,368.41 1384.86,367.41 1386.24,366.53 1387.78,365.79 1389.45,365.21 1391.22,364.8 1393.03,364.57 1394.84,364.52 1396.6,364.67 1398.28,365 1399.83,365.5 1401.22,366.17" stroke="#666" stroke-width="0.8" fill="none"/>
<polygon points="1418.68,393.73 1418.82,392.52 1419.24,391.31 1419.93,390.14 1420.88,389.04 1422.07,388.04 1423.46,387.15 1425.02,386.4 1426.71,385.81 1428.5,385.39 1430.33,385.16 1432.16,385.11 1433.94,385.26 1435.64,385.59 1437.21,386.1 1438.62,386.78 1439.81,387.61 1440.78,388.56 1441.49,389.62 1441.93,390.76 1444.85,410.21 1445.01,411.47 1444.87,412.75 1444.42,414.03 1443.69,415.26 1442.68,416.43 1441.43,417.49 1439.96,418.43 1438.31,419.22 1436.52,419.85 1434.63,420.29 1432.7,420.53 1430.77,420.58 1428.88,420.43 1427.08,420.07 1425.42,419.53 1423.94,418.82 1422.67,417.94 1421.65,416.94 1420.9,415.81 1420.44,414.61 1420.28,413.35" stroke="#000" stroke-width="1.3" fill="#fff"/>
<polygon points="1422.14,398.91 1420.94,398.08 1419.98,397.12 1419.27,396.06 1418.83,394.92 1418.68,393.73 1418.81,392.52 1419.24,391.31 1419.93,390.14 1420.88,389.04 1422.07,388.04 1423.46,387.15 1425.02,386.4 1426.71,385.81 1428.5,385.39 1430.33,385.16 1432.16,385.11 1433.94,385.26 1435.64,385.59 1437.21,386.1 1438.61,386.78 1439.81,387.61 1440.78,388.56 1441.49,389.62 1441.93,390.76 1442.08,391.95 1441.94,393.17 1441.52,394.37 1440.83,395.54 1439.87,396.64 1438.69,397.65 1437.3,398.54 1435.74,399.29 1434.04,399.88 1432.26,400.29 1430.43,400.53 1428.6,400.57 1426.81,400.43 1425.11,400.09 1423.54,399.58" stroke="#000" stroke-width="1.3" fill="#fff"/>
<polyline points="1422.35,399.8 1421.16,398.99 1420.21,398.04 1419.51,396.99 1419.07,395.86 1418.92,394.69 1419.06,393.49 1419.47,392.3 1420.16,391.14 1421.1,390.05 1422.28,389.06 1423.65,388.18 1425.19,387.44 1426.87,386.85 1428.63,386.44 1430.44,386.21 1432.25,386.17 1434.02,386.31 1435.7,386.64 1437.25,387.14 1438.63,387.81" stroke="#666" stroke-width="0.8" fill="none"/>
<polygon points="1472.97,425.14 1473.11,423.92 1473.53,422.72 1474.22,421.55 1475.17,420.45 1476.36,419.44 1477.75,418.55 1479.31,417.8 1481.01,417.21 1482.79,416.8 1484.62,416.56 1486.45,416.52 1488.24,416.66 1489.93,417 1491.51,417.51 1492.91,418.19 1494.11,419.01 1495.07,419.97 1495.78,421.03 1496.22,422.17 1499.14,441.62 1499.3,442.88 1499.16,444.16 1498.71,445.43 1497.98,446.67 1496.97,447.83 1495.72,448.9 1494.25,449.84 1492.6,450.63 1490.81,451.25 1488.92,451.69 1486.99,451.94 1485.06,451.99 1483.17,451.83 1481.37,451.48 1479.71,450.94 1478.23,450.23 1476.97,449.35 1475.95,448.34 1475.19,447.22 1474.73,446.02 1474.57,444.76" stroke="#000" stroke-width="1.3" fill="#fff"/>
<polygon points="1476.43,430.31 1475.23,429.49 1474.27,428.53 1473.56,427.47 1473.12,426.33 1472.97,425.14 1473.11,423.92 1473.53,422.72 1474.22,421.55 1475.17,420.45 1476.36,419.44 1477.75,418.55 1479.31,417.8 1481.01,417.21 1482.79,416.8 1484.62,416.56 1486.45,416.52 1488.24,416.66 1489.94,417 1491.5,417.51 1492.91,418.18 1494.1,419.01 1495.07,419.97 1495.78,421.03 1496.22,422.17 1496.37,423.36 1496.23,424.57 1495.81,425.78 1495.12,426.95 1494.16,428.05 1492.98,429.06 1491.59,429.94 1490.03,430.69 1488.33,431.28 1486.55,431.7 1484.72,431.93 1482.89,431.98 1481.1,431.83 1479.4,431.5 1477.83,430.99" stroke="#000" stroke-width="1.3" fill="#fff"/>
<polyline points="1476.64,431.21 1475.45,430.39 1474.5,429.45 1473.8,428.4 1473.37,427.27 1473.22,426.09 1473.35,424.89 1473.77,423.7 1474.45,422.55 1475.39,421.46 1476.57,420.46 1477.94,419.58 1479.49,418.84 1481.16,418.26 1482.92,417.85 1484.73,417.62 1486.54,417.57 1488.31,417.72 1489.99,418.05 1491.54,418.55 1492.92,419.22" stroke="#666" stroke-width="0.8" fill="none"/>
<polygon points="1202.53,338.95 1202.14,338.64 1201.89,338.23 1201.81,337.77 1201.89,337.28 1202.14,336.79 1202.54,336.34 1203.05,335.96 1203.65,335.68 1204.29,335.51 1204.93,335.46 1205.53,335.55 1206.04,335.75 1236.18,353.19 1236.58,353.51 1236.82,353.91 1236.91,354.37 1236.82,354.87 1236.57,355.35 1236.18,355.8 1235.66,356.18 1235.06,356.47 1234.42,356.64 1233.78,356.68 1233.19,356.6 1232.67,356.39" stroke="#000" stroke-width="2" fill="#fff"/>
<polygon points="1294,391.87 1293.61,391.55 1293.36,391.15 1293.28,390.68 1293.36,390.19 1293.61,389.7 1294.01,389.26 1294.52,388.88 1295.12,388.59 1295.76,388.42 1296.4,388.37 1297,388.46 1297.51,388.67 1327.65,406.1 1328.05,406.42 1328.29,406.82 1328.37,407.29 1328.29,407.78 1328.04,408.27 1327.64,408.71 1327.13,409.09 1326.53,409.38 1325.89,409.55 1325.25,409.6 1324.65,409.51 1324.14,409.3" stroke="#000" stroke-width="2" fill="#fff"/>
<polygon points="1385.82,444.99 1385.43,444.67 1385.18,444.27 1385.1,443.8 1385.19,443.31 1385.44,442.82 1385.83,442.37 1386.35,441.99 1386.94,441.71 1387.58,441.54 1388.22,441.49 1388.82,441.58 1389.33,441.78 1419.36,459.15 1419.75,459.47 1420,459.87 1420.08,460.34 1419.99,460.83 1419.75,461.32 1419.35,461.76 1418.84,462.14 1418.24,462.43 1417.6,462.6 1416.96,462.65 1416.36,462.56 1415.85,462.35" stroke="#000" stroke-width="2" fill="#fff"/>
<polygon points="1477.29,497.9 1476.9,497.58 1476.65,497.18 1476.57,496.71 1476.66,496.22 1476.91,495.74 1477.3,495.29 1477.81,494.91 1478.41,494.62 1479.05,494.45 1479.69,494.41 1480.29,494.49 1480.8,494.7 1510.95,512.13 1511.34,512.45 1511.58,512.85 1511.67,513.32 1511.58,513.81 1511.33,514.3 1510.94,514.75 1510.42,515.13 1509.83,515.41 1509.19,515.58 1508.54,515.63 1507.95,515.54 1507.44,515.34" stroke="#000" stroke-width="2" fill="#fff"/>
<polyline points="1188.35,374.44 1186.74,373.32 1185.44,371.98 1184.47,370.47 1183.87,368.81 1183.63,367.05 1183.77,365.24 1184.29,363.41 1185.17,361.61 1186.39,359.89 1187.92,358.29 1189.73,356.85 1191.76,355.6 1193.98,354.57 1196.31,353.8 1198.72,353.29 1201.13,353.07 1203.49,353.13 1205.74,353.47 1207.82,354.1 1209.69,354.98 1211.29,356.1 1212.59,357.44 1213.56,358.95 1214.17,360.61 1214.41,362.37 1214.26,364.18 1213.75,366.01 1212.87,367.81 1211.64,369.53 1210.11,371.13 1208.31,372.57 1206.27,373.82 1204.06,374.85 1201.72,375.62 1199.32,376.13 1196.91,376.35 1194.55,376.29 1192.3,375.95 1190.22,375.32" stroke="#000" stroke-width="2" fill="#fff"/>
<polygon points="1183.66,366.02 1183.8,364.25 1184.31,362.46 1185.17,360.7 1186.37,359.02 1187.87,357.45 1189.63,356.04 1191.63,354.82 1193.79,353.81 1196.08,353.05 1198.43,352.56 1200.79,352.33 1203.1,352.39 1205.3,352.73 1207.34,353.34 1209.17,354.21 1210.74,355.31 1212.01,356.62 1212.96,358.1 1213.56,359.72 1213.85,360.7 1214.08,362.42 1213.94,364.19 1213.43,365.98 1212.57,367.74 1211.38,369.42 1209.88,370.99 1208.11,372.4 1206.12,373.63 1203.95,374.63 1201.66,375.39 1199.31,375.89 1196.95,376.11 1194.64,376.05 1192.44,375.71 1190.4,375.1 1188.58,374.23 1187.01,373.13 1185.73,371.83 1184.78,370.34 1184.19,368.72 1183.9,367.75" stroke="#000" stroke-width="1.8" fill="#fff"/>
<polygon points="1188.28,373.26 1186.71,372.16 1185.44,370.85 1184.49,369.37 1183.9,367.75 1183.66,366.03 1183.8,364.25 1184.31,362.46 1185.17,360.7 1186.37,359.02 1187.87,357.45 1189.64,356.04 1191.63,354.82 1193.79,353.81 1196.08,353.05 1198.43,352.56 1200.79,352.34 1203.1,352.4 1205.3,352.73 1207.34,353.34 1209.17,354.21 1210.74,355.31 1212.01,356.62 1212.96,358.1 1213.56,359.72 1213.79,361.44 1213.65,363.22 1213.14,365.01 1212.28,366.76 1211.08,368.45 1209.58,370.01 1207.82,371.43 1205.83,372.65 1203.66,373.65 1201.37,374.41 1199.02,374.91 1196.66,375.13 1194.35,375.07 1192.15,374.73 1190.11,374.12" stroke="#000" stroke-width="1.8" fill="#fff"/>
<polyline points="1184.87,361.41 1194.4,352.72 1207.75,353.34 1211.57,362.65 1212.08,364.35 1202.55,373.05 1189.19,372.43 1185.37,363.11" stroke="#000" stroke-width="1.6" fill="#fff"/>
<polyline points="1188.69,370.73 1184.87,361.41 1194.4,352.72 1207.75,353.34 1211.57,362.65 1202.04,371.35" stroke="#000" stroke-width="1.2" fill="#fff"/>
<polygon points="1185.89,363.15 1186,361.73 1186.41,360.29 1187.1,358.87 1188.07,357.52 1189.27,356.26 1190.69,355.12 1192.29,354.14 1194.04,353.33 1195.88,352.72 1197.77,352.32 1199.67,352.14 1201.52,352.19 1203.29,352.46 1204.93,352.95 1206.4,353.65 1207.67,354.53 1208.69,355.58 1209.45,356.78 1209.93,358.08 1210.15,358.8 1210.34,360.19 1210.22,361.62 1209.82,363.06 1209.12,364.47 1208.16,365.82 1206.95,367.08 1205.53,368.22 1203.93,369.2 1202.19,370.01 1200.35,370.62 1198.46,371.02 1196.56,371.2 1194.7,371.15 1192.93,370.88 1191.29,370.39 1189.82,369.69 1188.56,368.81 1187.53,367.76 1186.77,366.56 1186.29,365.26 1186.08,364.54" stroke="#000" stroke-width="1.4" fill="#fff"/>
<polygon points="1189.61,368.97 1188.34,368.09 1187.32,367.03 1186.56,365.84 1186.08,364.54 1185.89,363.15 1186,361.72 1186.41,360.29 1187.1,358.87 1188.06,357.52 1189.27,356.26 1190.69,355.12 1192.29,354.14 1194.04,353.33 1195.88,352.72 1197.77,352.32 1199.67,352.14 1201.52,352.19 1203.29,352.46 1204.93,352.95 1206.4,353.65 1207.67,354.53 1208.69,355.59 1209.45,356.78 1209.93,358.08 1210.12,359.47 1210.01,360.89 1209.6,362.33 1208.91,363.75 1207.94,365.1 1206.74,366.36 1205.32,367.5 1203.72,368.48 1201.97,369.29 1200.13,369.9 1198.24,370.3 1196.34,370.48 1194.49,370.43 1192.72,370.16 1191.08,369.67" stroke="#000" stroke-width="1.4" fill="#fff"/>
<polygon points="1185.74,358.07 1185.84,356.79 1186.21,355.51 1186.83,354.25 1187.68,353.04 1188.76,351.92 1190.03,350.9 1191.45,350.02 1193.01,349.3 1194.65,348.76 1196.34,348.4 1198.03,348.25 1199.69,348.29 1201.27,348.53 1202.73,348.97 1204.04,349.59 1205.17,350.38 1206.08,351.32 1206.76,352.38 1207.19,353.54 1208.64,358.43 1208.81,359.67 1208.71,360.94 1208.35,362.22 1207.73,363.48 1206.87,364.69 1205.79,365.82 1204.53,366.83 1203.1,367.71 1201.55,368.43 1199.9,368.97 1198.22,369.33 1196.52,369.49 1194.87,369.44 1193.29,369.2 1191.83,368.76 1190.51,368.14 1189.39,367.35 1188.47,366.42 1187.79,365.35 1187.37,364.19 1185.91,359.3" stroke="#000" stroke-width="1.6" fill="#fff"/>
<polygon points="1189.06,363.25 1187.93,362.46 1187.02,361.53 1186.34,360.46 1185.91,359.3 1185.74,358.07 1185.84,356.79 1186.21,355.51 1186.83,354.25 1187.68,353.04 1188.76,351.91 1190.03,350.9 1191.46,350.02 1193.01,349.3 1194.65,348.76 1196.34,348.4 1198.03,348.24 1199.69,348.29 1201.27,348.53 1202.73,348.97 1204.04,349.59 1205.17,350.38 1206.08,351.32 1206.76,352.38 1207.19,353.54 1207.35,354.78 1207.25,356.05 1206.89,357.33 1206.27,358.6 1205.41,359.8 1204.34,360.93 1203.07,361.94 1201.64,362.82 1200.09,363.54 1198.45,364.08 1196.76,364.44 1195.07,364.6 1193.41,364.55 1191.83,364.31 1190.37,363.87" stroke="#000" stroke-width="1.6" fill="#fff"/>
<polyline points="1189.97,362.42 1188.98,361.73 1188.17,360.91 1187.58,359.97 1187.2,358.95 1187.05,357.87 1187.14,356.75 1187.46,355.62 1188,354.51 1188.76,353.45 1189.7,352.46 1190.82,351.57 1192.07,350.8 1193.44,350.17 1194.88,349.69 1196.36,349.38 1197.85,349.24 1199.31,349.27 1200.69,349.49 1201.98,349.87 1203.13,350.42 1204.12,351.11 1204.92,351.93 1205.52,352.87 1205.9,353.89 1206.04,354.98 1205.96,356.1 1205.64,357.22 1205.09,358.33 1204.34,359.39 1203.39,360.38 1202.28,361.27 1201.03,362.04 1199.66,362.68 1198.22,363.15 1196.73,363.47 1195.25,363.61 1193.79,363.57 1192.4,363.35 1191.12,362.97" stroke="#000" stroke-width="1" fill="none"/>
<polygon points="1187.36,353.15 1187.43,352.23 1187.7,351.29 1188.15,350.38 1188.77,349.5 1189.55,348.68 1190.48,347.94 1191.52,347.31 1192.64,346.78 1193.84,346.39 1195.07,346.13 1196.3,346.01 1197.5,346.04 1198.65,346.22 1199.71,346.54 1200.67,346.99 1201.49,347.56 1202.15,348.25 1202.65,349.02 1202.96,349.86 1204.29,354.33 1204.41,355.23 1204.33,356.15 1204.07,357.08 1203.62,358 1203,358.88 1202.21,359.7 1201.29,360.44 1200.25,361.07 1199.12,361.6 1197.93,361.99 1196.7,362.25 1195.47,362.37 1194.27,362.34 1193.12,362.16 1192.05,361.84 1191.1,361.39 1190.28,360.82 1189.62,360.13 1189.12,359.36 1188.81,358.51 1187.48,354.05" stroke="#000" stroke-width="1.3" fill="#fff"/>
<polygon points="1189.77,356.93 1188.95,356.35 1188.29,355.67 1187.79,354.9 1187.48,354.05 1187.36,353.15 1187.43,352.23 1187.7,351.29 1188.15,350.38 1188.77,349.5 1189.55,348.68 1190.48,347.94 1191.52,347.31 1192.65,346.78 1193.84,346.39 1195.07,346.13 1196.3,346.01 1197.5,346.04 1198.65,346.22 1199.71,346.54 1200.67,346.99 1201.49,347.56 1202.15,348.24 1202.65,349.02 1202.96,349.86 1203.08,350.76 1203,351.69 1202.74,352.62 1202.29,353.54 1201.67,354.42 1200.88,355.23 1199.96,355.97 1198.92,356.61 1197.79,357.13 1196.6,357.53 1195.37,357.79 1194.14,357.9 1192.94,357.87 1191.79,357.7 1190.72,357.38" stroke="#000" stroke-width="1.3" fill="#fff"/>
<polygon points="1184.22,347.19 1184.3,346.11 1184.61,345.02 1185.13,343.95 1185.86,342.92 1186.77,341.97 1187.85,341.11 1189.06,340.37 1190.38,339.75 1191.77,339.29 1193.2,338.99 1194.64,338.86 1196.05,338.89 1197.39,339.1 1198.63,339.47 1199.74,340 1200.69,340.67 1201.47,341.46 1202.05,342.36 1202.41,343.35 1204.25,349.51 1204.39,350.56 1204.3,351.64 1203.99,352.73 1203.47,353.8 1202.74,354.83 1201.83,355.78 1200.75,356.64 1199.54,357.38 1198.22,358 1196.83,358.46 1195.4,358.76 1193.96,358.89 1192.56,358.86 1191.22,358.65 1189.98,358.28 1188.86,357.75 1187.91,357.08 1187.13,356.29 1186.56,355.39 1186.19,354.4 1184.36,348.24" stroke="#000" stroke-width="1.3" fill="#fff"/>
<polygon points="1187.03,351.59 1186.07,350.92 1185.3,350.13 1184.72,349.22 1184.36,348.24 1184.22,347.19 1184.3,346.11 1184.61,345.02 1185.13,343.95 1185.86,342.92 1186.77,341.97 1187.85,341.11 1189.06,340.37 1190.38,339.76 1191.77,339.29 1193.2,338.99 1194.64,338.86 1196.05,338.89 1197.39,339.1 1198.63,339.47 1199.74,340 1200.7,340.67 1201.47,341.46 1202.05,342.36 1202.41,343.35 1202.55,344.4 1202.47,345.48 1202.16,346.57 1201.63,347.64 1200.91,348.66 1199.99,349.62 1198.92,350.48 1197.71,351.22 1196.39,351.83 1194.99,352.29 1193.56,352.6 1192.13,352.73 1190.72,352.69 1189.38,352.49 1188.14,352.12" stroke="#333" stroke-width="1.3" fill="#fff"/>
<polyline points="1187.5,352.78 1186.56,352.12 1185.79,351.34 1185.22,350.45 1184.87,349.48 1184.73,348.44 1184.81,347.38 1185.11,346.31 1185.63,345.25 1186.35,344.24 1187.25,343.3 1188.31,342.45 1189.5,341.72 1190.8,341.12 1192.18,340.66 1193.59,340.36 1195,340.23 1196.39,340.27 1197.71,340.47 1198.93,340.84 1200.03,341.35" stroke="#888" stroke-width="0.9" fill="none"/>
<polyline points="1279.82,427.35 1278.21,426.23 1276.91,424.89 1275.94,423.38 1275.33,421.72 1275.1,419.97 1275.24,418.15 1275.76,416.32 1276.64,414.53 1277.86,412.81 1279.39,411.21 1281.2,409.76 1283.23,408.51 1285.45,407.49 1287.78,406.71 1290.19,406.2 1292.6,405.98 1294.96,406.04 1297.21,406.39 1299.29,407.01 1301.16,407.89 1302.76,409.02 1304.06,410.35 1305.03,411.87 1305.64,413.52 1305.88,415.28 1305.73,417.1 1305.22,418.92 1304.34,420.72 1303.11,422.44 1301.58,424.04 1299.78,425.48 1297.74,426.73 1295.53,427.76 1293.19,428.53 1290.79,429.04 1288.38,429.27 1286.02,429.21 1283.77,428.86 1281.68,428.24" stroke="#000" stroke-width="2" fill="#fff"/>
<polygon points="1275.13,418.94 1275.27,417.16 1275.78,415.37 1276.64,413.62 1277.84,411.93 1279.34,410.36 1281.11,408.95 1283.1,407.73 1285.26,406.73 1287.55,405.97 1289.9,405.47 1292.26,405.25 1294.57,405.31 1296.77,405.65 1298.81,406.26 1300.64,407.12 1302.21,408.22 1303.48,409.53 1304.43,411.01 1305.03,412.63 1305.32,413.61 1305.55,415.33 1305.41,417.11 1304.9,418.9 1304.04,420.65 1302.85,422.34 1301.35,423.9 1299.58,425.32 1297.59,426.54 1295.42,427.54 1293.13,428.3 1290.78,428.8 1288.42,429.02 1286.11,428.96 1283.91,428.62 1281.87,428.01 1280.05,427.15 1278.47,426.05 1277.2,424.74 1276.25,423.26 1275.66,421.64 1275.37,420.66" stroke="#000" stroke-width="1.8" fill="#fff"/>
<polygon points="1279.75,426.17 1278.18,425.07 1276.91,423.76 1275.96,422.28 1275.37,420.66 1275.13,418.94 1275.27,417.16 1275.78,415.37 1276.64,413.61 1277.84,411.93 1279.34,410.36 1281.1,408.95 1283.1,407.73 1285.26,406.73 1287.55,405.97 1289.9,405.47 1292.26,405.25 1294.57,405.31 1296.77,405.65 1298.81,406.26 1300.64,407.12 1302.21,408.22 1303.48,409.53 1304.43,411.01 1305.03,412.63 1305.26,414.35 1305.12,416.13 1304.61,417.92 1303.75,419.68 1302.55,421.36 1301.05,422.93 1299.29,424.34 1297.3,425.56 1295.13,426.57 1292.84,427.33 1290.49,427.82 1288.13,428.04 1285.82,427.98 1283.62,427.64 1281.58,427.03" stroke="#000" stroke-width="1.8" fill="#fff"/>
<polyline points="1276.34,414.33 1285.87,405.63 1299.22,406.25 1303.04,415.56 1303.55,417.26 1294.02,425.96 1280.66,425.34 1276.84,416.03" stroke="#000" stroke-width="1.6" fill="#fff"/>
<polyline points="1280.16,423.64 1276.34,414.33 1285.87,405.63 1299.22,406.25 1303.04,415.56 1293.51,424.26" stroke="#000" stroke-width="1.2" fill="#fff"/>
<polygon points="1277.36,416.07 1277.47,414.64 1277.88,413.2 1278.57,411.79 1279.53,410.43 1280.74,409.17 1282.16,408.03 1283.76,407.05 1285.51,406.24 1287.35,405.63 1289.24,405.23 1291.13,405.06 1292.99,405.1 1294.76,405.38 1296.4,405.87 1297.87,406.56 1299.14,407.45 1300.16,408.5 1300.92,409.69 1301.4,411 1301.62,411.72 1301.8,413.1 1301.69,414.53 1301.28,415.97 1300.59,417.38 1299.63,418.74 1298.42,420 1297,421.13 1295.4,422.12 1293.66,422.93 1291.82,423.54 1289.93,423.93 1288.03,424.11 1286.17,424.06 1284.4,423.79 1282.76,423.3 1281.29,422.61 1280.03,421.72 1279,420.67 1278.24,419.48 1277.76,418.17 1277.55,417.45" stroke="#000" stroke-width="1.4" fill="#fff"/>
<polygon points="1281.08,421.88 1279.81,421 1278.79,419.95 1278.03,418.75 1277.55,417.45 1277.36,416.07 1277.47,414.64 1277.88,413.2 1278.57,411.78 1279.53,410.43 1280.74,409.17 1282.16,408.03 1283.76,407.05 1285.51,406.24 1287.35,405.63 1289.24,405.23 1291.14,405.06 1292.99,405.1 1294.76,405.38 1296.4,405.87 1297.87,406.56 1299.14,407.45 1300.16,408.5 1300.92,409.69 1301.4,410.99 1301.59,412.38 1301.48,413.81 1301.07,415.25 1300.38,416.66 1299.41,418.01 1298.21,419.27 1296.79,420.41 1295.19,421.39 1293.44,422.2 1291.6,422.81 1289.71,423.21 1287.81,423.39 1285.96,423.34 1284.19,423.07 1282.54,422.58" stroke="#000" stroke-width="1.4" fill="#fff"/>
<polygon points="1277.21,410.98 1277.31,409.7 1277.68,408.42 1278.3,407.16 1279.15,405.95 1280.23,404.83 1281.5,403.81 1282.92,402.94 1284.48,402.22 1286.12,401.67 1287.81,401.32 1289.5,401.16 1291.16,401.2 1292.73,401.44 1294.2,401.88 1295.51,402.5 1296.63,403.29 1297.55,404.23 1298.23,405.29 1298.66,406.45 1300.11,411.34 1300.28,412.58 1300.18,413.85 1299.82,415.14 1299.2,416.4 1298.34,417.6 1297.26,418.73 1296,419.74 1294.57,420.62 1293.01,421.34 1291.37,421.88 1289.68,422.24 1287.99,422.4 1286.34,422.36 1284.76,422.11 1283.29,421.68 1281.98,421.06 1280.86,420.27 1279.94,419.33 1279.26,418.26 1278.84,417.1 1277.38,412.21" stroke="#000" stroke-width="1.6" fill="#fff"/>
<polygon points="1280.53,416.17 1279.4,415.38 1278.49,414.44 1277.81,413.38 1277.38,412.21 1277.21,410.98 1277.31,409.7 1277.68,408.42 1278.29,407.16 1279.15,405.95 1280.23,404.83 1281.5,403.81 1282.92,402.94 1284.48,402.22 1286.12,401.67 1287.81,401.32 1289.5,401.16 1291.16,401.2 1292.74,401.44 1294.2,401.88 1295.51,402.5 1296.64,403.29 1297.55,404.23 1298.23,405.29 1298.66,406.46 1298.82,407.69 1298.72,408.96 1298.36,410.25 1297.74,411.51 1296.88,412.72 1295.81,413.84 1294.54,414.85 1293.11,415.73 1291.56,416.45 1289.92,417 1288.23,417.35 1286.54,417.51 1284.88,417.47 1283.3,417.22 1281.84,416.79" stroke="#000" stroke-width="1.6" fill="#fff"/>
<polyline points="1281.44,415.34 1280.45,414.64 1279.64,413.82 1279.05,412.89 1278.67,411.86 1278.52,410.78 1278.61,409.66 1278.93,408.53 1279.47,407.42 1280.23,406.36 1281.17,405.37 1282.29,404.48 1283.54,403.71 1284.91,403.08 1286.35,402.6 1287.83,402.29 1289.32,402.15 1290.78,402.19 1292.16,402.4 1293.45,402.78 1294.6,403.33 1295.59,404.02 1296.39,404.85 1296.99,405.78 1297.37,406.8 1297.51,407.89 1297.43,409.01 1297.11,410.14 1296.56,411.24 1295.81,412.31 1294.86,413.29 1293.75,414.18 1292.49,414.96 1291.13,415.59 1289.69,416.07 1288.2,416.38 1286.72,416.52 1285.26,416.48 1283.87,416.27 1282.59,415.88" stroke="#000" stroke-width="1" fill="none"/>
<polygon points="1278.83,406.07 1278.9,405.14 1279.17,404.21 1279.62,403.29 1280.24,402.41 1281.02,401.59 1281.95,400.86 1282.98,400.22 1284.11,399.69 1285.31,399.3 1286.54,399.04 1287.77,398.92 1288.97,398.96 1290.12,399.13 1291.18,399.45 1292.14,399.9 1292.96,400.48 1293.62,401.16 1294.12,401.93 1294.43,402.78 1295.76,407.24 1295.88,408.14 1295.8,409.06 1295.54,410 1295.09,410.92 1294.47,411.79 1293.68,412.61 1292.76,413.35 1291.72,413.99 1290.59,414.51 1289.4,414.91 1288.17,415.17 1286.94,415.28 1285.74,415.25 1284.59,415.07 1283.52,414.75 1282.57,414.3 1281.75,413.73 1281.09,413.05 1280.59,412.27 1280.28,411.43 1278.95,406.96" stroke="#000" stroke-width="1.3" fill="#fff"/>
<polygon points="1281.24,409.84 1280.42,409.27 1279.76,408.58 1279.26,407.81 1278.95,406.96 1278.83,406.07 1278.9,405.14 1279.17,404.21 1279.62,403.29 1280.24,402.41 1281.02,401.59 1281.95,400.86 1282.98,400.22 1284.11,399.69 1285.31,399.3 1286.54,399.04 1287.77,398.92 1288.97,398.96 1290.12,399.13 1291.18,399.45 1292.14,399.9 1292.96,400.48 1293.62,401.16 1294.11,401.93 1294.43,402.78 1294.55,403.67 1294.47,404.6 1294.21,405.53 1293.76,406.45 1293.14,407.33 1292.35,408.15 1291.43,408.88 1290.39,409.52 1289.26,410.05 1288.07,410.44 1286.84,410.7 1285.61,410.82 1284.41,410.79 1283.26,410.61 1282.19,410.29" stroke="#000" stroke-width="1.3" fill="#fff"/>
<polygon points="1275.68,400.1 1275.77,399.02 1276.08,397.93 1276.6,396.86 1277.33,395.84 1278.24,394.88 1279.32,394.02 1280.53,393.28 1281.85,392.67 1283.24,392.21 1284.67,391.9 1286.11,391.77 1287.52,391.81 1288.86,392.01 1290.1,392.38 1291.21,392.91 1292.16,393.58 1292.94,394.38 1293.52,395.28 1293.88,396.26 1295.72,402.43 1295.86,403.48 1295.77,404.56 1295.46,405.65 1294.94,406.72 1294.21,407.74 1293.3,408.69 1292.22,409.55 1291.01,410.3 1289.69,410.91 1288.3,411.37 1286.87,411.67 1285.43,411.81 1284.03,411.77 1282.69,411.56 1281.44,411.19 1280.33,410.67 1279.38,410 1278.6,409.2 1278.03,408.3 1277.66,407.31 1275.83,401.15" stroke="#000" stroke-width="1.3" fill="#fff"/>
<polygon points="1278.5,404.5 1277.54,403.83 1276.77,403.04 1276.19,402.14 1275.83,401.15 1275.69,400.1 1275.77,399.02 1276.08,397.93 1276.6,396.86 1277.33,395.84 1278.24,394.88 1279.32,394.02 1280.53,393.28 1281.85,392.67 1283.24,392.21 1284.67,391.9 1286.11,391.77 1287.52,391.81 1288.86,392.01 1290.1,392.38 1291.21,392.91 1292.16,393.58 1292.94,394.38 1293.52,395.28 1293.88,396.26 1294.02,397.31 1293.94,398.39 1293.63,399.48 1293.1,400.55 1292.38,401.58 1291.46,402.53 1290.39,403.39 1289.17,404.13 1287.86,404.75 1286.46,405.21 1285.03,405.51 1283.6,405.64 1282.19,405.61 1280.85,405.4 1279.61,405.03" stroke="#333" stroke-width="1.3" fill="#fff"/>
<polyline points="1278.97,405.7 1278.03,405.04 1277.26,404.25 1276.69,403.36 1276.33,402.39 1276.2,401.36 1276.28,400.29 1276.58,399.22 1277.1,398.16 1277.82,397.15 1278.72,396.21 1279.78,395.37 1280.97,394.63 1282.27,394.03 1283.64,393.57 1285.06,393.28 1286.47,393.14 1287.86,393.18 1289.18,393.38 1290.4,393.75 1291.5,394.27" stroke="#888" stroke-width="0.9" fill="none"/>
<polyline points="1371.52,480.4 1369.92,479.28 1368.62,477.94 1367.65,476.43 1367.04,474.77 1366.8,473.02 1366.95,471.2 1367.46,469.37 1368.34,467.58 1369.57,465.86 1371.1,464.26 1372.9,462.81 1374.94,461.56 1377.15,460.54 1379.49,459.76 1381.89,459.25 1384.3,459.03 1386.66,459.09 1388.91,459.44 1390.99,460.06 1392.86,460.94 1394.47,462.07 1395.77,463.4 1396.74,464.92 1397.34,466.57 1397.58,468.33 1397.44,470.15 1396.92,471.97 1396.04,473.77 1394.82,475.49 1393.29,477.09 1391.48,478.53 1389.45,479.78 1387.23,480.81 1384.9,481.58 1382.49,482.09 1380.08,482.32 1377.72,482.26 1375.47,481.91 1373.39,481.29" stroke="#000" stroke-width="2" fill="#fff"/>
<polygon points="1366.84,471.99 1366.98,470.21 1367.49,468.42 1368.35,466.66 1369.54,464.98 1371.04,463.41 1372.81,462 1374.8,460.78 1376.97,459.77 1379.25,459.02 1381.61,458.52 1383.97,458.3 1386.28,458.36 1388.48,458.7 1390.52,459.31 1392.34,460.17 1393.91,461.27 1395.19,462.58 1396.13,464.06 1396.73,465.68 1397.02,466.66 1397.25,468.38 1397.12,470.16 1396.61,471.95 1395.75,473.7 1394.55,475.39 1393.05,476.95 1391.28,478.37 1389.29,479.59 1387.13,480.59 1384.84,481.35 1382.49,481.85 1380.13,482.07 1377.82,482.01 1375.62,481.67 1373.58,481.06 1371.75,480.2 1370.18,479.1 1368.91,477.79 1367.96,476.31 1367.36,474.69 1367.07,473.71" stroke="#000" stroke-width="1.8" fill="#fff"/>
<polygon points="1371.46,479.22 1369.89,478.12 1368.61,476.81 1367.67,475.33 1367.07,473.71 1366.84,471.99 1366.98,470.21 1367.49,468.42 1368.35,466.66 1369.54,464.98 1371.04,463.41 1372.81,462 1374.8,460.78 1376.97,459.77 1379.25,459.02 1381.61,458.52 1383.97,458.3 1386.28,458.36 1388.48,458.7 1390.52,459.31 1392.34,460.17 1393.91,461.27 1395.19,462.58 1396.13,464.06 1396.73,465.68 1396.96,467.4 1396.82,469.18 1396.32,470.97 1395.45,472.73 1394.26,474.41 1392.76,475.98 1390.99,477.39 1389,478.61 1386.84,479.62 1384.55,480.37 1382.2,480.87 1379.84,481.09 1377.53,481.03 1375.33,480.69 1373.29,480.08" stroke="#000" stroke-width="1.8" fill="#fff"/>
<polyline points="1368.04,467.38 1377.58,458.68 1390.93,459.3 1394.75,468.61 1395.25,470.31 1385.72,479.01 1372.37,478.39 1368.55,469.08" stroke="#000" stroke-width="1.6" fill="#fff"/>
<polyline points="1371.86,476.69 1368.04,467.38 1377.58,458.68 1390.93,459.3 1394.75,468.61 1385.21,477.31" stroke="#000" stroke-width="1.2" fill="#fff"/>
<polygon points="1369.07,469.12 1369.18,467.69 1369.59,466.25 1370.28,464.83 1371.24,463.48 1372.45,462.22 1373.87,461.08 1375.47,460.1 1377.21,459.29 1379.05,458.68 1380.94,458.28 1382.84,458.11 1384.7,458.15 1386.47,458.43 1388.11,458.92 1389.58,459.61 1390.84,460.5 1391.87,461.55 1392.63,462.74 1393.11,464.05 1393.32,464.77 1393.51,466.15 1393.4,467.58 1392.99,469.02 1392.3,470.43 1391.34,471.79 1390.13,473.05 1388.71,474.18 1387.11,475.17 1385.36,475.97 1383.52,476.58 1381.63,476.98 1379.73,477.16 1377.88,477.11 1376.11,476.84 1374.47,476.35 1373,475.65 1371.73,474.77 1370.71,473.72 1369.95,472.53 1369.47,471.22 1369.25,470.5" stroke="#000" stroke-width="1.4" fill="#fff"/>
<polygon points="1372.78,474.93 1371.52,474.05 1370.49,473 1369.73,471.8 1369.25,470.5 1369.06,469.12 1369.18,467.69 1369.58,466.25 1370.28,464.83 1371.24,463.48 1372.45,462.22 1373.87,461.08 1375.47,460.1 1377.21,459.29 1379.05,458.68 1380.94,458.28 1382.84,458.11 1384.7,458.15 1386.47,458.43 1388.11,458.92 1389.58,459.61 1390.84,460.5 1391.87,461.55 1392.63,462.74 1393.11,464.04 1393.29,465.43 1393.18,466.86 1392.77,468.3 1392.08,469.71 1391.12,471.06 1389.91,472.32 1388.49,473.46 1386.89,474.44 1385.15,475.25 1383.31,475.86 1381.42,476.26 1379.52,476.44 1377.66,476.39 1375.89,476.12 1374.25,475.63" stroke="#000" stroke-width="1.4" fill="#fff"/>
<polygon points="1368.92,464.03 1369.02,462.75 1369.38,461.47 1370,460.21 1370.86,459 1371.93,457.88 1373.2,456.86 1374.63,455.99 1376.18,455.27 1377.83,454.72 1379.51,454.37 1381.2,454.21 1382.86,454.25 1384.44,454.49 1385.9,454.93 1387.21,455.55 1388.34,456.34 1389.26,457.28 1389.93,458.34 1390.36,459.5 1391.82,464.39 1391.98,465.63 1391.88,466.9 1391.52,468.19 1390.9,469.45 1390.05,470.65 1388.97,471.78 1387.7,472.79 1386.27,473.67 1384.72,474.39 1383.08,474.93 1381.39,475.29 1379.7,475.45 1378.04,475.4 1376.46,475.16 1375,474.73 1373.69,474.1 1372.56,473.31 1371.65,472.38 1370.97,471.31 1370.54,470.15 1369.09,465.26" stroke="#000" stroke-width="1.6" fill="#fff"/>
<polygon points="1372.23,469.22 1371.11,468.43 1370.19,467.49 1369.51,466.43 1369.08,465.26 1368.92,464.03 1369.02,462.75 1369.38,461.47 1370,460.21 1370.86,459 1371.93,457.88 1373.2,456.86 1374.63,455.99 1376.18,455.27 1377.82,454.72 1379.51,454.37 1381.21,454.21 1382.86,454.25 1384.44,454.49 1385.9,454.93 1387.21,455.55 1388.34,456.34 1389.26,457.28 1389.93,458.34 1390.36,459.5 1390.53,460.74 1390.43,462.01 1390.07,463.3 1389.45,464.56 1388.59,465.77 1387.51,466.89 1386.25,467.9 1384.82,468.78 1383.26,469.5 1381.62,470.05 1379.93,470.4 1378.24,470.56 1376.59,470.52 1375.01,470.27 1373.54,469.84" stroke="#000" stroke-width="1.6" fill="#fff"/>
<polyline points="1373.14,468.39 1372.15,467.69 1371.35,466.87 1370.75,465.94 1370.37,464.91 1370.23,463.83 1370.32,462.71 1370.64,461.58 1371.18,460.47 1371.93,459.41 1372.88,458.42 1373.99,457.53 1375.25,456.76 1376.61,456.13 1378.05,455.65 1379.54,455.34 1381.03,455.2 1382.48,455.24 1383.87,455.45 1385.15,455.83 1386.31,456.38 1387.3,457.07 1388.1,457.9 1388.7,458.83 1389.07,459.85 1389.22,460.94 1389.13,462.06 1388.81,463.19 1388.27,464.29 1387.51,465.36 1386.57,466.34 1385.46,467.23 1384.2,468.01 1382.83,468.64 1381.39,469.12 1379.91,469.43 1378.42,469.57 1376.97,469.53 1375.58,469.32 1374.29,468.93" stroke="#000" stroke-width="1" fill="none"/>
<polygon points="1370.54,459.12 1370.61,458.19 1370.87,457.26 1371.32,456.34 1371.95,455.46 1372.73,454.64 1373.65,453.91 1374.69,453.27 1375.82,452.75 1377.01,452.35 1378.24,452.09 1379.47,451.97 1380.68,452 1381.83,452.18 1382.89,452.5 1383.84,452.95 1384.66,453.52 1385.33,454.21 1385.82,454.98 1386.13,455.83 1387.46,460.29 1387.58,461.19 1387.51,462.11 1387.24,463.05 1386.8,463.96 1386.17,464.84 1385.39,465.66 1384.47,466.4 1383.43,467.04 1382.3,467.56 1381.11,467.96 1379.88,468.21 1378.65,468.33 1377.44,468.3 1376.29,468.12 1375.23,467.8 1374.28,467.35 1373.46,466.78 1372.79,466.1 1372.3,465.32 1371.99,464.48 1370.66,460.01" stroke="#000" stroke-width="1.3" fill="#fff"/>
<polygon points="1372.95,462.89 1372.13,462.32 1371.46,461.63 1370.97,460.86 1370.66,460.01 1370.54,459.12 1370.61,458.19 1370.87,457.26 1371.32,456.34 1371.95,455.46 1372.73,454.64 1373.65,453.91 1374.69,453.27 1375.82,452.74 1377.01,452.35 1378.24,452.09 1379.47,451.97 1380.68,452.01 1381.82,452.18 1382.89,452.5 1383.84,452.95 1384.66,453.53 1385.33,454.21 1385.82,454.98 1386.13,455.83 1386.25,456.72 1386.18,457.65 1385.92,458.58 1385.47,459.5 1384.84,460.38 1384.06,461.2 1383.14,461.93 1382.1,462.57 1380.97,463.1 1379.78,463.49 1378.55,463.75 1377.32,463.87 1376.11,463.84 1374.96,463.66 1373.9,463.34" stroke="#000" stroke-width="1.3" fill="#fff"/>
<polygon points="1367.39,453.15 1367.48,452.07 1367.78,450.98 1368.31,449.91 1369.04,448.89 1369.95,447.93 1371.03,447.07 1372.24,446.33 1373.56,445.72 1374.95,445.26 1376.38,444.95 1377.82,444.82 1379.22,444.86 1380.56,445.06 1381.8,445.43 1382.91,445.96 1383.87,446.63 1384.65,447.43 1385.22,448.33 1385.59,449.31 1387.42,455.48 1387.56,456.52 1387.48,457.61 1387.17,458.69 1386.64,459.76 1385.92,460.79 1385,461.74 1383.93,462.6 1382.72,463.35 1381.4,463.96 1380.01,464.42 1378.57,464.72 1377.14,464.86 1375.73,464.82 1374.39,464.62 1373.15,464.24 1372.04,463.72 1371.08,463.05 1370.31,462.25 1369.73,461.35 1369.37,460.36 1367.53,454.2" stroke="#000" stroke-width="1.3" fill="#fff"/>
<polygon points="1370.2,457.55 1369.25,456.88 1368.47,456.09 1367.89,455.19 1367.53,454.2 1367.39,453.15 1367.48,452.07 1367.78,450.98 1368.31,449.91 1369.04,448.89 1369.95,447.93 1371.02,447.07 1372.24,446.33 1373.56,445.72 1374.95,445.26 1376.38,444.95 1377.82,444.82 1379.22,444.86 1380.56,445.06 1381.8,445.43 1382.91,445.96 1383.87,446.63 1384.65,447.42 1385.22,448.33 1385.59,449.31 1385.73,450.36 1385.64,451.44 1385.33,452.53 1384.81,453.6 1384.08,454.63 1383.17,455.58 1382.09,456.44 1380.88,457.18 1379.56,457.8 1378.17,458.26 1376.74,458.56 1375.3,458.69 1373.9,458.66 1372.56,458.45 1371.31,458.08" stroke="#333" stroke-width="1.3" fill="#fff"/>
<polyline points="1370.67,458.75 1369.73,458.09 1368.97,457.3 1368.4,456.41 1368.04,455.44 1367.9,454.41 1367.99,453.34 1368.29,452.27 1368.81,451.21 1369.52,450.2 1370.42,449.26 1371.48,448.42 1372.68,447.68 1373.98,447.08 1375.35,446.62 1376.76,446.33 1378.18,446.19 1379.56,446.23 1380.88,446.43 1382.11,446.8 1383.2,447.32" stroke="#888" stroke-width="0.9" fill="none"/>
<polyline points="1462.99,533.32 1461.39,532.19 1460.09,530.86 1459.12,529.34 1458.51,527.69 1458.27,525.93 1458.42,524.11 1458.93,522.29 1459.81,520.49 1461.04,518.77 1462.57,517.17 1464.37,515.72 1466.41,514.48 1468.62,513.45 1470.96,512.67 1473.36,512.17 1475.77,511.94 1478.13,512 1480.38,512.35 1482.46,512.97 1484.33,513.86 1485.93,514.98 1487.24,516.31 1488.2,517.83 1488.81,519.49 1489.05,521.24 1488.91,523.06 1488.39,524.89 1487.51,526.68 1486.29,528.4 1484.76,530 1482.95,531.45 1480.92,532.7 1478.7,533.72 1476.37,534.5 1473.96,535 1471.55,535.23 1469.19,535.17 1466.94,534.82 1464.86,534.2" stroke="#000" stroke-width="2" fill="#fff"/>
<polygon points="1458.31,524.9 1458.45,523.12 1458.95,521.34 1459.82,519.58 1461.01,517.89 1462.51,516.33 1464.28,514.91 1466.27,513.69 1468.44,512.69 1470.72,511.93 1473.08,511.43 1475.44,511.21 1477.74,511.27 1479.95,511.61 1481.98,512.22 1483.81,513.09 1485.38,514.18 1486.66,515.49 1487.6,516.97 1488.2,518.6 1488.49,519.57 1488.72,521.29 1488.58,523.07 1488.08,524.86 1487.21,526.62 1486.02,528.3 1484.52,529.87 1482.75,531.28 1480.76,532.5 1478.6,533.51 1476.31,534.27 1473.96,534.76 1471.6,534.98 1469.29,534.92 1467.09,534.59 1465.05,533.98 1463.22,533.11 1461.65,532.01 1460.38,530.7 1459.43,529.22 1458.83,527.6 1458.54,526.62" stroke="#000" stroke-width="1.8" fill="#fff"/>
<polygon points="1462.93,532.13 1461.36,531.03 1460.08,529.72 1459.14,528.24 1458.54,526.62 1458.31,524.9 1458.45,523.12 1458.96,521.34 1459.82,519.58 1461.01,517.89 1462.51,516.33 1464.28,514.91 1466.27,513.69 1468.44,512.69 1470.72,511.93 1473.08,511.43 1475.44,511.21 1477.74,511.27 1479.95,511.61 1481.99,512.22 1483.81,513.08 1485.38,514.18 1486.66,515.49 1487.6,516.97 1488.2,518.6 1488.43,520.32 1488.29,522.09 1487.79,523.88 1486.92,525.64 1485.73,527.32 1484.23,528.89 1482.46,530.3 1480.47,531.53 1478.3,532.53 1476.02,533.29 1473.67,533.78 1471.31,534.01 1469,533.95 1466.8,533.61 1464.76,533" stroke="#000" stroke-width="1.8" fill="#fff"/>
<polyline points="1459.51,520.29 1469.05,511.59 1482.4,512.21 1486.22,521.53 1486.72,523.23 1477.19,531.92 1463.84,531.3 1460.02,521.99" stroke="#000" stroke-width="1.6" fill="#fff"/>
<polyline points="1463.33,529.6 1459.51,520.29 1469.05,511.59 1482.4,512.21 1486.22,521.53 1476.68,530.22" stroke="#000" stroke-width="1.2" fill="#fff"/>
<polygon points="1460.53,522.03 1460.65,520.6 1461.05,519.16 1461.75,517.75 1462.71,516.39 1463.91,515.13 1465.34,514 1466.94,513.01 1468.68,512.21 1470.52,511.6 1472.41,511.2 1474.31,511.02 1476.17,511.07 1477.94,511.34 1479.58,511.83 1481.05,512.52 1482.31,513.41 1483.34,514.46 1484.1,515.65 1484.58,516.96 1484.79,517.68 1484.98,519.06 1484.87,520.49 1484.46,521.93 1483.77,523.35 1482.8,524.7 1481.6,525.96 1480.18,527.1 1478.58,528.08 1476.83,528.89 1474.99,529.5 1473.1,529.9 1471.2,530.08 1469.35,530.03 1467.58,529.75 1465.93,529.26 1464.46,528.57 1463.2,527.68 1462.18,526.63 1461.42,525.44 1460.94,524.14 1460.72,523.41" stroke="#000" stroke-width="1.4" fill="#fff"/>
<polygon points="1464.25,527.85 1462.99,526.96 1461.96,525.91 1461.2,524.72 1460.72,523.41 1460.53,522.03 1460.65,520.6 1461.05,519.16 1461.75,517.75 1462.71,516.39 1463.92,515.13 1465.34,514 1466.94,513.01 1468.68,512.21 1470.52,511.6 1472.41,511.2 1474.31,511.02 1476.17,511.07 1477.94,511.34 1479.58,511.83 1481.05,512.52 1482.31,513.41 1483.34,514.46 1484.1,515.65 1484.58,516.96 1484.76,518.34 1484.65,519.77 1484.24,521.21 1483.55,522.62 1482.59,523.98 1481.38,525.24 1479.96,526.37 1478.36,527.36 1476.62,528.16 1474.78,528.78 1472.89,529.17 1470.99,529.35 1469.13,529.3 1467.36,529.03 1465.72,528.54" stroke="#000" stroke-width="1.4" fill="#fff"/>
<polygon points="1460.39,516.94 1460.49,515.67 1460.85,514.38 1461.47,513.12 1462.33,511.92 1463.4,510.79 1464.67,509.78 1466.1,508.9 1467.65,508.18 1469.29,507.63 1470.98,507.28 1472.67,507.12 1474.33,507.16 1475.91,507.41 1477.37,507.84 1478.68,508.46 1479.81,509.25 1480.72,510.19 1481.4,511.25 1481.83,512.42 1483.29,517.31 1483.45,518.54 1483.35,519.82 1482.99,521.1 1482.37,522.36 1481.52,523.57 1480.44,524.69 1479.17,525.71 1477.74,526.58 1476.19,527.3 1474.55,527.85 1472.86,528.2 1471.17,528.36 1469.51,528.32 1467.93,528.08 1466.47,527.64 1465.16,527.02 1464.03,526.23 1463.12,525.29 1462.44,524.23 1462.01,523.06 1460.55,518.18" stroke="#000" stroke-width="1.6" fill="#fff"/>
<polygon points="1463.7,522.13 1462.58,521.34 1461.66,520.4 1460.98,519.34 1460.55,518.18 1460.39,516.94 1460.49,515.67 1460.85,514.38 1461.47,513.12 1462.33,511.91 1463.4,510.79 1464.67,509.78 1466.1,508.9 1467.65,508.18 1469.29,507.64 1470.98,507.28 1472.67,507.12 1474.33,507.16 1475.91,507.41 1477.37,507.84 1478.68,508.46 1479.81,509.25 1480.72,510.19 1481.4,511.26 1481.83,512.42 1482,513.65 1481.9,514.93 1481.53,516.21 1480.92,517.47 1480.06,518.68 1478.98,519.8 1477.71,520.82 1476.29,521.69 1474.73,522.41 1473.09,522.96 1471.4,523.31 1469.71,523.47 1468.05,523.43 1466.48,523.19 1465.01,522.75" stroke="#000" stroke-width="1.6" fill="#fff"/>
<polyline points="1464.61,521.3 1463.62,520.61 1462.82,519.78 1462.22,518.85 1461.84,517.83 1461.7,516.74 1461.79,515.62 1462.11,514.49 1462.65,513.39 1463.4,512.32 1464.35,511.34 1465.46,510.45 1466.72,509.68 1468.08,509.04 1469.52,508.56 1471.01,508.25 1472.5,508.11 1473.95,508.15 1475.34,508.36 1476.62,508.75 1477.78,509.29 1478.77,509.99 1479.57,510.81 1480.17,511.74 1480.54,512.77 1480.69,513.85 1480.6,514.97 1480.28,516.1 1479.74,517.21 1478.98,518.27 1478.04,519.26 1476.92,520.15 1475.67,520.92 1474.3,521.55 1472.86,522.03 1471.38,522.34 1469.89,522.48 1468.44,522.44 1467.05,522.23 1465.76,521.85" stroke="#000" stroke-width="1" fill="none"/>
<polygon points="1462.01,512.03 1462.08,511.1 1462.34,510.17 1462.79,509.25 1463.42,508.37 1464.2,507.56 1465.12,506.82 1466.16,506.18 1467.29,505.66 1468.48,505.26 1469.71,505 1470.94,504.89 1472.15,504.92 1473.29,505.1 1474.36,505.41 1475.31,505.87 1476.13,506.44 1476.8,507.12 1477.29,507.89 1477.6,508.74 1478.93,513.2 1479.05,514.1 1478.98,515.03 1478.71,515.96 1478.26,516.88 1477.64,517.76 1476.86,518.57 1475.94,519.31 1474.9,519.95 1473.77,520.47 1472.57,520.87 1471.35,521.13 1470.12,521.24 1468.91,521.21 1467.76,521.03 1466.7,520.72 1465.74,520.27 1464.93,519.69 1464.26,519.01 1463.77,518.24 1463.46,517.39 1462.13,512.93" stroke="#000" stroke-width="1.3" fill="#fff"/>
<polygon points="1464.42,515.8 1463.6,515.23 1462.93,514.55 1462.44,513.77 1462.13,512.93 1462.01,512.03 1462.08,511.1 1462.34,510.17 1462.79,509.25 1463.42,508.37 1464.2,507.56 1465.12,506.82 1466.16,506.18 1467.29,505.66 1468.48,505.26 1469.71,505 1470.94,504.89 1472.15,504.92 1473.29,505.1 1474.36,505.41 1475.31,505.86 1476.13,506.44 1476.8,507.12 1477.29,507.89 1477.6,508.74 1477.72,509.64 1477.65,510.56 1477.38,511.5 1476.94,512.41 1476.31,513.29 1475.53,514.11 1474.61,514.85 1473.57,515.49 1472.44,516.01 1471.24,516.41 1470.02,516.66 1468.79,516.78 1467.58,516.75 1466.43,516.57 1465.37,516.25" stroke="#000" stroke-width="1.3" fill="#fff"/>
<polygon points="1458.86,506.06 1458.94,504.98 1459.25,503.89 1459.78,502.82 1460.51,501.8 1461.42,500.85 1462.49,499.99 1463.71,499.24 1465.02,498.63 1466.42,498.17 1467.85,497.87 1469.29,497.73 1470.69,497.77 1472.03,497.98 1473.27,498.35 1474.38,498.87 1475.34,499.54 1476.12,500.34 1476.69,501.24 1477.06,502.23 1478.89,508.39 1479.03,509.44 1478.95,510.52 1478.64,511.61 1478.11,512.68 1477.39,513.7 1476.47,514.66 1475.4,515.52 1474.19,516.26 1472.87,516.87 1471.47,517.33 1470.04,517.64 1468.61,517.77 1467.2,517.73 1465.86,517.53 1464.62,517.16 1463.51,516.63 1462.55,515.96 1461.78,515.16 1461.2,514.26 1460.84,513.28 1459,507.11" stroke="#000" stroke-width="1.3" fill="#fff"/>
<polygon points="1461.67,510.47 1460.72,509.8 1459.94,509 1459.36,508.1 1459,507.11 1458.86,506.07 1458.94,504.98 1459.25,503.89 1459.78,502.82 1460.51,501.8 1461.42,500.85 1462.49,499.99 1463.71,499.24 1465.02,498.63 1466.42,498.17 1467.85,497.87 1469.29,497.73 1470.69,497.77 1472.03,497.97 1473.27,498.35 1474.38,498.87 1475.34,499.54 1476.12,500.34 1476.69,501.24 1477.05,502.23 1477.2,503.27 1477.11,504.36 1476.8,505.44 1476.28,506.51 1475.55,507.54 1474.64,508.49 1473.56,509.35 1472.35,510.1 1471.03,510.71 1469.64,511.17 1468.21,511.47 1466.77,511.61 1465.37,511.57 1464.03,511.36 1462.78,510.99" stroke="#333" stroke-width="1.3" fill="#fff"/>
<polyline points="1462.14,511.66 1461.2,511 1460.44,510.21 1459.87,509.33 1459.51,508.35 1459.37,507.32 1459.45,506.25 1459.76,505.18 1460.28,504.13 1460.99,503.12 1461.89,502.18 1462.95,501.33 1464.15,500.59 1465.45,499.99 1466.82,499.54 1468.23,499.24 1469.65,499.11 1471.03,499.14 1472.35,499.35 1473.58,499.71 1474.67,500.23" stroke="#888" stroke-width="0.9" fill="none"/>
<line x1="167.5" y1="114.5" x2="167.5" y2="235" stroke="#000" stroke-width="1"/>
<line x1="873.25" y1="114.5" x2="873.25" y2="235" stroke="#000" stroke-width="1"/>
<line x1="167.5" y1="132.5" x2="445.75" y2="132.5" stroke="#000" stroke-width="1"/>
<line x1="595" y1="132.5" x2="873.25" y2="132.5" stroke="#000" stroke-width="1"/>
<polygon points="167.5,132.5 194.5,128 194.5,137" stroke="#000" stroke-width="0.5" fill="#000"/>
<polygon points="873.25,132.5 846.25,128 846.25,137" stroke="#000" stroke-width="0.5" fill="#000"/>
<text x="474.03" y="122.5" font-size="29.8" textLength="92.67" lengthAdjust="spacingAndGlyphs" fill="#000" stroke="#000" stroke-width="0.2" font-weight="bold">10.00in</text>
<text x="471.01" y="160" font-size="29.8" textLength="98.26" lengthAdjust="spacingAndGlyphs" fill="#000" stroke="#000" stroke-width="0.2" font-weight="bold">254mm</text>
<polyline points="472.75,132.5 464.25,132.5 464.25,165.75 472.75,165.75" stroke="#000" stroke-width="1" fill="none"/>
<polyline points="567.75,132.5 576.25,132.5 576.25,165.75 567.75,165.75" stroke="#000" stroke-width="1" fill="none"/>
<line x1="880" y1="242" x2="1013.75" y2="242" stroke="#000" stroke-width="1"/>
<line x1="880" y1="687" x2="1013.75" y2="687" stroke="#000" stroke-width="1"/>
<line x1="995" y1="242" x2="995" y2="426.25" stroke="#000" stroke-width="1"/>
<line x1="995" y1="502" x2="995" y2="687" stroke="#000" stroke-width="1"/>
<polygon points="995,242 990.5,269 999.5,269" stroke="#000" stroke-width="0.5" fill="#000"/>
<polygon points="995,687 990.5,660 999.5,660" stroke="#000" stroke-width="0.5" fill="#000"/>
<text x="957.26" y="453.75" font-size="27.25" textLength="76.41" lengthAdjust="spacingAndGlyphs" fill="#000" stroke="#000" stroke-width="0.2" font-weight="bold">6.31in</text>
<text x="934.22" y="492.5" font-size="29.07" textLength="121.29" lengthAdjust="spacingAndGlyphs" fill="#000" stroke="#000" stroke-width="0.2" font-weight="bold">160.3mm</text>
<polyline points="936,464.5 927.5,464.5 927.5,498 936,498" stroke="#000" stroke-width="1" fill="none"/>
<polyline points="1054,464.5 1062.5,464.5 1062.5,498 1054,498" stroke="#000" stroke-width="1" fill="none"/>
<line x1="229.5" y1="640" x2="229.5" y2="807.5" stroke="#000" stroke-width="1"/>
<line x1="423.25" y1="640" x2="423.25" y2="807.5" stroke="#000" stroke-width="1"/>
<line x1="175" y1="789.5" x2="229.5" y2="789.5" stroke="#000" stroke-width="1"/>
<line x1="423.25" y1="789.5" x2="477.5" y2="789.5" stroke="#000" stroke-width="1"/>
<polygon points="229.5,789.5 202.5,785 202.5,794" stroke="#000" stroke-width="0.5" fill="#000"/>
<polygon points="423.25,789.5 450.25,785 450.25,794" stroke="#000" stroke-width="0.5" fill="#000"/>
<text x="287.29" y="760.5" font-size="29.8" textLength="78.17" lengthAdjust="spacingAndGlyphs" fill="#000" stroke="#000" stroke-width="0.2" font-weight="bold">2.75in</text>
<text x="273.2" y="798" font-size="27.98" textLength="106.57" lengthAdjust="spacingAndGlyphs" fill="#000" stroke="#000" stroke-width="0.2" font-weight="bold">69.9mm</text>
<polyline points="274.75,770.75 266.25,770.75 266.25,803.25 274.75,803.25" stroke="#000" stroke-width="1" fill="none"/>
<polyline points="377.75,770.75 386.25,770.75 386.25,803.25 377.75,803.25" stroke="#000" stroke-width="1" fill="none"/>
<text x="304" y="835.75" font-size="28.34" textLength="43.52" lengthAdjust="spacingAndGlyphs" fill="#000" stroke="#000" stroke-width="0.2" font-weight="bold">TYP</text>
<line x1="60.5" y1="935" x2="160.75" y2="935" stroke="#000" stroke-width="1"/>
<line x1="60.5" y1="1112.5" x2="202.5" y2="1112.5" stroke="#000" stroke-width="1"/>
<line x1="78.75" y1="881.25" x2="78.75" y2="935" stroke="#000" stroke-width="1"/>
<line x1="78.75" y1="1112.5" x2="78.75" y2="1166.25" stroke="#000" stroke-width="1"/>
<polygon points="78.75,935 74.25,908 83.25,908" stroke="#000" stroke-width="0.5" fill="#000"/>
<polygon points="78.75,1112.5 74.25,1139.5 83.25,1139.5" stroke="#000" stroke-width="0.5" fill="#000"/>
<text x="39.04" y="1013.75" font-size="27.25" textLength="78.17" lengthAdjust="spacingAndGlyphs" fill="#000" stroke="#000" stroke-width="0.2" font-weight="bold">2.51in</text>
<text x="25.71" y="1052" font-size="28.34" textLength="106.06" lengthAdjust="spacingAndGlyphs" fill="#000" stroke="#000" stroke-width="0.2" font-weight="bold">63.6mm</text>
<polyline points="26.75,1023.75 18.25,1023.75 18.25,1057.5 26.75,1057.5" stroke="#000" stroke-width="1" fill="none"/>
<polyline points="130.25,1023.75 138.75,1023.75 138.75,1057.5 130.25,1057.5" stroke="#000" stroke-width="1" fill="none"/>
<line x1="228.75" y1="1098.75" x2="228.75" y2="1216" stroke="#000" stroke-width="1"/>
<line x1="812.3" y1="1098.75" x2="812.3" y2="1216" stroke="#000" stroke-width="1"/>
<line x1="228.75" y1="1198" x2="435" y2="1198" stroke="#000" stroke-width="1"/>
<line x1="606.6" y1="1198" x2="812.3" y2="1198" stroke="#000" stroke-width="1"/>
<polygon points="228.75,1198 255.75,1193.5 255.75,1202.5" stroke="#000" stroke-width="0.5" fill="#000"/>
<polygon points="812.3,1198 785.3,1193.5 785.3,1202.5" stroke="#000" stroke-width="0.5" fill="#000"/>
<text x="482.03" y="1188.1" font-size="29.22" textLength="77.67" lengthAdjust="spacingAndGlyphs" fill="#000" stroke="#000" stroke-width="0.2" font-weight="bold">8.27in</text>
<text x="459.21" y="1226.3" font-size="28.2" textLength="122.57" lengthAdjust="spacingAndGlyphs" fill="#000" stroke="#000" stroke-width="0.2" font-weight="bold">210.1mm</text>
<polyline points="461.3,1197.8 452.8,1197.8 452.8,1231.2 461.3,1231.2" stroke="#000" stroke-width="1" fill="none"/>
<polyline points="580.3,1197.8 588.8,1197.8 588.8,1231.2 580.3,1231.2" stroke="#000" stroke-width="1" fill="none"/>
<line x1="167.2" y1="1090" x2="167.2" y2="1330.6" stroke="#000" stroke-width="1"/>
<line x1="873.1" y1="1090" x2="873.1" y2="1330.6" stroke="#000" stroke-width="1"/>
<line x1="167.2" y1="1312.8" x2="445.7" y2="1312.8" stroke="#000" stroke-width="1"/>
<line x1="595.3" y1="1312.8" x2="873.1" y2="1312.8" stroke="#000" stroke-width="1"/>
<polygon points="167.2,1312.8 194.2,1308.3 194.2,1317.3" stroke="#000" stroke-width="0.5" fill="#000"/>
<polygon points="873.1,1312.8 846.1,1308.3 846.1,1317.3" stroke="#000" stroke-width="0.5" fill="#000"/>
<text x="473.77" y="1303.4" font-size="28.2" textLength="93.13" lengthAdjust="spacingAndGlyphs" fill="#000" stroke="#000" stroke-width="0.2" font-weight="bold">10.00in</text>
<text x="471.21" y="1341.3" font-size="29.22" textLength="98.26" lengthAdjust="spacingAndGlyphs" fill="#000" stroke="#000" stroke-width="0.2" font-weight="bold">254mm</text>
<polyline points="472,1312.8 463.5,1312.8 463.5,1346.1 472,1346.1" stroke="#000" stroke-width="1" fill="none"/>
<polyline points="568.3,1312.8 576.8,1312.8 576.8,1346.1 568.3,1346.1" stroke="#000" stroke-width="1" fill="none"/>
<line x1="930" y1="995.5" x2="1008.75" y2="995.5" stroke="#000" stroke-width="1"/>
<line x1="930" y1="1112.5" x2="1036.25" y2="1112.5" stroke="#000" stroke-width="1"/>
<line x1="948.25" y1="805.75" x2="948.25" y2="1112.5" stroke="#000" stroke-width="1"/>
<line x1="948.25" y1="805.75" x2="965.5" y2="805.75" stroke="#000" stroke-width="1"/>
<polygon points="948.25,995.5 943.75,1022.5 952.75,1022.5" stroke="#000" stroke-width="0.5" fill="#000"/>
<polygon points="948.25,1112.5 943.75,1085.5 952.75,1085.5" stroke="#000" stroke-width="0.5" fill="#000"/>
<text x="1015.81" y="796.25" font-size="29.07" textLength="75.84" lengthAdjust="spacingAndGlyphs" fill="#000" stroke="#000" stroke-width="0.2" font-weight="bold">1.66in</text>
<text x="1000.82" y="834.5" font-size="28.34" textLength="105.94" lengthAdjust="spacingAndGlyphs" fill="#000" stroke="#000" stroke-width="0.2" font-weight="bold">42.1mm</text>
<polyline points="1001.75,805.75 993.25,805.75 993.25,839.5 1001.75,839.5" stroke="#000" stroke-width="1" fill="none"/>
<polyline points="1104.75,805.75 1113.25,805.75 1113.25,839.5 1104.75,839.5" stroke="#000" stroke-width="1" fill="none"/>
<line x1="1347.5" y1="902.5" x2="1545.75" y2="902.5" stroke="#000" stroke-width="1"/>
<line x1="1425.4" y1="1112.5" x2="1545.75" y2="1112.5" stroke="#000" stroke-width="1"/>
<line x1="1527" y1="805.75" x2="1527" y2="1112.5" stroke="#000" stroke-width="1"/>
<line x1="1510.75" y1="805.75" x2="1527" y2="805.75" stroke="#000" stroke-width="1"/>
<polygon points="1527,902.5 1522.5,929.5 1531.5,929.5" stroke="#000" stroke-width="0.5" fill="#000"/>
<polygon points="1527,1112.5 1522.5,1085.5 1531.5,1085.5" stroke="#000" stroke-width="0.5" fill="#000"/>
<text x="1383.3" y="796.25" font-size="29.07" textLength="77.65" lengthAdjust="spacingAndGlyphs" fill="#000" stroke="#000" stroke-width="0.2" font-weight="bold">2.97in</text>
<text x="1369.53" y="834.5" font-size="28.34" textLength="105.47" lengthAdjust="spacingAndGlyphs" fill="#000" stroke="#000" stroke-width="0.2" font-weight="bold">75.5mm</text>
<polyline points="1371,805.75 1362.5,805.75 1362.5,839.5 1371,839.5" stroke="#000" stroke-width="1" fill="none"/>
<polyline points="1473.5,805.75 1482,805.75 1482,839.5 1473.5,839.5" stroke="#000" stroke-width="1" fill="none"/>
<line x1="1062.7" y1="1099.3" x2="1062.7" y2="1216.1" stroke="#000" stroke-width="1"/>
<line x1="1398.2" y1="1099.3" x2="1398.2" y2="1216.1" stroke="#000" stroke-width="1"/>
<line x1="1062.7" y1="1198.2" x2="1144.5" y2="1198.2" stroke="#000" stroke-width="1"/>
<line x1="1316.8" y1="1198.2" x2="1398.2" y2="1198.2" stroke="#000" stroke-width="1"/>
<polygon points="1062.7,1198.2 1089.7,1193.7 1089.7,1202.7" stroke="#000" stroke-width="0.5" fill="#000"/>
<polygon points="1398.2,1198.2 1371.2,1193.7 1371.2,1202.7" stroke="#000" stroke-width="0.5" fill="#000"/>
<text x="1192.29" y="1188.5" font-size="29.8" textLength="77.2" lengthAdjust="spacingAndGlyphs" fill="#000" stroke="#000" stroke-width="0.2" font-weight="bold">4.75in</text>
<text x="1169.92" y="1226.3" font-size="29.8" textLength="121.24" lengthAdjust="spacingAndGlyphs" fill="#000" stroke="#000" stroke-width="0.2" font-weight="bold">120.7mm</text>
<polyline points="1171.6,1198.2 1163.1,1198.2 1163.1,1231.3 1171.6,1231.3" stroke="#000" stroke-width="1" fill="none"/>
<polyline points="1289.9,1198.2 1298.4,1198.2 1298.4,1231.3 1289.9,1231.3" stroke="#000" stroke-width="1" fill="none"/>
<line x1="1005.9" y1="1090.3" x2="1005.9" y2="1330.6" stroke="#000" stroke-width="1"/>
<line x1="1451.3" y1="1095.8" x2="1451.3" y2="1330.6" stroke="#000" stroke-width="1"/>
<line x1="1005.9" y1="1312.7" x2="1142.6" y2="1312.7" stroke="#000" stroke-width="1"/>
<line x1="1315.3" y1="1312.7" x2="1451.3" y2="1312.7" stroke="#000" stroke-width="1"/>
<polygon points="1005.9,1312.7 1032.9,1308.2 1032.9,1317.2" stroke="#000" stroke-width="0.5" fill="#000"/>
<polygon points="1451.3,1312.7 1424.3,1308.2 1424.3,1317.2" stroke="#000" stroke-width="0.5" fill="#000"/>
<text x="1190.1" y="1303.4" font-size="29.65" textLength="77.6" lengthAdjust="spacingAndGlyphs" fill="#000" stroke="#000" stroke-width="0.2" font-weight="bold">6.31in</text>
<text x="1168.21" y="1341" font-size="29.8" textLength="121.55" lengthAdjust="spacingAndGlyphs" fill="#000" stroke="#000" stroke-width="0.2" font-weight="bold">160.3mm</text>
<polyline points="1169.8,1312.7 1161.3,1312.7 1161.3,1346.1 1169.8,1346.1" stroke="#000" stroke-width="1" fill="none"/>
<polyline points="1288.2,1312.7 1296.7,1312.7 1296.7,1346.1 1288.2,1346.1" stroke="#000" stroke-width="1" fill="none"/>
<line x1="1629.5" y1="1116.5" x2="1629.5" y2="1215.9" stroke="#000" stroke-width="1"/>
<line x1="1673.6" y1="1116.5" x2="1673.6" y2="1215.9" stroke="#000" stroke-width="1"/>
<line x1="1575.7" y1="1197.9" x2="1629.5" y2="1197.9" stroke="#000" stroke-width="1"/>
<line x1="1673.6" y1="1197.9" x2="1757.5" y2="1197.9" stroke="#000" stroke-width="1"/>
<polygon points="1629.5,1197.9 1602.5,1193.4 1602.5,1202.4" stroke="#000" stroke-width="0.5" fill="#000"/>
<polygon points="1673.6,1197.9 1700.6,1193.4 1700.6,1202.4" stroke="#000" stroke-width="0.5" fill="#000"/>
<circle cx="1797.5" cy="1157.5" r="9.3" stroke="#000" stroke-width="1" fill="none"/>
<line x1="1790.5" y1="1169.5" x2="1806.5" y2="1145" stroke="#000" stroke-width="1"/>
<text x="1812.12" y="1169.2" font-size="30.38" textLength="62.99" lengthAdjust="spacingAndGlyphs" fill="#000" stroke="#000" stroke-width="0.2" font-weight="bold">.63in</text>
<text x="1775.2" y="1206" font-size="28.34" textLength="106.58" lengthAdjust="spacingAndGlyphs" fill="#000" stroke="#000" stroke-width="0.2" font-weight="bold">15.9mm</text>
<polyline points="1776.5,1178.3 1768,1178.3 1768,1212.6 1776.5,1212.6" stroke="#000" stroke-width="1" fill="none"/>
<polyline points="1880.2,1178.3 1888.7,1178.3 1888.7,1212.6 1880.2,1212.6" stroke="#000" stroke-width="1" fill="none"/>
<text x="1806.75" y="1243.6" font-size="27.04" textLength="43" lengthAdjust="spacingAndGlyphs" fill="#000" stroke="#000" stroke-width="0.2" font-weight="bold">TYP</text>
<line x1="2130.6" y1="1112.4" x2="2207" y2="1112.4" stroke="#000" stroke-width="1"/>
<line x1="2147.9" y1="1038" x2="2147.9" y2="1092.5" stroke="#000" stroke-width="1"/>
<polygon points="2147.9,1092.5 2143.4,1065.5 2152.4,1065.5" stroke="#000" stroke-width="0.5" fill="#000"/>
<line x1="2148.2" y1="1112.4" x2="2148.2" y2="1197.9" stroke="#000" stroke-width="1"/>
<line x1="2130.6" y1="1197.9" x2="2148.2" y2="1197.9" stroke="#000" stroke-width="1"/>
<polygon points="2148.2,1112.4 2143.7,1139.4 2152.7,1139.4" stroke="#000" stroke-width="0.5" fill="#000"/>
<text x="2027.16" y="1169.2" font-size="30.38" textLength="61.72" lengthAdjust="spacingAndGlyphs" fill="#000" stroke="#000" stroke-width="0.2" font-weight="bold">.28in</text>
<text x="2012.77" y="1206" font-size="28.34" textLength="91.02" lengthAdjust="spacingAndGlyphs" fill="#000" stroke="#000" stroke-width="0.2" font-weight="bold">7.1mm</text>
<polyline points="2014.1,1178.3 2005.6,1178.3 2005.6,1212.6 2014.1,1212.6" stroke="#000" stroke-width="1" fill="none"/>
<polyline points="2102.5,1178.3 2111,1178.3 2111,1212.6 2102.5,1212.6" stroke="#000" stroke-width="1" fill="none"/>
<text x="2036.36" y="1243.6" font-size="27.04" textLength="42.39" lengthAdjust="spacingAndGlyphs" fill="#000" stroke="#000" stroke-width="0.2" font-weight="bold">TYP</text>
<text x="1752.07" y="584.9" font-size="32.85" textLength="124.39" lengthAdjust="spacingAndGlyphs" fill="#000" stroke="#000" stroke-width="0.2" font-weight="bold">WEIGHT:</text>
<text x="1882.23" y="584.9" font-size="32.85" textLength="18.68" lengthAdjust="spacingAndGlyphs" fill="#000" stroke="#000" stroke-width="0.2" font-weight="bold">3</text>
<text x="1907.81" y="584.9" font-size="32.85" textLength="43.22" lengthAdjust="spacingAndGlyphs" fill="#000" stroke="#000" stroke-width="0.2" font-weight="bold">lbs</text>
<text x="1958.87" y="584.9" font-size="32.85" textLength="18.14" lengthAdjust="spacingAndGlyphs" fill="#000" stroke="#000" stroke-width="0.2" font-weight="bold">9</text>
<text x="1985.67" y="584.9" font-size="32.85" textLength="34.86" lengthAdjust="spacingAndGlyphs" fill="#000" stroke="#000" stroke-width="0.2" font-weight="bold">oz</text>
<text x="2053.64" y="584.9" font-size="32.85" textLength="60.69" lengthAdjust="spacingAndGlyphs" fill="#000" stroke="#000" stroke-width="0.2" font-weight="bold">1.63</text>
<text x="2120.92" y="584.9" font-size="32.85" textLength="41.46" lengthAdjust="spacingAndGlyphs" fill="#000" stroke="#000" stroke-width="0.2" font-weight="bold">kg</text>
<polygon points="2029.6,588.4 2033.6,588.4 2042.6,561.6 2038.6,561.6" stroke="#000" stroke-width="0.4" fill="#000"/>
<text x="1601.57" y="1366" font-size="33.14" textLength="65.42" lengthAdjust="spacingAndGlyphs" fill="#000" stroke="#000" stroke-width="0.2" font-weight="bold">Feet</text>
<text x="1675.01" y="1366" font-size="33.14" textLength="50.95" lengthAdjust="spacingAndGlyphs" fill="#000" stroke="#000" stroke-width="0.2" font-weight="bold">are</text>
<text x="1733.89" y="1366" font-size="33.14" textLength="68.1" lengthAdjust="spacingAndGlyphs" fill="#000" stroke="#000" stroke-width="0.2" font-weight="bold">held</text>
<text x="1809.63" y="1366" font-size="33.14" textLength="27.59" lengthAdjust="spacingAndGlyphs" fill="#000" stroke="#000" stroke-width="0.2" font-weight="bold">in</text>
<text x="1845" y="1366" font-size="33.14" textLength="89.3" lengthAdjust="spacingAndGlyphs" fill="#000" stroke="#000" stroke-width="0.2" font-weight="bold">place</text>
<text x="1943.99" y="1366" font-size="33.14" textLength="60.59" lengthAdjust="spacingAndGlyphs" fill="#000" stroke="#000" stroke-width="0.2" font-weight="bold">with</text>
<text x="2041.49" y="1366" font-size="33.14" textLength="43.07" lengthAdjust="spacingAndGlyphs" fill="#000" stroke="#000" stroke-width="0.2" font-weight="bold">3.5</text>
<text x="2093.33" y="1366" font-size="33.14" textLength="103.42" lengthAdjust="spacingAndGlyphs" fill="#000" stroke="#000" stroke-width="0.2" font-weight="bold">screws</text>
<text x="2011.01" y="1366" font-size="33.14" textLength="30.97" lengthAdjust="spacingAndGlyphs" fill="#000" stroke="#000" stroke-width="0.2" font-weight="bold" font-style="italic">M</text>
</svg></body></html>
